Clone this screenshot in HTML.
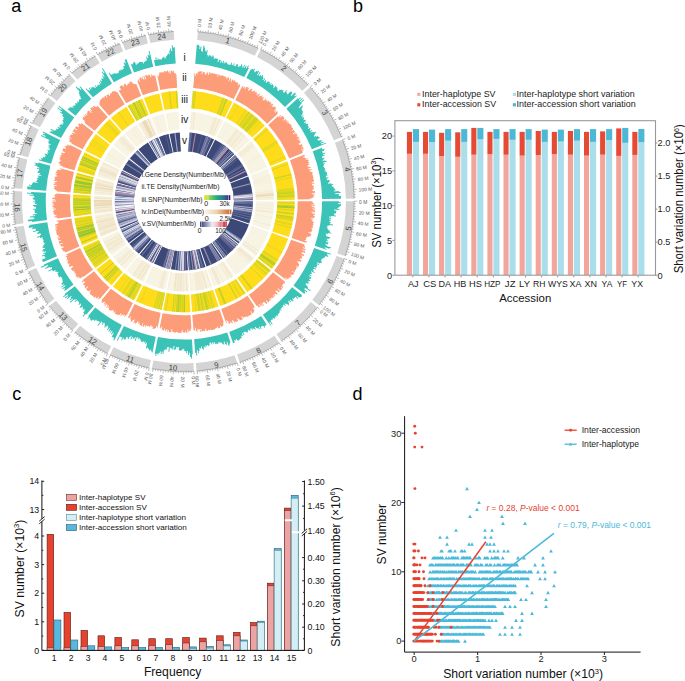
<!DOCTYPE html>
<html><head><meta charset="utf-8"><style>
html,body{margin:0;padding:0;background:#fff;overflow:hidden;}
svg{display:block;font-family:"Liberation Sans", sans-serif;}
</style></head><body>
<svg width="685" height="681" viewBox="0 0 685 681">
<rect width="685" height="681" fill="#fff"/>
<g>
<path d="M197.8,31.8A170.2,170.2 0 0 1 258.4,48.4L254.8,55.7A162.0,162.0 0 0 0 197.2,39.9Z" fill="#d4d4d4"/>
<path d="M260.8,49.5A170.2,170.2 0 0 1 308.3,85.2L302.3,90.8A162.0,162.0 0 0 0 257.1,56.9Z" fill="#d4d4d4"/>
<path d="M310.1,87.2A170.2,170.2 0 0 1 341.5,137.2L333.9,140.3A162.0,162.0 0 0 0 304,92.7Z" fill="#d4d4d4"/>
<path d="M342.5,139.7A170.2,170.2 0 0 1 354.1,198.6L345.9,198.7A162.0,162.0 0 0 0 334.9,142.7Z" fill="#d4d4d4"/>
<path d="M354.1,201.3A170.2,170.2 0 0 1 345.1,256.1L337.3,253.5A162.0,162.0 0 0 0 345.9,201.3Z" fill="#d4d4d4"/>
<path d="M344.2,258.6A170.2,170.2 0 0 1 318.8,305.1L312.3,300.1A162.0,162.0 0 0 0 336.5,255.9Z" fill="#d4d4d4"/>
<path d="M317.2,307.2A170.2,170.2 0 0 1 281.2,341.1L276.5,334.3A162.0,162.0 0 0 0 310.8,302.1Z" fill="#d4d4d4"/>
<path d="M279,342.6A170.2,170.2 0 0 1 239.7,362.2L237,354.4A162.0,162.0 0 0 0 274.4,335.8Z" fill="#d4d4d4"/>
<path d="M237.2,363A170.2,170.2 0 0 1 196.5,371.1L195.9,363A162.0,162.0 0 0 0 234.6,355.3Z" fill="#d4d4d4"/>
<path d="M193.8,371.3A170.2,170.2 0 0 1 151.9,368.6L153.4,360.5A162.0,162.0 0 0 0 193.4,363.1Z" fill="#d4d4d4"/>
<path d="M149.2,368A170.2,170.2 0 0 1 110,354.7L113.5,347.3A162.0,162.0 0 0 0 150.9,360Z" fill="#d4d4d4"/>
<path d="M107.6,353.5A170.2,170.2 0 0 1 74.8,332.1L80.1,325.8A162.0,162.0 0 0 0 111.2,346.2Z" fill="#d4d4d4"/>
<path d="M72.8,330.3A170.2,170.2 0 0 1 49.5,305.8L56,300.8A162.0,162.0 0 0 0 78.2,324.1Z" fill="#d4d4d4"/>
<path d="M47.9,303.7A170.2,170.2 0 0 1 28.7,271.3L36.2,267.9A162.0,162.0 0 0 0 54.4,298.8Z" fill="#d4d4d4"/>
<path d="M27.6,268.9A170.2,170.2 0 0 1 15.6,227L23.7,225.8A162.0,162.0 0 0 0 35.2,265.6Z" fill="#d4d4d4"/>
<path d="M15.3,224.4A170.2,170.2 0 0 1 14,190.9L22.2,191.4A162.0,162.0 0 0 0 23.4,223.2Z" fill="#d4d4d4"/>
<path d="M14.2,188.2A170.2,170.2 0 0 1 19.5,157.5L27.4,159.6A162.0,162.0 0 0 0 22.4,188.8Z" fill="#d4d4d4"/>
<path d="M20.2,154.9A170.2,170.2 0 0 1 31.4,125.9L38.7,129.5A162.0,162.0 0 0 0 28.1,157.2Z" fill="#d4d4d4"/>
<path d="M32.6,123.5A170.2,170.2 0 0 1 48.8,97.9L55.3,102.9A162.0,162.0 0 0 0 39.9,127.2Z" fill="#d4d4d4"/>
<path d="M50.4,95.8A170.2,170.2 0 0 1 69.9,75L75.4,81.1A162.0,162.0 0 0 0 56.9,100.9Z" fill="#d4d4d4"/>
<path d="M71.9,73.2A170.2,170.2 0 0 1 95.4,56L99.6,63.1A162.0,162.0 0 0 0 77.3,79.4Z" fill="#d4d4d4"/>
<path d="M97.6,54.7A170.2,170.2 0 0 1 120,43.6L123.1,51.2A162.0,162.0 0 0 0 101.8,61.7Z" fill="#d4d4d4"/>
<path d="M122.5,42.7A170.2,170.2 0 0 1 146,35.5L147.9,43.5A162.0,162.0 0 0 0 125.4,50.3Z" fill="#d4d4d4"/>
<path d="M148.7,34.9A170.2,170.2 0 0 1 173.8,31.5L174.3,39.7A162.0,162.0 0 0 0 150.4,42.9Z" fill="#d4d4d4"/>
<path d="M197.9,31.7A170.3,170.3 0 0 1 258.4,48.3M197.9,31.7L198.1,28.7M200.4,31.9L200.6,30.3M202.9,32.2L203.1,30.6M205.5,32.5L205.7,30.9M208,32.8L208.4,29.8M210.5,33.2L210.8,31.6M213.1,33.6L213.3,32M215.6,34.1L215.9,32.5M218.1,34.6L218.7,31.6M220.6,35.1L220.9,33.5M223.1,35.7L223.4,34.1M225.6,36.3L226,34.7M228,36.9L228.8,34M230.5,37.6L230.9,36.1M233,38.3L233.4,36.8M235.4,39.1L235.9,37.5M237.8,39.9L238.8,37M240.2,40.7L240.8,39.2M242.6,41.6L243.2,40.1M245,42.5L245.6,41M247.4,43.4L248.5,40.6M249.8,44.4L250.4,42.9M252.1,45.4L252.8,43.9M254.5,46.4L255.1,45M256.8,47.5L258.1,44.8M260.8,49.5A170.3,170.3 0 0 1 308.3,85.1M260.8,49.5L262.2,46.8M263.1,50.6L263.8,49.2M265.3,51.8L266.1,50.4M267.6,53.1L268.4,51.7M269.8,54.3L271.3,51.8M272,55.7L272.8,54.3M274.2,57L275,55.6M276.3,58.4L277.2,57M278.5,59.8L280.1,57.3M280.6,61.2L281.5,59.9M282.7,62.7L283.6,61.4M284.7,64.2L285.7,62.9M286.8,65.7L288.6,63.3M288.8,67.3L289.8,66M290.8,68.8L291.8,67.6M292.8,70.5L293.8,69.2M294.7,72.1L296.7,69.8M296.7,73.8L297.7,72.6M298.6,75.5L299.7,74.3M300.5,77.2L301.6,76.1M302.3,79L304.4,76.8M304.1,80.8L305.3,79.7M305.9,82.6L307.1,81.5M307.7,84.5L308.9,83.4M310.2,87.1A170.3,170.3 0 0 1 341.6,137.2M310.2,87.1L312.4,85.1M311.9,89L313.1,88M313.5,91L314.8,89.9M315.2,92.9L316.4,91.9M316.8,94.9L319.1,93M318.4,96.9L319.6,95.9M319.9,98.9L321.2,98M321.4,101L322.7,100M322.9,103.1L325.4,101.3M324.4,105.2L325.7,104.3M325.8,107.3L327.2,106.4M327.2,109.4L328.6,108.6M328.6,111.6L331.1,110M329.9,113.8L331.3,112.9M331.2,116L332.6,115.2M332.5,118.2L333.9,117.4M333.7,120.4L336.4,119M334.9,122.7L336.3,121.9M336.1,125L337.5,124.2M337.2,127.3L338.7,126.6M338.3,129.6L341,128.3M339.4,131.9L340.8,131.2M340.4,134.2L341.9,133.6M341.4,136.6L342.9,136M342.6,139.7A170.3,170.3 0 0 1 354.2,198.6M342.6,139.7L345.4,138.6M343.5,142.1L345,141.5M344.4,144.5L345.9,143.9M345.2,146.9L346.8,146.4M346,149.3L348.9,148.4M346.8,151.8L348.3,151.3M347.5,154.2L349.1,153.8M348.2,156.7L349.8,156.2M348.9,159.1L351.8,158.4M349.5,161.6L351,161.2M350.1,164.1L351.6,163.8M350.6,166.6L352.2,166.3M351.1,169.1L354.1,168.5M351.6,171.6L353.2,171.3M352,174.1L353.6,173.9M352.4,176.7L354,176.4M352.7,179.2L355.7,178.8M353.1,181.7L354.7,181.6M353.3,184.3L354.9,184.1M353.6,186.8L355.2,186.7M353.8,189.4L356.8,189.2M353.9,191.9L355.5,191.8M354.1,194.5L355.7,194.4M354.1,197L355.7,197M354.2,201.3A170.3,170.3 0 0 1 345.2,256.1M354.2,201.3L357.2,201.2M354.2,203.8L355.8,203.8M354.1,206.4L355.7,206.4M354,208.9L355.6,209M353.9,211.5L356.9,211.6M353.7,214L355.3,214.1M353.5,216.6L355.1,216.7M353.3,219.1L354.9,219.3M353,221.7L356,222M352.7,224.2L354.3,224.4M352.3,226.7L353.9,227M351.9,229.2L353.5,229.5M351.5,231.8L354.4,232.3M351,234.3L352.6,234.6M350.5,236.8L352,237.1M349.9,239.3L351.5,239.6M349.3,241.8L352.3,242.5M348.7,244.2L350.3,244.6M348.1,246.7L349.6,247.1M347.4,249.2L348.9,249.6M346.6,251.6L349.5,252.5M345.9,254.1L347.4,254.5M344.3,258.7A170.3,170.3 0 0 1 318.9,305.2M344.3,258.7L347.1,259.7M343.4,261.1L344.9,261.6M342.5,263.5L344,264M341.5,265.8L343,266.4M340.6,268.2L343.3,269.4M339.5,270.5L341,271.2M338.5,272.9L339.9,273.5M337.4,275.2L338.8,275.9M336.3,277.5L339,278.8M335.1,279.7L336.5,280.5M333.9,282L335.3,282.8M332.7,284.2L334.1,285M331.4,286.5L334,288M330.1,288.7L331.5,289.5M328.8,290.9L330.2,291.7M327.4,293L328.8,293.9M326.1,295.2L328.6,296.8M324.6,297.3L326,298.2M323.2,299.4L324.5,300.3M321.7,301.5L323,302.4M320.2,303.5L322.6,305.3M317.3,307.3A170.3,170.3 0 0 1 281.2,341.2M317.3,307.3L319.6,309.2M315.7,309.3L316.9,310.3M314,311.3L315.3,312.3M312.4,313.2L313.6,314.2M310.7,315.1L312.9,317.1M309,317L310.1,318.1M307.2,318.9L308.4,320M305.4,320.7L306.6,321.8M303.6,322.5L305.7,324.6M301.8,324.3L302.9,325.4M299.9,326.1L301,327.2M298.1,327.8L299.1,329M296.1,329.5L298.1,331.7M294.2,331.1L295.2,332.4M292.2,332.8L293.3,334M290.3,334.4L291.3,335.6M288.3,336L290.1,338.4M286.2,337.5L287.2,338.8M284.2,339.1L285.1,340.3M282.1,340.5L283,341.8M279,342.7A170.3,170.3 0 0 1 239.8,362.3M279,342.7L280.7,345.2M276.9,344.1L277.7,345.4M274.7,345.5L275.6,346.8M272.6,346.8L273.4,348.2M270.4,348.1L271.9,350.7M268.1,349.4L268.9,350.8M265.9,350.6L266.7,352.1M263.7,351.9L264.4,353.3M261.4,353L262.8,355.7M259.1,354.2L259.8,355.6M256.8,355.3L257.5,356.7M254.5,356.4L255.2,357.8M252.2,357.4L253.4,360.2M249.8,358.4L250.4,359.9M247.4,359.4L248,360.9M245.1,360.3L245.6,361.8M242.7,361.2L243.7,364.1M240.3,362.1L240.8,363.6M237.2,363.1A170.3,170.3 0 0 1 196.5,371.2M237.2,363.1L238.2,366M234.8,363.9L235.3,365.4M232.4,364.7L232.8,366.2M229.9,365.4L230.3,366.9M227.4,366L228.2,368.9M225,366.7L225.3,368.2M222.5,367.3L222.8,368.8M220,367.8L220.3,369.4M217.5,368.4L218.1,371.3M215,368.8L215.3,370.4M212.4,369.3L212.7,370.9M209.9,369.7L210.2,371.3M207.4,370.1L207.8,373M204.9,370.4L205.1,372M202.3,370.7L202.5,372.3M199.8,371L199.9,372.6M197.2,371.2L197.5,374.2M193.9,371.4A170.3,170.3 0 0 1 151.8,368.7M193.9,371.4L194,374.4M191.3,371.5L191.4,373.1M188.7,371.6L188.8,373.2M186.2,371.7L186.2,373.3M183.6,371.7L183.6,374.7M181.1,371.7L181,373.3M178.5,371.6L178.5,373.2M176,371.5L175.9,373.1M173.4,371.4L173.2,374.4M170.9,371.2L170.7,372.8M168.3,371L168.2,372.6M165.8,370.7L165.6,372.3M163.2,370.4L162.9,373.4M160.7,370.1L160.5,371.7M158.2,369.7L157.9,371.3M155.6,369.3L155.4,370.9M153.1,368.9L152.6,371.8M149.2,368.1A170.3,170.3 0 0 1 109.9,354.8M149.2,368.1L148.6,371.1M146.7,367.6L146.4,369.2M144.2,367L143.9,368.6M141.7,366.4L141.4,368M139.3,365.8L138.5,368.6M136.8,365.1L136.4,366.6M134.4,364.3L133.9,365.9M131.9,363.6L131.4,365.1M129.5,362.8L128.5,365.6M127.1,361.9L126.5,363.5M124.7,361.1L124.1,362.6M122.3,360.2L121.7,361.7M119.9,359.2L118.8,362M117.6,358.2L116.9,359.7M115.2,357.2L114.6,358.7M112.9,356.2L112.2,357.6M110.6,355.1L109.3,357.8M107.5,353.6A170.3,170.3 0 0 1 74.8,332.1M107.5,353.6L106.2,356.3M105.2,352.4L104.5,353.9M103,351.2L102.2,352.7M100.7,350L100,351.4M98.5,348.8L97,351.3M96.3,347.5L95.5,348.8M94.1,346.1L93.3,347.5M92,344.8L91.1,346.1M89.8,343.4L88.2,345.9M87.7,341.9L86.8,343.3M85.6,340.5L84.7,341.8M83.5,339L82.6,340.3M81.5,337.5L79.7,339.9M79.5,335.9L78.5,337.2M77.4,334.3L76.4,335.6M75.5,332.7L74.4,333.9M72.7,330.4A170.3,170.3 0 0 1 49.4,305.9M72.7,330.4L70.8,332.7M70.8,328.7L69.7,329.9M68.9,327L67.8,328.2M67,325.3L65.9,326.4M65.2,323.5L63.1,325.7M63.4,321.7L62.2,322.8M61.6,319.9L60.4,321M59.8,318L58.7,319.1M58.1,316.2L55.9,318.2M56.4,314.3L55.2,315.3M54.7,312.3L53.5,313.4M53,310.4L51.8,311.4M51.4,308.4L49.1,310.3M49.8,306.4L48.6,307.4M47.8,303.8A170.3,170.3 0 0 1 28.6,271.3M47.8,303.8L45.4,305.6M46.3,301.7L45,302.7M44.8,299.6L43.5,300.6M43.3,297.5L42,298.4M41.9,295.4L39.4,297.1M40.5,293.3L39.2,294.1M39.1,291.1L37.8,292M37.8,288.9L36.4,289.8M36.5,286.7L33.9,288.2M35.3,284.5L33.9,285.3M34,282.3L32.6,283M32.8,280L31.4,280.7M31.7,277.7L29,279.1M30.5,275.4L29.1,276.1M29.4,273.1L28,273.8M27.5,268.9A170.3,170.3 0 0 1 15.5,227M27.5,268.9L24.8,270.1M26.6,266.5L25.1,267.2M25.6,264.2L24.1,264.8M24.7,261.8L23.2,262.4M23.8,259.4L21,260.4M22.9,257L21.4,257.5M22.1,254.6L20.6,255.1M21.3,252.1L19.8,252.6M20.6,249.7L17.7,250.5M19.9,247.2L18.3,247.7M19.2,244.8L17.7,245.2M18.6,242.3L17,242.7M18,239.8L15.1,240.5M17.4,237.3L15.9,237.6M16.9,234.8L15.3,235.1M16.4,232.3L14.9,232.6M16,229.8L13,230.3M15.6,227.2L14,227.5M15.2,224.4A170.3,170.3 0 0 1 13.9,190.9M15.2,224.4L12.2,224.8M14.8,221.8L13.2,222M14.5,219.3L13,219.5M14.3,216.7L12.7,216.9M14.1,214.2L11.1,214.4M13.9,211.6L12.3,211.7M13.8,209.1L12.2,209.2M13.7,206.5L12.1,206.6M13.6,204L10.6,204M13.6,201.4L12,201.4M13.6,198.9L12,198.8M13.7,196.3L12.1,196.3M13.8,193.8L10.8,193.6M13.9,191.2L12.3,191.1M14.1,188.2A170.3,170.3 0 0 1 19.4,157.5M14.1,188.2L11.1,188M14.3,185.6L12.7,185.5M14.6,183.1L13,182.9M14.9,180.6L13.3,180.4M15.2,178L12.2,177.6M15.6,175.5L14,175.2M16,173L14.4,172.7M16.4,170.5L14.9,170.2M16.9,167.9L14,167.4M17.4,165.4L15.9,165.1M18,162.9L16.4,162.6M18.6,160.5L17,160.1M19.2,158L16.3,157.2M20.1,154.9A170.3,170.3 0 0 1 31.3,125.8M20.1,154.9L17.2,154.1M20.8,152.4L19.3,152M21.5,150L20,149.5M22.3,147.6L20.8,147.1M23.2,145.1L20.3,144.2M24,142.7L22.5,142.2M24.9,140.3L23.4,139.8M25.9,138L24.4,137.4M26.8,135.6L24.1,134.4M27.8,133.2L26.4,132.6M28.9,130.9L27.4,130.3M29.9,128.6L28.5,127.9M31.1,126.3L28.4,125M32.5,123.4A170.3,170.3 0 0 1 48.7,97.8M32.5,123.4L29.8,122.1M33.7,121.2L32.3,120.4M34.9,118.9L33.5,118.1M36.2,116.7L34.8,115.9M37.5,114.5L34.9,112.9M38.8,112.3L37.4,111.5M40.1,110.1L38.8,109.3M41.5,108L40.2,107.1M42.9,105.8L40.4,104.2M44.4,103.7L43.1,102.8M45.9,101.7L44.6,100.7M47.4,99.6L46.1,98.6M50.3,95.7A170.3,170.3 0 0 1 69.8,74.9M50.3,95.7L48,93.9M51.9,93.7L50.7,92.7M53.6,91.8L52.4,90.7M55.2,89.8L54,88.8M56.9,87.9L54.7,85.9M58.6,86L57.5,84.9M60.4,84.2L59.2,83.1M62.2,82.3L61,81.2M64,80.5L61.9,78.4M65.8,78.7L64.7,77.6M67.6,77L66.6,75.8M69.5,75.2L68.5,74M71.8,73.2A170.3,170.3 0 0 1 95.3,56M71.8,73.2L69.9,70.9M73.8,71.5L72.7,70.3M75.7,69.9L74.7,68.6M77.7,68.3L76.7,67M79.7,66.7L77.9,64.3M81.8,65.1L80.8,63.8M83.8,63.6L82.9,62.3M85.9,62.1L85,60.8M88,60.7L86.3,58.2M90.1,59.2L89.2,57.9M92.3,57.9L91.4,56.5M94.4,56.5L93.6,55.1M97.6,54.6A170.3,170.3 0 0 1 120,43.6M97.6,54.6L96.1,52M99.8,53.3L99,51.9M102,52.1L101.3,50.7M104.3,50.9L103.5,49.4M106.6,49.7L105.2,47M108.8,48.5L108.1,47.1M111.1,47.4L110.5,46M113.5,46.3L112.8,44.9M115.8,45.3L114.6,42.6M118.2,44.3L117.5,42.8M122.5,42.6A170.3,170.3 0 0 1 146,35.4M122.5,42.6L121.4,39.8M124.8,41.7L124.3,40.2M127.2,40.8L126.7,39.3M129.7,40L129.2,38.4M132.1,39.2L131.2,36.3M134.5,38.4L134.1,36.9M137,37.7L136.5,36.2M139.4,37L139,35.5M141.9,36.4L141.2,33.4M144.4,35.7L144,34.2M148.6,34.8A170.3,170.3 0 0 1 173.8,31.4M148.6,34.8L148,31.9M151.1,34.3L150.8,32.7M153.7,33.8L153.4,32.2M156.2,33.4L155.9,31.8M158.7,33L158.3,30M161.2,32.6L161,31M163.8,32.3L163.6,30.7M166.3,32L166.1,30.4M168.9,31.8L168.6,28.8M171.4,31.6L171.3,30" stroke="#666" stroke-width="0.45" fill="none"/>
<g font-size="4.9" fill="#5a5a5a"><text x="198.3" y="26.8" transform="rotate(-85.3 198.3 26.8)" dy="2.6">0 M</text><text x="208.7" y="28" transform="rotate(-81.9 208.7 28)" dy="2.6">20 M</text><text x="219.1" y="29.8" transform="rotate(-78.4 219.1 29.8)" dy="2.6">40 M</text><text x="229.3" y="32.2" transform="rotate(-75 229.3 32.2)" dy="2.6">60 M</text><text x="239.4" y="35.2" transform="rotate(-71.5 239.4 35.2)" dy="2.6">80 M</text><text x="249.2" y="38.8" transform="rotate(-68.1 249.2 38.8)" dy="2.6">100 M</text><text x="258.9" y="43.1" transform="rotate(-64.7 258.9 43.1)" dy="2.6">120 M</text><text x="263" y="45.1" transform="rotate(-63.2 263 45.1)" dy="2.6">0 M</text><text x="272.3" y="50.1" transform="rotate(-59.7 272.3 50.1)" dy="2.6">20 M</text><text x="281.2" y="55.7" transform="rotate(-56.3 281.2 55.7)" dy="2.6">40 M</text><text x="289.8" y="61.8" transform="rotate(-52.8 289.8 61.8)" dy="2.6">60 M</text><text x="297.9" y="68.4" transform="rotate(-49.4 297.9 68.4)" dy="2.6">80 M</text><text x="305.7" y="75.5" transform="rotate(-46 305.7 75.5)" dy="2.6">100 M</text><text x="313.8" y="83.8" transform="rotate(-42.1 313.8 83.8)" dy="2.6">0 M</text><text x="320.6" y="91.8" transform="rotate(-38.7 320.6 91.8)" dy="2.6">20 M</text><text x="326.9" y="100.2" transform="rotate(-35.3 326.9 100.2)" dy="2.6">40 M</text><text x="332.8" y="109" transform="rotate(-31.8 332.8 109)" dy="2.6">60 M</text><text x="338" y="118.1" transform="rotate(-28.4 338 118.1)" dy="2.6">80 M</text><text x="342.7" y="127.5" transform="rotate(-25 342.7 127.5)" dy="2.6">100 M</text><text x="347.2" y="137.9" transform="rotate(-21.2 347.2 137.9)" dy="2.6">0 M</text><text x="350.7" y="147.8" transform="rotate(-17.8 350.7 147.8)" dy="2.6">20 M</text><text x="353.6" y="157.9" transform="rotate(-14.4 353.6 157.9)" dy="2.6">40 M</text><text x="355.9" y="168.2" transform="rotate(-10.9 355.9 168.2)" dy="2.6">60 M</text><text x="357.6" y="178.6" transform="rotate(-7.5 357.6 178.6)" dy="2.6">80 M</text><text x="358.7" y="189" transform="rotate(-4 358.7 189)" dy="2.6">100 M</text><text x="359.1" y="201.2" transform="rotate(-0 359.1 201.2)" dy="2.6">0 M</text><text x="358.8" y="211.8" transform="rotate(3.4 358.8 211.8)" dy="2.6">20 M</text><text x="357.9" y="222.2" transform="rotate(6.8 357.9 222.2)" dy="2.6">40 M</text><text x="356.3" y="232.6" transform="rotate(10.3 356.3 232.6)" dy="2.6">60 M</text><text x="354.1" y="242.9" transform="rotate(13.7 354.1 242.9)" dy="2.6">80 M</text><text x="351.3" y="253.1" transform="rotate(17.2 351.3 253.1)" dy="2.6">100 M</text><text x="348.9" y="260.3" transform="rotate(19.7 348.9 260.3)" dy="2.6">0 M</text><text x="345.1" y="270.1" transform="rotate(23.1 345.1 270.1)" dy="2.6">20 M</text><text x="340.7" y="279.7" transform="rotate(26.5 340.7 279.7)" dy="2.6">40 M</text><text x="335.7" y="288.9" transform="rotate(30 335.7 288.9)" dy="2.6">60 M</text><text x="330.1" y="297.9" transform="rotate(33.4 330.1 297.9)" dy="2.6">80 M</text><text x="324.1" y="306.5" transform="rotate(36.9 324.1 306.5)" dy="2.6">100 M</text><text x="321.1" y="310.3" transform="rotate(38.4 321.1 310.3)" dy="2.6">0 M</text><text x="314.3" y="318.4" transform="rotate(41.9 314.3 318.4)" dy="2.6">20 M</text><text x="307.1" y="326" transform="rotate(45.3 307.1 326)" dy="2.6">40 M</text><text x="299.4" y="333.2" transform="rotate(48.8 299.4 333.2)" dy="2.6">60 M</text><text x="291.3" y="339.9" transform="rotate(52.2 291.3 339.9)" dy="2.6">80 M</text><text x="281.7" y="346.7" transform="rotate(56 281.7 346.7)" dy="2.6">0 M</text><text x="272.8" y="352.3" transform="rotate(59.5 272.8 352.3)" dy="2.6">20 M</text><text x="263.6" y="357.4" transform="rotate(62.9 263.6 357.4)" dy="2.6">40 M</text><text x="254.1" y="361.9" transform="rotate(66.4 254.1 361.9)" dy="2.6">60 M</text><text x="244.4" y="365.8" transform="rotate(69.8 244.4 365.8)" dy="2.6">80 M</text><text x="238.8" y="367.8" transform="rotate(71.8 238.8 367.8)" dy="2.6">0 M</text><text x="228.7" y="370.8" transform="rotate(75.2 228.7 370.8)" dy="2.6">20 M</text><text x="218.4" y="373.2" transform="rotate(78.6 218.4 373.2)" dy="2.6">40 M</text><text x="208.1" y="374.9" transform="rotate(82.1 208.1 374.9)" dy="2.6">60 M</text><text x="197.6" y="376.1" transform="rotate(85.5 197.6 376.1)" dy="2.6">80 M</text><text x="194.1" y="376.3" transform="rotate(86.6 194.1 376.3)" dy="2.6">0 M</text><text x="183.6" y="376.6" transform="rotate(90.1 183.6 376.6)" dy="2.6">20 M</text><text x="173.1" y="376.3" transform="rotate(93.5 173.1 376.3)" dy="2.6">40 M</text><text x="162.6" y="375.3" transform="rotate(97 162.6 375.3)" dy="2.6">60 M</text><text x="152.2" y="373.7" transform="rotate(100.4 152.2 373.7)" dy="2.6">80 M</text><text x="148.2" y="372.9" transform="rotate(101.8 148.2 372.9)" dy="2.6">0 M</text><text x="138" y="370.5" transform="rotate(105.2 138 370.5)" dy="2.6">20 M</text><text x="127.9" y="367.4" transform="rotate(108.6 127.9 367.4)" dy="2.6">40 M</text><text x="118.1" y="363.8" transform="rotate(112.1 118.1 363.8)" dy="2.6">60 M</text><text x="108.4" y="359.5" transform="rotate(115.5 108.4 359.5)" dy="2.6">80 M</text><text x="105.3" y="358" transform="rotate(296.6 105.3 358)" dy="1.7" text-anchor="end">0 M</text><text x="96.1" y="353" transform="rotate(300.1 96.1 353)" dy="1.7" text-anchor="end">20 M</text><text x="87.1" y="347.4" transform="rotate(303.5 87.1 347.4)" dy="1.7" text-anchor="end">40 M</text><text x="78.5" y="341.4" transform="rotate(307 78.5 341.4)" dy="1.7" text-anchor="end">60 M</text><text x="69.5" y="334.1" transform="rotate(310.8 69.5 334.1)" dy="1.7" text-anchor="end">0 M</text><text x="61.8" y="327" transform="rotate(314.2 61.8 327)" dy="1.7" text-anchor="end">20 M</text><text x="54.5" y="319.5" transform="rotate(317.6 54.5 319.5)" dy="1.7" text-anchor="end">40 M</text><text x="47.6" y="311.5" transform="rotate(321.1 47.6 311.5)" dy="1.7" text-anchor="end">60 M</text><text x="43.9" y="306.7" transform="rotate(323 43.9 306.7)" dy="1.7" text-anchor="end">0 M</text><text x="37.8" y="298.1" transform="rotate(326.5 37.8 298.1)" dy="1.7" text-anchor="end">20 M</text><text x="32.3" y="289.2" transform="rotate(329.9 32.3 289.2)" dy="1.7" text-anchor="end">40 M</text><text x="27.3" y="279.9" transform="rotate(333.4 27.3 279.9)" dy="1.7" text-anchor="end">60 M</text><text x="23" y="270.8" transform="rotate(336.6 23 270.8)" dy="1.7" text-anchor="end">0 M</text><text x="19.2" y="261.1" transform="rotate(340.1 19.2 261.1)" dy="1.7" text-anchor="end">20 M</text><text x="15.9" y="251.1" transform="rotate(343.5 15.9 251.1)" dy="1.7" text-anchor="end">40 M</text><text x="13.2" y="240.9" transform="rotate(347 13.2 240.9)" dy="1.7" text-anchor="end">60 M</text><text x="11.1" y="230.6" transform="rotate(350.4 11.1 230.6)" dy="1.7" text-anchor="end">80 M</text><text x="10.3" y="225" transform="rotate(352.2 10.3 225)" dy="1.7" text-anchor="end">0 M</text><text x="9.2" y="214.6" transform="rotate(355.7 9.2 214.6)" dy="1.7" text-anchor="end">20 M</text><text x="8.7" y="204.1" transform="rotate(359.1 8.7 204.1)" dy="1.7" text-anchor="end">40 M</text><text x="8.9" y="193.5" transform="rotate(362.6 8.9 193.5)" dy="1.7" text-anchor="end">60 M</text><text x="9.2" y="187.8" transform="rotate(364.4 9.2 187.8)" dy="1.7" text-anchor="end">0 M</text><text x="10.4" y="177.4" transform="rotate(367.9 10.4 177.4)" dy="1.7" text-anchor="end">20 M</text><text x="12.1" y="167" transform="rotate(371.3 12.1 167)" dy="1.7" text-anchor="end">40 M</text><text x="14.5" y="156.7" transform="rotate(374.8 14.5 156.7)" dy="1.7" text-anchor="end">60 M</text><text x="15.4" y="153.5" transform="rotate(375.8 15.4 153.5)" dy="1.7" text-anchor="end">0 M</text><text x="18.5" y="143.5" transform="rotate(379.3 18.5 143.5)" dy="1.7" text-anchor="end">20 M</text><text x="22.3" y="133.7" transform="rotate(382.7 22.3 133.7)" dy="1.7" text-anchor="end">40 M</text><text x="26.7" y="124.1" transform="rotate(386.2 26.7 124.1)" dy="1.7" text-anchor="end">60 M</text><text x="28.1" y="121.2" transform="rotate(387.2 28.1 121.2)" dy="1.7" text-anchor="end">0 M</text><text x="33.2" y="112" transform="rotate(390.7 33.2 112)" dy="1.7" text-anchor="end">20 M</text><text x="38.9" y="103.1" transform="rotate(394.1 38.9 103.1)" dy="1.7" text-anchor="end">40 M</text><text x="46.5" y="92.7" transform="rotate(218.3 46.5 92.7)" dy="2.6">0 M</text><text x="53.3" y="84.6" transform="rotate(221.8 53.3 84.6)" dy="2.6">20 M</text><text x="60.5" y="77" transform="rotate(225.2 60.5 77)" dy="2.6">40 M</text><text x="68.6" y="69.5" transform="rotate(228.8 68.6 69.5)" dy="2.6">0 M</text><text x="76.7" y="62.8" transform="rotate(232.3 76.7 62.8)" dy="2.6">20 M</text><text x="85.2" y="56.6" transform="rotate(235.7 85.2 56.6)" dy="2.6">40 M</text><text x="95.1" y="50.4" transform="rotate(239.6 95.1 50.4)" dy="2.6">0 M</text><text x="104.3" y="45.3" transform="rotate(243 104.3 45.3)" dy="2.6">20 M</text><text x="113.8" y="40.8" transform="rotate(246.4 113.8 40.8)" dy="2.6">40 M</text><text x="120.7" y="38" transform="rotate(248.8 120.7 38)" dy="2.6">0 M</text><text x="130.6" y="34.5" transform="rotate(252.3 130.6 34.5)" dy="2.6">20 M</text><text x="140.7" y="31.6" transform="rotate(255.7 140.7 31.6)" dy="2.6">40 M</text><text x="147.6" y="30" transform="rotate(258.1 147.6 30)" dy="2.6">0 M</text><text x="158" y="28.1" transform="rotate(261.5 158 28.1)" dy="2.6">20 M</text><text x="168.4" y="26.9" transform="rotate(264.9 168.4 26.9)" dy="2.6">40 M</text></g>
<g font-size="7.8" fill="#444"><text x="227.9" y="40.7" transform="rotate(15.3 227.9 40.7)" dy="2.8" text-anchor="middle">1</text><text x="283.9" y="68.2" transform="rotate(36.9 283.9 68.2)" dy="2.8" text-anchor="middle">2</text><text x="325" y="112.7" transform="rotate(57.8 325 112.7)" dy="2.8" text-anchor="middle">3</text><text x="347.4" y="169.3" transform="rotate(78.9 347.4 169.3)" dy="2.8" text-anchor="middle">4</text><text x="348.3" y="228.5" transform="rotate(-80.7 348.3 228.5)" dy="2.8" text-anchor="middle">5</text><text x="330.2" y="281.2" transform="rotate(-61.4 330.2 281.2)" dy="2.8" text-anchor="middle">6</text><text x="297.9" y="322.8" transform="rotate(-43.2 297.9 322.8)" dy="2.8" text-anchor="middle">7</text><text x="258.4" y="350.4" transform="rotate(-26.6 258.4 350.4)" dy="2.8" text-anchor="middle">8</text><text x="216.4" y="364.8" transform="rotate(-11.2 216.4 364.8)" dy="2.8" text-anchor="middle">9</text><text x="173" y="367.6" transform="rotate(3.8 173 367.6)" dy="2.8" text-anchor="middle">10</text><text x="130.3" y="359.2" transform="rotate(18.8 130.3 359.2)" dy="2.8" text-anchor="middle">11</text><text x="92.6" y="340.7" transform="rotate(33.2 92.6 340.7)" dy="2.8" text-anchor="middle">12</text><text x="63.2" y="316.2" transform="rotate(46.4 63.2 316.2)" dy="2.8" text-anchor="middle">13</text><text x="40.5" y="286.2" transform="rotate(59.4 40.5 286.2)" dy="2.8" text-anchor="middle">14</text><text x="23.8" y="247.3" transform="rotate(74 23.8 247.3)" dy="2.8" text-anchor="middle">15</text><text x="17.4" y="207.5" transform="rotate(87.9 17.4 207.5)" dy="2.8" text-anchor="middle">16</text><text x="19.7" y="173.3" transform="rotate(279.7 19.7 173.3)" dy="2.8" text-anchor="middle">17</text><text x="28.5" y="141.4" transform="rotate(291.1 28.5 141.4)" dy="2.8" text-anchor="middle">18</text><text x="43.2" y="112.3" transform="rotate(302.4 43.2 112.3)" dy="2.8" text-anchor="middle">19</text><text x="62.4" y="87.5" transform="rotate(313.1 62.4 87.5)" dy="2.8" text-anchor="middle">20</text><text x="85.4" y="67" transform="rotate(323.8 85.4 67)" dy="2.8" text-anchor="middle">21</text><text x="110.2" y="52" transform="rotate(333.8 110.2 52)" dy="2.8" text-anchor="middle">22</text><text x="135.2" y="42.1" transform="rotate(343 135.2 42.1)" dy="2.8" text-anchor="middle">23</text><text x="161.6" y="36.3" transform="rotate(352.3 161.6 36.3)" dy="2.8" text-anchor="middle">24</text></g>
<path d="M195.2,63.7L196.8,44.7L197.7,44.8L197.7,44.8L198.7,44.9L198.6,45.6L199.6,45.7L199.3,49L200.2,49.1L200.5,46.4L201.5,46.5L201,51L201.9,51.1L201.8,51.7L202.7,51.8L203.5,45.4L204.5,45.6L204.2,47.5L205.2,47.7L204.8,50.4L205.8,50.5L205.6,51.5L206.5,51.7L206.8,49.9L207.7,50L207,55L207.9,55.1L207.7,56.4L208.6,56.5L208.8,55L209.7,55.2L209.7,55.3L210.6,55.5L210.5,56L211.4,56.2L211.3,56.8L212.2,56.9L212.5,55.3L213.4,55.5L213.2,56.5L214.1,56.7L213.6,58.9L214.5,59.1L214.7,58L215.6,58.2L215.6,58.4L216.5,58.6L216.5,58.6L217.3,58.8L217.4,58.8L218.2,59L217.5,61.9L218.4,62.1L219,59.6L219.9,59.9L219.9,59.7L220.8,59.9L220.1,62.5L221,62.7L221.5,60.7L222.4,61L221.9,62.9L222.7,63.1L223.4,60.7L224.3,60.9L223.6,63.3L224.4,63.5L224.8,62.4L225.6,62.7L225.9,61.9L226.7,62.1L226.5,62.7L227.4,63L227.1,64L227.9,64.3L227.9,64.4L228.8,64.6L228.8,64.6L229.6,64.9L229.7,64.5L230.6,64.8L231.4,62.5L232.2,62.8L231.6,64.6L232.4,64.9L232.4,65.1L233.2,65.4L234,63.3L234.8,63.6L234,65.8L234.8,66.2L235,65.7L235.9,66L236.6,64L237.5,64.3L237.5,64.3L238.3,64.6L237.5,66.7L238.4,67L238.6,66.3L239.5,66.7L239.7,66.1L240.5,66.4L241.5,64.1L242.4,64.5L241.8,65.7L242.7,66L242.1,67.3L243,67.7L244.3,64.7L245.1,65.1L244,67.4L244.9,67.8L245.8,65.7L246.7,66.1L245.8,68L246.6,68.4L248,65.4L248.9,65.8L248,67.5L248.9,67.9L244.4,77.1A138.2,138.2 0 0 0 195.2,63.7ZM246.3,78.1L250.9,69.1L251.7,69.5L252.1,68.8L252.9,69.2L252.8,69.3L253.6,69.8L254.3,68.5L255.1,68.9L254,71L254.8,71.5L254.4,72.1L255.2,72.6L256.2,70.7L257,71.2L257,71.2L257.8,71.6L258.4,70.7L259.2,71.1L257,74.9L257.8,75.3L259.7,72L260.5,72.5L258.7,75.5L259.5,76L260.3,74.7L261,75.2L260.5,76.1L261.2,76.6L262.4,74.7L263.2,75.1L262.5,76.3L263.3,76.8L262.9,77.4L263.7,77.9L262.5,79.7L263.2,80.2L264.5,78.2L265.3,78.7L263.8,80.9L264.6,81.4L265.4,80.1L266.2,80.6L265.8,81.2L266.5,81.7L266,82.4L266.7,82.9L268,81.1L268.7,81.7L268.7,81.7L269.4,82.3L269.5,82.1L270.2,82.7L269.4,83.9L270.1,84.4L271.2,82.9L271.9,83.4L270.9,84.7L271.6,85.3L272.5,84.1L273.3,84.6L272.8,85.3L273.5,85.8L273.4,85.9L274.1,86.5L273.1,87.8L273.8,88.3L275.8,85.8L276.5,86.4L276.1,86.9L276.8,87.5L276.9,87.3L277.6,87.9L277.1,88.6L277.8,89.1L277,90L277.7,90.6L277.7,90.6L278.4,91.2L279.7,89.6L280.4,90.2L281.2,89.3L281.9,89.9L281.9,89.9L282.6,90.5L283.1,89.9L283.8,90.5L282.8,91.6L283.5,92.2L283.4,92.3L284,92.9L286.7,90.1L287.3,90.8L286,92.1L286.7,92.8L286.6,92.9L287.2,93.5L287,93.8L287.7,94.4L290.4,91.6L291.1,92.2L291.8,91.5L292.5,92.2L291.6,93.1L292.2,93.8L290.6,95.4L291.2,96.1L294.9,92.5L295.5,93.2L295.4,93.3L296,94L294.2,95.8L294.9,96.4L296.2,95.2L296.8,95.9L284.9,107.1A138.2,138.2 0 0 0 246.3,78.1ZM286.4,108.7L297.8,98.3L298.5,99L300.3,97.3L301,98L298.7,100L299.4,100.7L302.4,98.1L303,98.8L299.9,101.5L300.5,102.2L303.6,99.5L304.2,100.3L301.2,102.8L301.8,103.5L299.5,105.4L300.1,106.1L298.5,107.5L299,108.2L302.5,105.3L303.1,106.1L302.2,106.8L302.8,107.6L301.3,108.7L301.8,109.5L301.7,109.6L302.3,110.3L301.9,110.6L302.4,111.3L302.6,111.1L303.2,111.9L302.4,112.5L303,113.2L302,113.9L302.5,114.7L300.8,115.9L301.3,116.6L303.1,115.3L303.7,116L302.1,117.1L302.6,117.8L303.6,117.2L304.1,117.9L303.7,118.2L304.2,119L303.4,119.5L303.9,120.2L305,119.4L305.5,120.2L305.5,120.2L306,121L303.9,122.3L304.4,123.1L305.6,122.3L306.1,123L305.5,123.4L306,124.2L307.2,123.4L307.7,124.1L307.8,124L308.3,124.8L307.6,125.2L308,126L308.2,125.9L308.7,126.7L308.5,126.8L309,127.5L307.9,128.1L308.4,128.9L310.5,127.7L310.9,128.4L309.9,129.1L310.3,129.8L309.8,130.1L310.3,130.9L311.9,130L312.3,130.7L310.3,131.9L310.7,132.6L312.2,131.8L312.7,132.6L314.2,131.8L314.6,132.6L316,131.8L316.5,132.6L314.9,133.5L315.3,134.3L314,134.9L314.4,135.7L313.9,136L314.3,136.8L315.9,136L316.3,136.8L317.7,136.1L318.1,136.9L318.8,136.6L319.2,137.4L319.6,137.3L320,138.1L317.3,139.3L317.7,140.1L318.2,139.9L318.6,140.7L320.4,139.9L320.8,140.7L322,140.2L322.4,141L320.3,141.9L320.7,142.8L323.5,141.5L323.9,142.4L321.1,143.6L321.5,144.4L325.7,142.7L326.1,143.5L311.9,149.3A138.2,138.2 0 0 0 286.4,108.7ZM312.7,151.3L322,147.7L322.3,148.6L322,148.7L322.3,149.5L324.4,148.8L324.7,149.6L323.9,149.9L324.2,150.8L321.9,151.6L322.2,152.5L322.7,152.3L323,153.2L325.2,152.4L325.5,153.3L322.9,154.2L323.1,155.1L324.4,154.6L324.7,155.5L322.2,156.3L322.5,157.2L321.9,157.4L322.2,158.2L324.3,157.6L324.6,158.4L323.4,158.8L323.6,159.7L322.6,160L322.8,160.9L325,160.2L325.3,161.1L326.5,160.8L326.7,161.7L323,162.7L323.3,163.5L324.7,163.2L324.9,164L323.8,164.3L324.1,165.2L323.2,165.4L323.5,166.3L323.5,166.3L323.7,167.1L324,167.1L324.2,167.9L325,167.8L325.2,168.6L324.7,168.7L324.9,169.6L325.3,169.5L325.5,170.4L324.5,170.6L324.7,171.5L325.9,171.2L326.1,172.1L326.7,172L326.9,172.9L326.9,172.9L327.1,173.8L326.8,173.8L326.9,174.7L327.4,174.6L327.6,175.5L325.9,175.8L326,176.7L325.9,176.7L326,177.6L328.2,177.3L328.3,178.2L326.6,178.4L326.7,179.3L327,179.3L327.2,180.2L329.4,179.8L329.5,180.7L329.8,180.7L329.9,181.6L328.9,181.7L329,182.7L327.9,182.8L328.1,183.7L331.2,183.3L331.3,184.2L333.1,184L333.2,184.9L331.7,185.1L331.8,186L332.4,186L332.4,186.9L333.6,186.8L333.7,187.7L333.8,187.7L333.9,188.6L334.8,188.6L334.8,189.5L335.6,189.4L335.7,190.4L334,190.5L334.1,191.4L339,191.1L339.1,192.1L340.6,192L340.6,192.9L335.2,193.2L335.3,194.2L339,194L339,195L338.7,195L338.8,195.9L341,195.9L341,196.8L341,196.8L341.1,197.8L341.1,197.8L341.1,198.8L322.1,199.1A138.2,138.2 0 0 0 312.7,151.3ZM322.1,201.3L339.1,201.3L339.1,202.2L341.1,202.2L341.1,203.2L337.9,203.2L337.9,204.1L341.1,204.2L341.1,205.2L341.1,205.2L341,206.1L339.7,206.1L339.7,207.1L338.4,207L338.4,208L337.5,207.9L337.5,208.9L339.3,209L339.2,209.9L334.1,209.6L334.1,210.6L336.4,210.7L336.4,211.7L336.2,211.7L336.1,212.6L336,212.6L335.9,213.5L334.3,213.4L334.2,214.3L334.1,214.3L334,215.2L335.9,215.4L335.8,216.4L331.1,215.9L331,216.8L329.2,216.6L329.1,217.5L331.5,217.8L331.4,218.7L329.4,218.5L329.3,219.4L330.8,219.6L330.7,220.5L330.4,220.4L330.3,221.3L329.6,221.2L329.5,222.1L331.2,222.4L331,223.3L329.9,223.1L329.8,224L333.1,224.5L332.9,225.5L329.3,224.9L329.1,225.8L327.8,225.5L327.6,226.4L326.9,226.3L326.7,227.2L327.9,227.4L327.8,228.3L327.3,228.2L327.2,229.1L328.4,229.3L328.2,230.2L329.8,230.6L329.7,231.5L329.9,231.5L329.7,232.4L331.3,232.8L331.1,233.7L328.2,233L328,233.9L325.9,233.5L325.7,234.3L326.3,234.5L326.1,235.4L326.3,235.4L326.1,236.3L330.2,237.3L330,238.2L329.4,238.1L329.2,239L327.6,238.5L327.4,239.4L326.8,239.3L326.6,240.2L328.1,240.6L327.8,241.5L326.4,241.1L326.1,241.9L328.5,242.6L328.2,243.5L328.1,243.5L327.9,244.4L325.6,243.7L325.3,244.6L326.7,245L326.4,245.9L331.2,247.4L330.9,248.3L329.6,247.9L329.3,248.8L324.9,247.3L324.6,248.2L326.7,248.9L326.4,249.8L314.8,245.8A138.2,138.2 0 0 0 322.1,201.3ZM314.1,247.9L330.8,253.8L330.5,254.7L327.3,253.6L327,254.5L327.7,254.8L327.4,255.6L328.4,256L328.1,256.9L325.6,256L325.3,256.8L325,256.7L324.7,257.6L324.4,257.5L324,258.3L323.2,258L322.8,258.8L322.1,258.5L321.7,259.4L321.5,259.3L321.2,260.1L321.4,260.2L321.1,261.1L321.6,261.3L321.3,262.2L321.9,262.4L321.5,263.3L320.2,262.7L319.8,263.5L317.1,262.3L316.7,263.1L319.1,264.2L318.7,265L316.9,264.2L316.5,265L317.6,265.5L317.2,266.3L316.7,266.1L316.3,266.9L316.7,267.1L316.3,267.9L314.4,266.9L314,267.7L316.2,268.9L315.8,269.7L314.1,268.8L313.7,269.6L313.1,269.3L312.7,270.1L313.9,270.7L313.4,271.5L314.9,272.3L314.4,273.1L311.2,271.3L310.8,272.1L312.3,273L311.9,273.7L311.3,273.4L310.9,274.2L310.4,273.9L309.9,274.7L311.8,275.8L311.3,276.6L309.2,275.3L308.7,276.1L311.4,277.6L310.9,278.4L310.9,278.4L310.5,279.2L309.4,278.6L308.9,279.3L310.5,280.3L310,281.1L309.7,280.9L309.2,281.6L308.2,281L307.7,281.7L309.5,282.9L309,283.7L308,283L307.5,283.8L306.4,283.1L305.9,283.8L306,283.9L305.5,284.7L307.8,286.2L307.3,287L308.1,287.5L307.6,288.3L310.8,290.5L310.2,291.3L305.5,288L305,288.7L304.6,288.5L304.1,289.2L307.4,291.6L306.9,292.4L305.1,291L304.5,291.8L305.2,292.3L304.6,293L305,293.3L304.4,294.1L293.5,285.6A138.2,138.2 0 0 0 314.1,247.9ZM292.1,287.3L302.1,295.3L301.5,296L302,296.4L301.4,297.1L301.1,296.8L300.5,297.5L299.7,296.9L299.1,297.7L297.2,296L296.6,296.7L298.4,298.2L297.8,298.9L295.3,296.8L294.7,297.5L294.8,297.6L294.3,298.3L294.1,298.2L293.5,298.9L292.8,298.2L292.1,298.9L293.6,300.2L293,300.9L292.9,300.8L292.3,301.5L290.4,299.7L289.8,300.4L291.4,301.9L290.8,302.5L288.5,300.4L287.9,301.1L289,302.1L288.4,302.8L289.2,303.6L288.6,304.2L289.3,305L288.7,305.6L286.8,303.8L286.2,304.4L285.1,303.3L284.5,304L285.8,305.3L285.2,305.9L283.8,304.5L283.2,305.2L283.3,305.3L282.6,305.9L283.7,307L283,307.6L282.1,306.7L281.5,307.3L282.1,307.9L281.4,308.5L281.2,308.3L280.5,308.9L281.7,310.2L281,310.8L280.2,309.8L279.5,310.4L280.1,311.1L279.4,311.7L279.9,312.3L279.2,312.9L279.2,312.8L278.5,313.4L278.7,313.7L278,314.3L278.2,314.5L277.5,315L278,315.6L277.2,316.2L276.4,315.2L275.7,315.8L276.6,316.9L275.9,317.4L275.2,316.5L274.5,317.1L275.5,318.4L274.7,319L274,318L273.3,318.6L273.1,318.3L272.3,318.8L272.8,319.4L272,320L271.6,319.4L270.9,319.9L271.2,320.4L270.5,320.9L272.7,324L271.9,324.6L270,321.8L269.3,322.4L271.1,325.1L270.4,325.6L262.9,314.8A138.2,138.2 0 0 0 292.1,287.3ZM261.1,316L266.7,324.4L265.9,324.9L266.2,325.2L265.4,325.7L265.3,325.6L264.5,326.1L265.3,327.2L264.5,327.7L263.2,325.7L262.4,326.2L262.2,325.8L261.4,326.3L261.6,326.5L260.8,326.9L261.7,328.4L260.9,328.9L259.5,326.6L258.8,327.1L259.9,329L259.1,329.4L258.2,327.9L257.4,328.4L257.1,327.9L256.4,328.3L255.5,326.8L254.7,327.2L255.8,329.2L255,329.7L254.5,328.7L253.7,329.1L253.2,328.2L252.4,328.6L252.9,329.5L252.1,329.9L251.2,328.1L250.4,328.5L250.8,329.4L250,329.8L250.5,330.7L249.7,331.1L249,329.6L248.2,330L248.4,330.5L247.6,330.9L248.3,332.3L247.5,332.7L247.2,332.1L246.4,332.5L246,331.6L245.2,332L245.1,331.7L244.3,332.1L244.1,331.8L243.3,332.2L244.5,334.8L243.7,335.2L242.8,333.1L242,333.5L242.9,335.7L242.1,336L241.9,335.6L241.1,335.9L241.9,337.8L241,338.2L241.1,338.2L240.2,338.5L240.3,338.7L239.4,339L239.8,339.9L238.9,340.3L239,340.3L238.1,340.7L237.8,339.9L237,340.3L236.5,339L235.6,339.3L236,340.4L235.2,340.7L234.9,340L234.1,340.3L234.9,342.7L234,343L234,342.9L233.1,343.2L229.2,332A138.2,138.2 0 0 0 261.1,316ZM227.2,332.6L230.5,342.6L229.6,342.9L230,344.3L229.2,344.5L229.6,345.8L228.7,346.1L227.3,341.7L226.5,342L227.3,344.8L226.4,345L226.1,343.9L225.2,344.2L224.5,341.5L223.6,341.7L224.4,344.5L223.5,344.7L223.2,343.6L222.3,343.9L222,342.6L221.1,342.8L221,342.2L220.1,342.5L220.1,342.5L219.3,342.7L219.1,342L218.2,342.2L218.5,343.5L217.7,343.7L217.8,344.1L216.9,344.3L216.7,343.4L215.8,343.6L215.9,343.8L215,344L214.5,341.9L213.7,342.1L214,343.6L213.1,343.8L212.8,342.3L212,342.5L212.3,344.4L211.5,344.6L211.1,342.4L210.2,342.6L210.2,342.8L209.4,343L209.8,345.2L208.9,345.4L209,345.7L208.1,345.9L207.9,344.9L207,345L207.2,346.2L206.3,346.3L206.2,345.4L205.3,345.5L205.6,347.7L204.7,347.8L204.5,346.5L203.7,346.6L204,349.4L203.1,349.5L203,348.7L202.1,348.8L201.8,346.5L201,346.6L201.2,348.6L200.3,348.7L200.2,348.1L199.3,348.2L199.6,350.8L198.7,350.9L198.9,353.3L198,353.4L197.7,350.2L196.8,350.3L197.2,355.5L196.3,355.6L196.1,352.8L195.2,352.9L194.1,339.2A138.2,138.2 0 0 0 227.2,332.6ZM192,339.4L192.8,354.3L191.9,354.3L192.1,358.4L191.1,358.4L191.1,357.1L190.1,357.1L189.9,352.8L189,352.8L189.1,355L188.1,355L188,350.9L187.1,350.9L187.1,353.3L186.2,353.3L186.2,351.3L185.2,351.3L185.2,350.9L184.3,350.9L184.3,349.2L183.4,349.2L183.4,348.8L182.5,348.8L182.5,350.3L181.5,350.3L181.5,349.9L180.6,349.9L180.6,351L179.7,351L179.7,350.2L178.8,350.2L178.9,347L178,347L178,347.5L177.1,347.4L177.1,347.1L176.2,347.1L176,349.3L175.1,349.2L175.1,350.1L174.2,350L174.4,346.1L173.5,346.1L173.3,349.7L172.3,349.6L172.4,348.4L171.5,348.3L171.5,348.6L170.6,348.5L170.7,347.6L169.8,347.5L169.4,351.8L168.4,351.7L168.9,347.2L168,347.1L168,347.2L167.1,347.1L166.8,349.4L165.9,349.3L165.8,349.6L164.9,349.5L164.8,350.2L163.9,350.1L163.4,353.9L162.5,353.7L162.7,351.7L161.8,351.6L161.5,353.9L160.5,353.8L160.9,351.6L159.9,351.5L159.7,353.1L158.7,353L158.5,354.6L157.5,354.5L157.7,353.4L156.7,353.2L156.2,356.1L155.3,356L155.6,354L154.7,353.8L157.9,337.1A138.2,138.2 0 0 0 192,339.4ZM155.8,336.7L152.5,352.5L151.5,352.3L151.8,351.3L150.9,351.1L151.2,349.7L150.3,349.5L150,350.8L149,350.6L149.3,349.5L148.4,349.3L148.6,348.6L147.7,348.3L147.8,347.7L146.9,347.5L146.7,348.5L145.8,348.2L147.1,343.3L146.2,343L145.9,344.1L145.1,343.9L145.7,341.7L144.8,341.4L144.4,342.8L143.6,342.5L143.9,341.4L143,341.1L142.8,342L141.9,341.7L141.8,342.1L141,341.8L141.3,340.8L140.4,340.5L140.7,339.6L139.9,339.3L140.1,338.6L139.3,338.3L139,339.3L138.1,339L138.6,337.7L137.7,337.4L137.7,337.5L136.9,337.2L135.5,341.1L134.7,340.8L135.9,337.3L135.1,337L134.5,338.6L133.7,338.3L133.5,338.8L132.6,338.5L133.1,337.3L132.3,337L131.3,339.5L130.5,339.1L131.7,336.1L130.8,335.8L130.4,337L129.5,336.7L128.5,339.3L127.6,338.9L128.1,337.7L127.3,337.3L127.4,337.1L126.6,336.8L125.3,339.7L124.5,339.3L124.3,339.7L123.5,339.3L124,338.2L123.1,337.9L122,340.4L121.2,340L122.4,337.3L121.6,336.9L121.4,337.4L120.5,337L120.6,336.7L119.8,336.3L117.7,340.8L116.8,340.4L123.9,325.9A138.2,138.2 0 0 0 155.8,336.7ZM121.9,324.9L114.2,340.4L113.3,339.9L114.1,338.3L113.3,337.8L113.6,337.2L112.8,336.8L112.4,337.4L111.6,337L113.7,333L112.9,332.6L111.9,334.5L111,334L112.6,331.2L111.8,330.7L110.8,332.5L110,332L110.9,330.4L110.1,330L109.1,331.7L108.3,331.2L109.9,328.4L109.2,327.9L107.8,330.2L107,329.7L108.5,327.2L107.8,326.7L108.3,325.9L107.5,325.4L106.9,326.4L106.1,325.9L104.9,327.7L104.2,327.3L105.1,325.8L104.3,325.3L105.1,324.1L104.3,323.6L104.6,323.1L103.9,322.6L102.5,324.8L101.7,324.2L102.7,322.7L102,322.2L102.1,322L101.4,321.5L98.2,326L97.5,325.5L99.9,322L99.2,321.5L99.2,321.4L98.5,320.8L98.1,321.4L97.4,320.8L97.1,321.2L96.4,320.6L96.7,320.2L96,319.6L94.7,321.3L94,320.8L94.5,320L93.8,319.4L93.1,320.3L92.4,319.8L91.4,321L90.7,320.5L90.9,320.1L90.2,319.5L90.5,319.1L89.8,318.6L90.1,318.2L89.4,317.6L87.9,319.3L87.2,318.7L88.9,316.7L88.2,316.1L95.3,307.5A138.2,138.2 0 0 0 121.9,324.9ZM93.7,306.1L86.4,314.5L85.7,313.9L83.2,316.8L82.5,316.1L84.3,314.2L83.6,313.6L83.9,313.1L83.2,312.5L84.8,310.8L84.1,310.2L84.8,309.4L84.2,308.8L83.1,310L82.4,309.3L83.1,308.6L82.4,307.9L83.2,307.2L82.5,306.5L81.3,307.9L80.6,307.2L80.1,307.7L79.5,307L81.4,305.1L80.8,304.4L81.2,304L80.5,303.4L79,304.9L78.4,304.2L79.4,303.3L78.8,302.6L79.2,302.1L78.6,301.5L78.4,301.7L77.8,301L77.8,301L77.2,300.3L75.2,302.2L74.6,301.5L76.7,299.6L76.1,298.9L75,299.9L74.4,299.2L70.5,302.7L69.8,302L73,299.3L72.3,298.6L70.4,300.3L69.7,299.6L71.2,298.3L70.6,297.6L71.8,296.6L71.2,295.9L67.6,299L67,298.2L68.5,296.9L67.9,296.2L65.3,298.4L64.7,297.7L68.1,294.9L67.5,294.2L63.6,297.3L63,296.6L65.1,294.9L64.6,294.1L74.8,286.2A138.2,138.2 0 0 0 93.7,306.1ZM73.5,284.5L64.8,291L64.2,290.3L64.9,289.8L64.3,289.1L65,288.6L64.4,287.9L62.6,289.2L62.1,288.4L65.5,286L65,285.2L61.6,287.6L61.1,286.9L64,284.8L63.5,284.1L62.1,285L61.6,284.3L61.8,284.1L61.3,283.4L63,282.3L62.5,281.5L62.7,281.4L62.2,280.6L62.8,280.2L62.3,279.5L62.5,279.4L62.1,278.6L62.2,278.5L61.8,277.8L61.7,277.8L61.3,277L61.1,277.1L60.6,276.4L58.9,277.4L58.5,276.6L58.8,276.4L58.3,275.7L58.4,275.6L57.9,274.9L58.3,274.6L57.9,273.9L57.7,273.9L57.3,273.2L58.5,272.5L58.1,271.7L57.2,272.2L56.8,271.4L55.5,272.1L55.1,271.3L55.8,270.9L55.3,270.1L53,271.4L52.5,270.6L52.5,270.6L52.1,269.8L48.6,271.6L48.2,270.8L52.2,268.7L51.8,267.9L52.2,267.7L51.8,266.9L50.1,267.7L49.7,266.9L45.4,269L45,268.1L47.5,266.9L47.1,266.1L48.3,265.5L48,264.7L41.4,267.7L41,266.8L44.3,265.3L43.9,264.5L57.9,258.2A138.2,138.2 0 0 0 73.5,284.5ZM57,256.2L43.3,262.1L42.9,261.3L42.4,261.4L42.1,260.6L42.5,260.4L42.1,259.5L45.7,258.1L45.4,257.2L45.1,257.4L44.7,256.5L44.5,256.6L44.1,255.8L42.3,256.5L41.9,255.6L45.1,254.4L44.8,253.6L43.4,254.1L43.1,253.2L46.3,252L46,251.2L43.9,251.9L43.6,251.1L42.2,251.6L41.9,250.7L43.4,250.2L43.1,249.3L45.2,248.6L44.9,247.8L43.4,248.3L43.1,247.4L42.5,247.6L42.3,246.7L43.3,246.4L43.1,245.5L44,245.3L43.7,244.4L45.1,244L44.9,243.1L43.9,243.4L43.6,242.5L43.8,242.5L43.6,241.6L43.1,241.8L42.9,240.9L43.7,240.7L43.5,239.8L43.2,239.9L43,239L42.5,239.2L42.2,238.3L42.8,238.2L42.6,237.3L40.1,237.9L39.9,237L37.3,237.7L37.1,236.8L40.2,236L40,235.1L41.1,234.9L40.9,234L40.6,234.1L40.4,233.2L37.3,233.9L37.1,233L37.9,232.8L37.7,231.9L38.8,231.7L38.6,230.8L33.1,231.9L32.9,231L36,230.4L35.8,229.5L35.7,229.5L35.5,228.6L32,229.3L31.8,228.4L32.8,228.2L32.6,227.3L28.9,227.9L28.8,226.9L28.9,226.9L28.8,226L29.6,225.8L29.5,224.9L47.3,222.2A138.2,138.2 0 0 0 57,256.2ZM47,220L32,222.1L31.9,221.1L28.3,221.6L28.2,220.6L27.9,220.7L27.8,219.7L34.3,218.9L34.2,218L33.6,218.1L33.5,217.2L30,217.5L29.9,216.6L35.1,216.1L35,215.2L32.7,215.4L32.6,214.4L36.7,214.1L36.7,213.2L34.9,213.3L34.9,212.4L34.7,212.4L34.6,211.5L34.6,211.5L34.6,210.6L34.8,210.6L34.7,209.6L33,209.7L32.9,208.8L36,208.7L35.9,207.7L36.1,207.7L36,206.8L34.2,206.9L34.2,206L32.9,206L32.9,205.1L36.6,205L36.6,204.1L34.9,204.1L34.8,203.2L35.2,203.2L35.2,202.3L33,202.3L33,201.4L35.3,201.4L35.3,200.4L34.4,200.4L34.5,199.5L33,199.5L33,198.6L32.8,198.6L32.8,197.6L34.5,197.7L34.5,196.7L34,196.7L34.1,195.8L29.3,195.6L29.3,194.7L32.8,194.8L32.8,193.9L26.9,193.6L26.9,192.6L31,192.9L31.1,191.9L46,192.8A138.2,138.2 0 0 0 47,220ZM46.1,190.7L27.2,189.2L27.3,188.2L27.3,188.2L27.3,187.3L27.3,187.3L27.4,186.3L31,186.7L31.1,185.7L28.8,185.5L28.9,184.6L31.9,184.9L32,184L32.3,184L32.4,183.1L32.8,183.1L33,182.2L37.5,182.8L37.6,181.9L35.7,181.6L35.9,180.7L36.8,180.9L37,180L37.6,180.1L37.8,179.2L36.7,179L36.9,178.1L38.2,178.3L38.3,177.4L38.5,177.5L38.7,176.6L37.5,176.4L37.7,175.5L41,176.1L41.2,175.2L39.3,174.9L39.4,174L40.2,174.1L40.3,173.2L37.3,172.6L37.4,171.7L37.9,171.8L38.1,170.9L38.7,171.1L38.9,170.2L39.2,170.2L39.4,169.4L36.9,168.8L37.1,167.9L39.1,168.4L39.3,167.5L37.1,167L37.3,166.1L34.7,165.4L34.9,164.5L35.8,164.7L36,163.8L34.6,163.5L34.9,162.6L38,163.4L38.2,162.5L50.4,165.7A138.2,138.2 0 0 0 46.1,190.7ZM51,163.7L38.7,160.2L39,159.3L41.5,160L41.7,159.2L41,158.9L41.2,158.1L42.5,158.5L42.8,157.6L43,157.6L43.3,156.8L45.1,157.4L45.3,156.5L45.2,156.5L45.4,155.6L45.5,155.6L45.7,154.8L44.6,154.4L44.9,153.5L47.7,154.5L48,153.7L46.9,153.3L47.2,152.5L48.2,152.8L48.5,152L47.8,151.7L48.2,150.9L47.3,150.6L47.6,149.8L49.7,150.6L50,149.7L48.4,149.1L48.7,148.3L49.7,148.7L50.1,147.9L48.2,147.1L48.6,146.3L49.4,146.6L49.7,145.8L48.3,145.2L48.7,144.4L50.4,145.1L50.7,144.3L48.2,143.3L48.6,142.4L48.5,142.4L48.8,141.6L48.2,141.3L48.6,140.4L49.2,140.7L49.5,139.9L41,136L41.4,135.1L45.2,136.9L45.6,136L42.7,134.7L43.1,133.8L44.4,134.4L44.8,133.6L42.6,132.5L43,131.6L60.1,140.1A138.2,138.2 0 0 0 51,163.7ZM61,138.1L49.5,132.2L50,131.4L50.6,131.7L51.1,130.9L52.5,131.7L52.9,130.9L50.5,129.6L51,128.8L54.6,130.8L55.1,130L56,130.5L56.5,129.7L56,129.4L56.4,128.6L57.6,129.3L58,128.5L58.3,128.7L58.7,127.9L57.4,127.2L57.9,126.4L60.3,127.8L60.7,127L59.2,126.1L59.7,125.3L59.8,125.4L60.2,124.7L60.4,124.8L60.9,124L62.3,124.9L62.8,124.2L62.2,123.8L62.7,123L63.4,123.5L63.9,122.8L62.7,122L63.1,121.2L62.3,120.7L62.8,120L63.3,120.3L63.8,119.5L62.8,118.9L63.4,118.1L63.4,118.2L64,117.5L62,116.1L62.5,115.3L62.6,115.4L63.1,114.6L60,112.4L60.5,111.6L61.6,112.4L62.2,111.7L57.4,108.2L58,107.4L61.3,109.9L61.9,109.1L58.5,106.6L59.1,105.8L74.2,117.4A138.2,138.2 0 0 0 61,138.1ZM75.5,115.7L67.5,109.3L68.1,108.6L68.4,108.8L69,108.1L69.4,108.4L69.9,107.7L69.5,107.4L70.1,106.7L71.4,107.8L72,107.1L73.3,108.1L73.8,107.5L72.5,106.4L73.1,105.7L73.4,105.9L74,105.2L74.8,105.9L75.4,105.3L75.1,105L75.7,104.3L74.9,103.6L75.5,102.9L76.4,103.7L77,103.1L77.1,103.2L77.7,102.5L77,101.8L77.6,101.2L78.6,102.1L79.2,101.4L78.6,100.8L79.2,100.2L78.9,99.9L79.6,99.3L80,99.6L80.6,99L80.9,99.3L81.5,98.6L80.1,97.2L80.7,96.5L79.1,94.9L79.7,94.2L78.6,93.1L79.3,92.4L79,92.1L79.6,91.4L75.7,87.3L76.5,86.6L78.2,88.5L78.9,87.9L80.8,89.9L81.5,89.3L79.7,87.3L80.4,86.6L91.3,98.8A138.2,138.2 0 0 0 75.5,115.7ZM93,97.3L85.6,88.9L86.3,88.3L88.1,90.5L88.8,89.9L89.6,90.7L90.2,90.2L88.7,88.3L89.4,87.8L90.9,89.6L91.6,89L90.4,87.5L91.1,87L91.9,88L92.6,87.5L92.3,87L93,86.5L94,87.7L94.7,87.2L95.4,88.1L96.1,87.6L94.7,85.7L95.4,85.2L96.8,87.1L97.5,86.5L97,85.9L97.8,85.4L97.4,84.9L98.1,84.3L99,85.6L99.7,85.1L99.5,84.8L100.2,84.3L98.9,82.5L99.7,82L100.7,83.4L101.4,82.9L99.8,80.7L100.6,80.2L101.4,81.3L102.1,80.8L101.2,79.5L101.9,79L101.6,78.5L102.3,78L103,78.9L103.7,78.4L102,75.7L102.8,75.2L103.8,76.9L104.6,76.4L101.7,71.9L102.5,71.4L103.8,73.4L104.6,72.9L101.9,68.6L102.7,68.1L112,83.4A138.2,138.2 0 0 0 93,97.3ZM113.9,82.3L108.5,73.1L109.3,72.6L110.4,74.6L111.2,74.1L111.7,75L112.5,74.5L112.2,73.9L113,73.5L113.2,73.9L114,73.4L114,73.4L114.9,73L115.3,73.7L116.1,73.3L116.3,73.8L117.2,73.3L117.2,73.4L118,72.9L118.1,73.1L118.9,72.6L118.4,71.7L119.2,71.3L118.9,70.6L119.7,70.2L120,70.7L120.8,70.3L120.5,69.6L121.3,69.2L121.8,70.2L122.6,69.8L122.4,69.3L123.2,68.9L123.2,68.8L124,68.4L123.1,66.3L123.9,65.9L124,66.1L124.9,65.7L123.5,62.7L124.4,62.3L124.9,63.5L125.8,63.1L124.5,59.8L125.4,59.5L125.4,59.5L126.3,59.1L132,73.3A138.2,138.2 0 0 0 113.9,82.3ZM134,72.5L130.9,64.3L131.7,64L131.9,64.5L132.8,64.2L132.6,63.6L133.4,63.2L133.2,62.6L134.1,62.3L134,62L134.9,61.7L136,65.1L136.9,64.8L136.5,63.7L137.4,63.4L137.5,63.7L138.4,63.5L138.3,63.1L139.1,62.8L138.9,62.2L139.8,61.9L139.8,62L140.7,61.7L140.8,62.1L141.7,61.9L141.8,62.2L142.7,62L143.2,63.6L144.1,63.4L143.7,62L144.6,61.8L144.6,61.9L145.5,61.6L145.3,61.1L146.2,60.8L146.1,60.4L147,60.2L146.1,56.8L147,56.6L147.4,58.3L148.3,58L147.5,54.7L148.4,54.5L148.7,55.4L149.6,55.2L148.6,51.1L149.6,50.9L153.2,66.7A138.2,138.2 0 0 0 134,72.5ZM155.3,66.2L154,60L154.9,59.8L154.9,60.3L155.8,60.1L155.3,57.3L156.2,57.1L156.7,60.1L157.6,59.9L157.3,58.5L158.2,58.3L158.5,59.7L159.4,59.5L159.3,59.1L160.2,58.9L160.3,59.5L161.1,59.4L161.2,59.4L162,59.3L161.9,58.2L162.8,58.1L162.7,57.3L163.6,57.2L163.5,56.9L164.4,56.8L164.7,58.7L165.6,58.6L165.4,57.5L166.3,57.4L166.1,56L167.1,55.9L166.9,55L167.9,54.9L167.7,53.3L168.6,53.2L168.7,54.3L169.6,54.2L169.3,50.5L170.2,50.4L170,48.5L171,48.4L171.2,51.2L172.2,51.1L171.7,45.3L172.7,45.2L172.9,47.8L173.8,47.7L173.8,47.1L174.7,47L175.7,63.4A138.2,138.2 0 0 0 155.3,66.2Z" fill="#3bc3b8"/>
<path d="M193.2,88L194.5,72.9L195.3,72.9L195,75.6L195.8,75.7L196,73.2L196.8,73.2L196.7,74.1L197.5,74.2L197.8,71.5L198.6,71.6L198.6,71.7L199.4,71.8L199.5,71.3L200.3,71.4L200.3,71.3L201.1,71.4L201.1,71.2L201.9,71.3L201.5,74.2L202.3,74.3L202.7,71.5L203.5,71.6L203.5,71.9L204.3,72L204.2,72.6L205,72.8L204.7,74.2L205.5,74.3L205.5,74.8L206.2,74.9L206.6,72.6L207.4,72.7L207.5,72.5L208.3,72.6L207.9,74.8L208.7,74.9L209.1,72.5L209.9,72.6L210,72.5L210.8,72.6L210.4,74.1L211.2,74.3L211.6,72.7L212.4,72.9L212.3,73.1L213.1,73.2L213.1,73.4L213.9,73.6L213.9,73.7L214.6,73.9L214.7,73.6L215.5,73.8L215.5,74L216.2,74.2L216.2,74.2L217,74.4L217.1,73.9L217.9,74.1L217.3,76.4L218.1,76.6L218.7,74.3L219.5,74.6L219.3,75.3L220.1,75.5L220.1,75.6L220.8,75.8L221,75.4L221.7,75.6L221.8,75.3L222.6,75.6L222.6,75.5L223.4,75.7L223.3,76L224.1,76.3L224.1,76.2L224.9,76.4L224.8,76.8L225.5,77L225.7,76.6L226.5,76.8L225.9,78.4L226.7,78.7L227.1,77.6L227.8,77.9L228,77.3L228.8,77.6L228.7,77.9L229.4,78.2L228.4,81L229.1,81.3L230.3,78.2L231.1,78.4L230.7,79.4L231.5,79.7L230.6,81.9L231.3,82.2L232.4,79.4L233.2,79.7L232.9,80.4L233.6,80.7L233.9,80.2L234.6,80.5L234.7,80.4L235.4,80.8L235,81.7L235.7,82L235.7,82.1L236.5,82.4L236.7,81.8L237.4,82.2L237.2,82.8L237.9,83.1L237.7,83.4L238.5,83.8L237.9,85.1L238.6,85.4L239.2,84.1L239.9,84.5L239.7,84.9L240.4,85.3L233.7,99.1A113.8,113.8 0 0 0 193.2,88ZM235.3,99.9L242.2,86.3L242.9,86.6L243.1,86.2L243.8,86.6L243.1,87.9L243.8,88.3L244.7,86.5L245.5,86.9L244.6,88.5L245.3,88.9L246.4,86.8L247.1,87.2L247.3,86.8L248,87.2L247.5,88.2L248.2,88.6L248.9,87.2L249.6,87.6L247.9,90.6L248.6,91L249.2,89.9L249.9,90.3L251,88.5L251.7,88.9L251.8,88.8L252.5,89.2L251.4,91L252.1,91.4L252.2,91.2L252.9,91.6L253.3,90.9L254,91.3L254.7,90.3L255.3,90.7L254.3,92.3L255,92.7L256,91.2L256.7,91.6L256.1,92.6L256.7,93L256.9,92.8L257.6,93.2L256.3,95L257,95.5L258,94L258.7,94.4L259.4,93.4L260.1,93.9L258.2,96.4L258.9,96.9L259.7,95.8L260.3,96.3L260.8,95.6L261.5,96.1L262,95.3L262.7,95.8L261.6,97.2L262.3,97.7L263.1,96.6L263.7,97.1L263.1,97.9L263.8,98.4L262.4,100.1L263.1,100.6L263.4,100.1L264,100.6L265.9,98.3L266.5,98.8L265.3,100.3L265.9,100.8L266.9,99.7L267.5,100.2L266.6,101.2L267.2,101.7L268.2,100.6L268.8,101.1L268.7,101.2L269.3,101.8L269.3,101.7L269.9,102.3L270.2,101.9L270.8,102.5L270.7,102.6L271.3,103.2L270.3,104.3L270.9,104.8L272,103.6L272.6,104.1L272.6,104.1L273.2,104.7L271.6,106.4L272.2,107L272.8,106.3L273.4,106.8L273.7,106.5L274.3,107.1L274.8,106.5L275.4,107.1L275.3,107.2L275.9,107.7L275.6,108L276.2,108.5L273.9,110.9L274.5,111.4L276,109.9L276.6,110.5L274.8,112.2L275.4,112.7L277.3,110.9L277.8,111.5L277.3,112L277.8,112.6L277.2,113.2L277.7,113.8L267.1,123.7A113.8,113.8 0 0 0 235.3,99.9ZM268.3,125L277.9,116.3L278.4,116.9L280.5,115L281.1,115.6L279.4,117L279.9,117.6L281.8,116L282.3,116.6L282.9,116.1L283.5,116.7L283.3,116.8L283.8,117.4L284,117.2L284.6,117.9L283.9,118.4L284.4,119L283.1,120L283.6,120.7L285.6,119.1L286.1,119.7L285.5,120.2L286,120.8L286.9,120.1L287.4,120.7L286.2,121.7L286.7,122.3L288.2,121.1L288.7,121.7L287.4,122.8L287.8,123.4L289.2,122.4L289.7,123L289,123.6L289.4,124.2L290.2,123.7L290.6,124.3L290.5,124.4L291,125.1L291.1,125L291.6,125.6L291.4,125.7L291.9,126.4L291.3,126.8L291.7,127.5L292,127.3L292.4,128L292.7,127.8L293.2,128.4L292.7,128.8L293.1,129.4L291.9,130.2L292.3,130.9L294.1,129.7L294.6,130.4L294,130.8L294.4,131.5L294.7,131.3L295.2,131.9L292.7,133.5L293.1,134.2L295.9,132.4L296.3,133.1L295.2,133.8L295.6,134.5L296.8,133.8L297.2,134.4L297.2,134.5L297.6,135.2L296.3,135.9L296.7,136.6L297.3,136.3L297.7,136.9L298.4,136.6L298.8,137.3L298.9,137.2L299.3,137.9L297.3,139L297.7,139.7L299.4,138.8L299.8,139.5L298.7,140.1L299,140.8L300.1,140.3L300.4,141L299.8,141.3L300.2,142L300.4,141.9L300.8,142.6L298.4,143.8L298.7,144.5L299.2,144.3L299.6,145L301.7,143.9L302,144.7L301.9,144.7L302.2,145.5L302.6,145.3L302.9,146L301.3,146.8L301.6,147.5L303.1,146.8L303.4,147.5L303.1,147.7L303.4,148.4L301.2,149.4L301.5,150.1L303.5,149.3L303.8,150L302.1,150.7L302.4,151.5L302.6,151.4L302.9,152.1L302.5,152.3L302.7,153L289.3,158.5A113.8,113.8 0 0 0 268.3,125ZM290,160.2L304.1,154.7L304.3,155.4L305,155.2L305.3,155.9L302.7,156.9L302.9,157.6L304.5,157.1L304.8,157.8L304.8,157.8L305.1,158.6L307.4,157.8L307.6,158.5L305.9,159.1L306.2,159.9L308.1,159.2L308.4,160L308.5,159.9L308.8,160.7L308.2,160.9L308.4,161.7L308.2,161.8L308.5,162.5L309.5,162.2L309.8,163L308,163.5L308.2,164.3L309.2,164L309.4,164.8L307.6,165.3L307.8,166.1L307.7,166.1L307.9,166.9L309.4,166.5L309.6,167.3L310.7,166.9L311,167.7L308.1,168.5L308.3,169.3L309.9,168.9L310.1,169.6L311.5,169.3L311.7,170.1L309.4,170.6L309.6,171.4L310.4,171.2L310.6,172L312.1,171.7L312.3,172.5L312.3,172.5L312.5,173.3L312.6,173.2L312.8,174L312,174.2L312.2,175L312.8,174.9L313,175.7L312.9,175.7L313.1,176.5L313.1,176.5L313.3,177.3L313.4,177.2L313.5,178.1L313,178.2L313.1,179L313.6,178.9L313.7,179.7L313.7,179.7L313.8,180.5L313.8,180.5L314,181.3L313.4,181.4L313.5,182.2L311.6,182.5L311.7,183.3L314.3,182.9L314.4,183.7L311.9,184.1L312,184.8L312.1,184.8L312.2,185.6L313.6,185.5L313.7,186.3L313.9,186.2L314,187.1L313.1,187.2L313.2,188L314.1,187.9L314.2,188.7L313.6,188.7L313.7,189.5L312,189.7L312.1,190.5L313,190.4L313.1,191.2L314.9,191.1L314.9,191.9L315,191.9L315,192.7L311.8,192.9L311.8,193.7L314.5,193.5L314.6,194.4L312.6,194.5L312.7,195.3L314.4,195.2L314.4,196L313.7,196L313.7,196.8L313.6,196.8L313.6,197.6L311.8,197.7L311.8,198.5L309.8,198.5L309.8,199.3L297.7,199.5A113.8,113.8 0 0 0 290,160.2ZM297.7,201.3L312.4,201.3L312.4,202.1L312.7,202.1L312.7,202.9L313.8,202.9L313.8,203.7L314.3,203.7L314.3,204.5L311.4,204.4L311.4,205.2L314.9,205.3L314.8,206.2L311.9,206L311.8,206.8L313.8,206.9L313.8,207.7L315.2,207.8L315.2,208.6L312.4,208.5L312.3,209.2L315.2,209.4L315.2,210.2L314.4,210.2L314.3,211L315.2,211.1L315.1,211.9L311.6,211.6L311.5,212.4L314.9,212.7L314.9,213.5L312.5,213.3L312.4,214.1L315,214.3L314.9,215.1L313.6,215L313.5,215.8L314.8,215.9L314.7,216.7L314.7,216.7L314.6,217.6L313.7,217.4L313.6,218.2L311,217.9L310.9,218.7L313,219L312.9,219.8L311.8,219.6L311.7,220.4L312.2,220.5L312.1,221.3L313.4,221.5L313.2,222.3L314,222.4L313.8,223.2L313.1,223.1L313,223.9L313.6,224L313.5,224.8L312.8,224.7L312.7,225.5L313.1,225.6L313,226.4L312.6,226.3L312.5,227.1L313,227.2L312.9,228L311.4,227.7L311.2,228.5L312.4,228.7L312.2,229.5L312,229.5L311.8,230.3L312.4,230.4L312.2,231.2L311.6,231.1L311.4,231.9L311.2,231.8L311,232.6L308.5,232L308.3,232.7L310.7,233.4L310.5,234.1L311.3,234.3L311.1,235.1L310.9,235.1L310.7,235.9L310.6,235.8L310.4,236.6L309.1,236.2L308.9,237L307.2,236.5L307,237.3L306.5,237.2L306.3,237.9L306.3,237.9L306.1,238.7L306.1,238.7L305.8,239.5L306.1,239.5L305.8,240.3L304.9,240L304.7,240.7L307.2,241.6L307,242.3L305.9,242L305.6,242.7L291.7,238A113.8,113.8 0 0 0 297.7,201.3ZM291.1,239.7L304.6,244.5L304.3,245.2L304.4,245.3L304.2,246L304.9,246.3L304.7,247L305,247.2L304.7,247.9L303.1,247.3L302.8,248L305.9,249.2L305.6,250L305.1,249.8L304.8,250.5L302.5,249.6L302.2,250.3L305.4,251.6L305.1,252.4L305.2,252.4L304.9,253.1L302.5,252.1L302.2,252.9L301.6,252.6L301.3,253.3L304.3,254.7L304,255.4L304,255.4L303.7,256.2L301.6,255.2L301.3,255.9L302.1,256.3L301.7,257L302.4,257.3L302,258L301.8,257.9L301.5,258.7L300.7,258.3L300.3,259L300,258.8L299.7,259.6L301.6,260.5L301.3,261.3L301.3,261.3L300.9,262L299,261L298.7,261.7L297.4,261.1L297.1,261.8L298.1,262.3L297.7,263L299.4,263.9L299,264.6L299.2,264.7L298.8,265.4L298.8,265.4L298.4,266.1L298.6,266.2L298.2,266.9L296.5,266L296.1,266.7L297.7,267.6L297.3,268.3L296.5,267.8L296.1,268.5L296.3,268.6L295.9,269.3L296.3,269.6L295.9,270.3L294.9,269.7L294.5,270.4L295.3,270.8L294.8,271.5L295.2,271.7L294.7,272.4L292.5,271L292.1,271.6L294.3,273.1L293.9,273.8L293.9,273.7L293.4,274.4L293.3,274.3L292.9,275L292.4,274.7L292,275.4L290.7,274.5L290.3,275.2L291.7,276.1L291.2,276.8L291.2,276.8L290.7,277.5L289.6,276.7L289.2,277.3L289.9,277.8L289.4,278.5L288.7,278L288.3,278.6L288.4,278.8L288,279.4L285.6,277.6L285.1,278.2L286.7,279.5L286.3,280.1L274.1,270.8A113.8,113.8 0 0 0 291.1,239.7ZM273,272.2L285,281.7L284.5,282.3L284.9,282.6L284.4,283.2L284.7,283.5L284.2,284.1L283.4,283.5L282.9,284.1L283.3,284.4L282.8,285.1L282.5,284.8L281.9,285.4L283,286.3L282.5,286.9L283.2,287.5L282.7,288.1L281.3,287L280.8,287.6L282.2,288.8L281.6,289.4L281.7,289.4L281.1,290.1L280.9,289.9L280.4,290.5L278,288.3L277.5,288.9L279.9,291.1L279.3,291.7L279.4,291.8L278.8,292.4L276.9,290.5L276.3,291.1L275.9,290.6L275.3,291.2L277.6,293.5L277.1,294.1L277.3,294.3L276.7,294.9L275.3,293.4L274.7,294L274.7,294L274.2,294.6L275.4,295.9L274.8,296.4L273.6,295.1L273,295.7L274.2,296.9L273.6,297.5L273.7,297.6L273.1,298.2L272.5,297.5L271.9,298.1L271.4,297.5L270.8,298.1L271.6,298.9L271,299.5L269.9,298.2L269.3,298.8L270.8,300.5L270.1,301L269.7,300.5L269.1,301L269.3,301.3L268.7,301.8L268.9,302L268.3,302.6L266.4,300.3L265.8,300.8L267.6,303.1L267,303.6L266.9,303.5L266.3,304L264.7,302L264,302.5L263.6,301.9L263,302.4L263.1,302.6L262.4,303L264.1,305.2L263.5,305.7L261.7,303.4L261,303.8L262.8,306.1L262.1,306.6L261.1,305.2L260.4,305.7L259.3,304.1L258.6,304.6L260.3,306.8L259.6,307.3L259.3,306.9L258.7,307.4L257.6,305.8L256.9,306.2L248.9,294.8A113.8,113.8 0 0 0 273,272.2ZM247.5,295.8L254.5,306.3L253.9,306.7L254.8,308.2L254.2,308.6L253.6,307.7L252.9,308.1L254.6,310.8L253.9,311.2L254.2,311.6L253.5,312L253.8,312.5L253.1,312.9L253.1,312.9L252.5,313.4L250.9,310.9L250.3,311.3L251.9,314.1L251.2,314.5L251.2,314.5L250.6,314.9L250.5,314.7L249.8,315.1L249.9,315.4L249.2,315.8L249.1,315.6L248.4,316L248.5,316.2L247.8,316.6L247.8,316.6L247.1,317L246.7,316.3L246,316.7L246,316.7L245.3,317.1L245.2,317L244.5,317.3L244.1,316.5L243.4,316.8L243.9,317.9L243.2,318.2L242,316L241.3,316.4L242.8,319.2L242.1,319.6L242,319.5L241.3,319.9L241.3,320L240.6,320.3L240.5,320.1L239.8,320.5L239.1,319L238.4,319.3L237.9,318.2L237.1,318.6L238.1,320.7L237.4,321.1L237.6,321.6L236.9,322L236.8,321.8L236.1,322.1L235.8,321.5L235.1,321.8L235.3,322.4L234.6,322.8L233.9,321L233.1,321.3L232.6,320L231.8,320.3L232.9,322.9L232.2,323.2L231.9,322.6L231.2,322.9L230.6,321.5L229.9,321.7L230.5,323.3L229.7,323.6L229.8,323.8L229,324L227.8,320.7L227.1,321L226.8,320.2L226.1,320.5L227,323.1L226.3,323.4L221.2,308.9A113.8,113.8 0 0 0 247.5,295.8ZM219.5,309.5L223.8,322.3L223,322.5L223.7,324.6L222.9,324.9L223.2,325.7L222.5,326L222.6,326.3L221.8,326.5L221.9,326.8L221.1,327L220.7,325.6L219.9,325.9L220.4,327.6L219.7,327.8L219.7,328L218.9,328.2L218.9,328.2L218.2,328.4L217.7,326.5L216.9,326.7L217.3,328.1L216.5,328.3L216.3,327.8L215.6,328L215.7,328.7L215,328.9L215.1,329.3L214.3,329.5L214.3,329.6L213.5,329.8L213.5,329.6L212.7,329.8L212.8,329.9L212,330.1L211.9,330L211.2,330.2L210.9,329.2L210.2,329.4L210.3,330.2L209.5,330.3L209.5,330.1L208.7,330.2L208.6,329.7L207.8,329.8L208,330.7L207.2,330.9L207.2,330.8L206.4,330.9L206,328.5L205.2,328.7L205.5,330.4L204.7,330.5L204.8,331.1L204,331.2L203.9,330.8L203.1,330.9L203.2,331.2L202.4,331.3L202.4,331.6L201.6,331.7L201.3,329L200.5,329.1L200.8,331.8L200,331.9L199.7,328.9L198.9,329L198.9,329.5L198.2,329.6L198.1,329.2L197.3,329.3L197.6,331.7L196.8,331.8L196.7,330.9L195.9,331L195.6,327.7L194.8,327.8L195.1,330.6L194.3,330.7L194.3,330.1L193.5,330.2L192.3,314.9A113.8,113.8 0 0 0 219.5,309.5ZM190.5,315L191.4,328.7L190.6,328.7L190.7,331L189.9,331L189.9,330.7L189.1,330.7L189.1,332.1L188.3,332.1L188.2,329.2L187.4,329.2L187.5,332.5L186.7,332.5L186.7,332.8L185.9,332.8L185.9,331.5L185.1,331.5L185.1,332.8L184.3,332.8L184.3,332.2L183.4,332.2L183.4,332.5L182.6,332.5L182.7,330.1L181.9,330.1L181.8,332.4L181,332.4L181,332.8L180.2,332.8L180.2,333.1L179.4,333.1L179.4,332.4L178.6,332.4L178.5,332.9L177.7,332.9L177.8,332.1L177,332L177,331.8L176.2,331.7L176.1,332.4L175.3,332.3L175.3,332.9L174.5,332.8L174.5,332.2L173.7,332.1L173.7,332.2L172.9,332.1L172.9,331.5L172.1,331.4L172.3,329.2L171.5,329.1L171.2,332.4L170.4,332.3L170.5,332L169.6,331.9L169.6,332.3L168.8,332.3L169,330.2L168.2,330.1L168,332L167.2,331.9L167.5,329.7L166.7,329.6L166.6,329.8L165.9,329.7L165.6,331.6L164.8,331.4L165.2,328.6L164.4,328.5L164.1,330.5L163.3,330.4L163.3,330.4L162.5,330.3L162.6,329.6L161.8,329.5L162.3,326.7L161.5,326.6L161.1,328.6L160.4,328.5L160.5,327.8L159.7,327.7L162.5,313.2A113.8,113.8 0 0 0 190.5,315ZM160.7,312.8L157.6,327.7L156.9,327.5L157.2,326L156.4,325.9L155.9,328.1L155.2,327.9L155,328.7L154.2,328.5L154.1,329L153.3,328.8L153.3,329L152.5,328.8L153,326.8L152.2,326.6L152.2,326.9L151.4,326.7L151.7,325.4L151,325.2L150.8,325.8L150,325.6L149.6,327.1L148.9,326.9L149,326.3L148.3,326L148.1,326.5L147.4,326.3L147.5,325.8L146.8,325.5L146.8,325.6L146,325.4L145.4,327.3L144.6,327.1L145.3,325L144.5,324.8L143.9,326.7L143.1,326.5L143.1,326.6L142.3,326.3L143.3,323.6L142.5,323.3L141.6,326.2L140.8,325.9L141,325.2L140.3,325L140.1,325.4L139.4,325.1L140,323.4L139.2,323.1L138.9,324.1L138.1,323.8L138.8,322.1L138.1,321.8L138.1,321.6L137.4,321.3L136.7,323.1L136,322.8L135.5,323.9L134.8,323.6L135.3,322.4L134.5,322.1L134,323.3L133.3,323L134.7,319.7L134,319.4L133.6,320.1L132.9,319.8L132,322L131.2,321.6L131.2,321.6L130.5,321.3L131.2,319.8L130.5,319.5L130.7,318.9L130,318.5L130.9,316.6L130.2,316.3L129.4,318L128.7,317.7L128.5,318.1L127.8,317.7L134.5,303.9A113.8,113.8 0 0 0 160.7,312.8ZM132.9,303.1L126.7,315.3L126,315L124.9,317.1L124.2,316.8L125.1,315L124.4,314.6L123.9,315.6L123.2,315.2L123.1,315.4L122.4,315L122.6,314.6L121.9,314.2L121,315.9L120.3,315.5L121.4,313.6L120.7,313.2L119.7,314.9L118.9,314.5L118.6,315.1L117.9,314.7L117.8,314.9L117.1,314.5L117,314.6L116.3,314.2L116.2,314.4L115.5,314L115.5,314L114.8,313.5L115.9,311.8L115.2,311.4L114.1,313L113.4,312.6L114.1,311.6L113.4,311.2L113.8,310.6L113.1,310.2L112.8,310.6L112.1,310.1L111.7,310.8L111,310.3L110.8,310.7L110.1,310.3L110,310.3L109.4,309.9L109.3,309.9L108.6,309.5L109.3,308.5L108.7,308L108.8,307.9L108.1,307.4L109.1,306L108.5,305.5L106.7,307.9L106.1,307.4L107.8,305.1L107.1,304.6L107.1,304.7L106.4,304.2L104.8,306.4L104.2,305.9L106.1,303.3L105.5,302.9L104.2,304.5L103.6,304L105.1,302L104.5,301.5L103.8,302.4L103.1,301.9L102.3,302.9L101.7,302.4L102,302L101.4,301.5L102.2,300.5L101.6,300L111,288.8A113.8,113.8 0 0 0 132.9,303.1ZM109.6,287.6L100,298.8L99.4,298.3L98.4,299.4L97.8,298.8L99.1,297.4L98.5,296.8L97,298.5L96.4,297.9L96.1,298.3L95.5,297.7L96.2,297L95.6,296.4L94.4,297.7L93.8,297.2L93.7,297.3L93.1,296.7L93.7,296.1L93.1,295.5L92.5,296.2L92,295.6L92,295.5L91.4,294.9L91.3,295.1L90.7,294.5L90.7,294.5L90.1,293.9L90.3,293.7L89.8,293.2L90.1,292.8L89.5,292.2L91.3,290.5L90.8,289.9L89.3,291.3L88.7,290.7L88.2,291.3L87.6,290.7L87.6,290.7L87,290.1L86.8,290.3L86.3,289.7L86.6,289.4L86.1,288.8L88.1,286.9L87.6,286.3L85.1,288.5L84.6,287.9L84.9,287.6L84.4,287L85.2,286.3L84.6,285.7L85,285.4L84.5,284.8L83.8,285.4L83.3,284.7L83.7,284.4L83.2,283.8L84.9,282.4L84.4,281.7L84.5,281.7L84,281L82.3,282.4L81.8,281.7L83,280.8L82.5,280.2L94,271.2A113.8,113.8 0 0 0 109.6,287.6ZM93,269.8L83.6,276.8L83.2,276.2L80.2,278.4L79.7,277.8L78.7,278.5L78.2,277.9L79.4,277L78.9,276.4L77.1,277.7L76.7,277L76.5,277.1L76.1,276.4L76.6,276.1L76.2,275.4L75.5,275.8L75.1,275.2L76.2,274.4L75.8,273.7L75.8,273.7L75.4,273L74.1,273.8L73.7,273.2L75.1,272.2L74.7,271.6L74.1,271.9L73.7,271.3L73.9,271.1L73.5,270.4L72.6,271L72.2,270.3L72.1,270.3L71.7,269.6L71.3,269.8L70.9,269.2L71.4,268.9L71,268.2L73.3,266.8L72.9,266.1L72.5,266.4L72.1,265.7L69.7,267.1L69.3,266.4L69.3,266.4L68.9,265.6L69,265.6L68.6,264.9L69.8,264.2L69.4,263.5L68.5,264L68.1,263.3L67.8,263.5L67.4,262.8L67.8,262.6L67.4,261.9L67.8,261.6L67.5,260.9L68.3,260.5L67.9,259.8L66.7,260.4L66.4,259.6L67.3,259.2L66.9,258.5L67.3,258.3L66.9,257.6L66.9,257.6L66.6,256.9L65.9,257.2L65.6,256.5L67.5,255.6L67.2,254.8L66.5,255.2L66.2,254.4L80.1,248.1A113.8,113.8 0 0 0 93,269.8ZM79.4,246.5L65.3,252.6L65,251.9L64.9,251.9L64.6,251.2L63.6,251.6L63.3,250.9L62.9,251L62.6,250.3L62.7,250.3L62.4,249.5L62.4,249.5L62.1,248.8L61.4,249L61.1,248.3L64.1,247.2L63.8,246.4L63,246.7L62.7,246L60.9,246.7L60.6,245.9L60.9,245.8L60.7,245L59.9,245.3L59.7,244.5L62.8,243.4L62.6,242.7L59.2,243.8L59,243.1L59.1,243L58.9,242.3L58.8,242.3L58.5,241.5L60.9,240.8L60.6,240L58.8,240.6L58.6,239.8L58.3,239.9L58.1,239.1L58.1,239.2L57.8,238.4L60.1,237.7L59.9,237L57.4,237.7L57.2,236.9L59,236.4L58.8,235.6L58.3,235.8L58.1,235L57.1,235.3L56.9,234.5L56.7,234.5L56.5,233.8L56.7,233.7L56.5,232.9L56.5,232.9L56.3,232.1L56,232.2L55.8,231.4L56.8,231.2L56.6,230.4L55.9,230.6L55.7,229.8L55.5,229.9L55.3,229.1L57.1,228.7L56.9,227.9L55.6,228.2L55.4,227.4L55.5,227.4L55.4,226.6L57.6,226.2L57.4,225.4L55.4,225.8L55.3,225L55.3,225L55.2,224.2L57.9,223.7L57.8,223L58.9,222.8L58.7,222L57.8,222.2L57.7,221.4L56.7,221.5L56.6,220.8L71.4,218.5A113.8,113.8 0 0 0 79.4,246.5ZM71.1,216.7L57.3,218.6L57.2,217.9L56.7,217.9L56.6,217.1L54.4,217.4L54.4,216.6L55.4,216.5L55.3,215.7L56.6,215.5L56.5,214.8L54.4,215L54.3,214.2L54.3,214.2L54.2,213.4L53.2,213.5L53.2,212.7L53.9,212.6L53.9,211.8L52.7,211.9L52.6,211.1L54.4,210.9L54.4,210.2L53.2,210.2L53.2,209.4L55.9,209.3L55.9,208.5L52.6,208.6L52.6,207.8L53.9,207.8L53.9,207L52.3,207L52.2,206.2L52.7,206.2L52.6,205.4L54.1,205.4L54.1,204.6L52.3,204.6L52.3,203.8L53.3,203.8L53.3,203L52.3,203L52.2,202.2L52.5,202.2L52.5,201.4L55.8,201.4L55.8,200.6L52.3,200.5L52.3,199.7L55.2,199.8L55.2,199L52.3,198.9L52.3,198.1L53.4,198.1L53.4,197.3L54.9,197.4L54.9,196.6L55.3,196.6L55.4,195.8L53.8,195.7L53.8,194.9L55,195L55.1,194.2L56.5,194.3L56.6,193.5L70.3,194.4A113.8,113.8 0 0 0 71.1,216.7ZM70.4,192.6L57,191.5L57.1,190.7L56.1,190.7L56.1,189.9L54.7,189.8L54.8,189L53.5,188.8L53.6,188L54.7,188.2L54.8,187.4L54,187.3L54.1,186.5L53.9,186.5L54,185.7L56.7,186L56.8,185.2L53.3,184.8L53.4,184L55.3,184.2L55.4,183.5L53.6,183.2L53.8,182.4L55.2,182.6L55.3,181.8L56.9,182.1L57,181.3L53.9,180.8L54,180L54.8,180.1L54.9,179.4L54.8,179.3L54.9,178.5L54.8,178.5L54.9,177.7L54.4,177.6L54.5,176.8L55.6,177L55.7,176.3L57.4,176.6L57.5,175.8L56.1,175.5L56.2,174.7L55.1,174.5L55.3,173.7L57.3,174.1L57.4,173.4L55.8,173L56,172.2L55.7,172.2L55.9,171.4L57,171.6L57.2,170.9L57,170.8L57.2,170L57.8,170.2L58,169.4L61.4,170.3L61.5,169.5L59.8,169.1L60,168.3L74,172A113.8,113.8 0 0 0 70.4,192.6ZM74.4,170.3L62.8,167L63,166.3L59.3,165.2L59.5,164.4L60.4,164.7L60.6,164L58.5,163.3L58.7,162.5L58.6,162.5L58.9,161.7L59.9,162.1L60.2,161.3L60.1,161.3L60.3,160.5L61.1,160.8L61.3,160L59.4,159.4L59.7,158.6L59.5,158.6L59.7,157.8L59.9,157.8L60.1,157.1L60.6,157.3L60.9,156.5L60.1,156.2L60.4,155.5L60.7,155.6L61,154.8L61.9,155.2L62.2,154.4L61,154L61.3,153.2L61.5,153.3L61.8,152.5L64,153.5L64.3,152.7L64.8,152.9L65.1,152.2L62.3,151L62.6,150.3L62.5,150.3L62.9,149.5L62.8,149.5L63.2,148.8L63.2,148.8L63.5,148L65.4,148.9L65.8,148.2L65.6,148.1L65.9,147.4L64.6,146.8L64.9,146L65.6,146.4L65.9,145.6L67.1,146.2L67.4,145.5L66.7,145.1L67,144.4L69.8,145.8L70.2,145.1L81.9,150.9A113.8,113.8 0 0 0 74.4,170.3ZM82.7,149.3L71.3,143.4L71.7,142.7L68.7,141.2L69.1,140.5L69.8,140.8L70.2,140.1L69.8,139.9L70.2,139.2L68.8,138.5L69.2,137.8L71.2,138.9L71.6,138.2L69.2,136.9L69.6,136.2L70,136.4L70.4,135.7L70.1,135.5L70.5,134.8L70.7,134.9L71.1,134.3L72.6,135.1L73,134.4L71.9,133.8L72.3,133.1L72.4,133.2L72.9,132.5L75,133.8L75.4,133.2L72.5,131.3L72.9,130.6L72.9,130.6L73.3,129.9L74.2,130.5L74.6,129.8L73.7,129.2L74.2,128.5L77,130.4L77.4,129.7L74.8,128L75.3,127.3L75.5,127.5L75.9,126.8L75.9,126.8L76.4,126.1L77.9,127.2L78.4,126.6L79,127L79.5,126.4L78.3,125.6L78.8,124.9L77.9,124.3L78.4,123.6L78.9,124L79.4,123.4L80.9,124.5L81.4,123.9L80.9,123.5L81.4,122.9L93.6,132.2A113.8,113.8 0 0 0 82.7,149.3ZM94.7,130.8L84.7,122.9L85.2,122.3L84.4,121.7L84.9,121L82.4,119L82.9,118.4L82.8,118.3L83.3,117.7L82.9,117.4L83.5,116.7L84.5,117.6L85,117L83.7,115.9L84.3,115.3L85.4,116.2L85.9,115.6L84.8,114.6L85.3,114L87.1,115.6L87.6,115L86.4,113.9L87,113.3L87.1,113.4L87.7,112.8L87,112.2L87.5,111.6L87.5,111.6L88.1,111L88.3,111.2L88.8,110.6L91.2,112.9L91.8,112.3L89.9,110.5L90.5,110L91.6,111L92.2,110.4L90.3,108.7L90.9,108.1L90.9,108.1L91.5,107.5L91.5,107.5L92.1,107L93.2,108.1L93.8,107.5L92.9,106.6L93.5,106L93.7,106.3L94.3,105.7L95.4,106.9L96,106.4L96.6,106.9L97.1,106.4L96.9,106.2L97.5,105.7L107.7,116.9A113.8,113.8 0 0 0 94.7,130.8ZM109,115.7L99.3,104.6L99.9,104L99,103L99.6,102.5L99.6,102.6L100.2,102.1L99.6,101.3L100.2,100.8L100,100.6L100.7,100.1L100.5,99.8L101.1,99.3L101.1,99.3L101.7,98.8L101.6,98.7L102.3,98.2L102.2,98.1L102.8,97.6L102.9,97.7L103.5,97.3L104,97.9L104.7,97.4L104.1,96.7L104.8,96.2L104.7,96.1L105.4,95.6L106.8,97.6L107.4,97.1L106.3,95.6L107,95.1L107.1,95.2L107.7,94.8L107.4,94.4L108.1,93.9L109.5,96L110.2,95.5L109.7,94.8L110.3,94.3L109.9,93.8L110.6,93.3L110.7,93.5L111.4,93L111.5,93.2L112.1,92.8L111.7,92.2L112.4,91.7L112.3,91.6L113,91.2L113.1,91.4L113.8,90.9L114.2,91.6L114.9,91.1L115.1,91.6L115.8,91.2L116.4,92.2L117.1,91.7L124.7,104.2A113.8,113.8 0 0 0 109,115.7ZM126.2,103.3L118.8,90.7L119.5,90.3L119.6,90.4L120.3,90L120.4,90.1L121.1,89.7L119.5,87L120.3,86.6L120.1,86.3L120.9,85.9L120.9,86L121.6,85.6L121.5,85.4L122.3,85L123.2,86.8L124,86.4L123.5,85.6L124.3,85.2L123.8,84.3L124.6,83.9L124.5,83.9L125.3,83.5L126.4,85.8L127.2,85.4L127,85.2L127.8,84.8L127.4,84L128.1,83.6L128.2,83.7L128.9,83.3L129,83.6L129.8,83.2L129.3,82.1L130,81.8L130,81.7L130.8,81.3L131,81.9L131.7,81.5L132.6,83.4L133.3,83.1L133.8,84.3L134.6,84L134.6,84L135.4,83.7L135.6,84.2L136.3,83.9L141.2,95.9A113.8,113.8 0 0 0 126.2,103.3ZM142.8,95.3L137.3,81L138.1,80.7L137.7,79.7L138.5,79.4L139.4,81.9L140.1,81.6L139.1,78.8L139.9,78.5L139.8,78.2L140.5,77.9L140.3,77.3L141.1,77.1L141.9,79.3L142.6,79L142.1,77.2L142.8,77L143.7,79.7L144.5,79.5L143.4,76L144.2,75.8L145.3,79.3L146.1,79L145,75.5L145.8,75.3L145.8,75.3L146.6,75.1L146.7,75.4L147.5,75.2L147.7,76L148.5,75.8L148.2,74.6L149,74.4L149.2,75.2L150,75L150.6,77.3L151.4,77.1L150.7,74.6L151.5,74.3L151.9,75.9L152.7,75.7L152.6,75.3L153.4,75.1L153.6,75.7L154.3,75.5L154.4,75.7L155.2,75.5L158.6,90.5A113.8,113.8 0 0 0 142.8,95.3ZM160.3,90.1L157.3,75.6L158.1,75.4L158.3,76.6L159.1,76.4L158.7,74.3L159.4,74.2L159.1,72.5L159.9,72.4L160,72.6L160.8,72.4L160.8,72.6L161.6,72.5L161.5,71.9L162.3,71.7L162.4,72.4L163.2,72.2L163.2,72.5L164.1,72.3L163.9,71.2L164.7,71.1L164.7,71.1L165.5,71L165.7,72.2L166.5,72.1L166.3,70.9L167.1,70.8L167.1,70.7L167.9,70.6L168.2,72.5L169,72.4L168.8,70.8L169.6,70.7L169.9,73.7L170.7,73.7L170.5,71.2L171.3,71.2L171.2,70.4L172,70.3L172.1,71.6L172.9,71.5L172.9,70.7L173.7,70.6L173.9,73.1L174.7,73L174.7,73.1L175.5,73.1L175.6,74.4L176.4,74.3L177.2,87.8A113.8,113.8 0 0 0 160.3,90.1Z" fill="#fc9c79"/>
<path d="M193,91A110.8,110.8 0 0 1 232.4,101.8L224.8,117.4A93.4,93.4 0 0 0 191.6,108.3Z" fill="#fedc1a"/>
<path d="M233.9,102.5A110.8,110.8 0 0 1 264.9,125.8L252.2,137.6A93.4,93.4 0 0 0 226.1,118.1Z" fill="#fedc1a"/>
<path d="M266,127A110.8,110.8 0 0 1 286.5,159.6L270.4,166.2A93.4,93.4 0 0 0 253.1,138.7Z" fill="#fedc1a"/>
<path d="M287.2,161.2A110.8,110.8 0 0 1 294.7,199.6L277.3,199.9A93.4,93.4 0 0 0 270.9,167.5Z" fill="#fedc1a"/>
<path d="M294.7,201.3A110.8,110.8 0 0 1 288.8,237L272.3,231.4A93.4,93.4 0 0 0 277.3,201.3Z" fill="#fedc1a"/>
<path d="M288.2,238.7A110.8,110.8 0 0 1 271.7,268.9L257.9,258.3A93.4,93.4 0 0 0 271.9,232.8Z" fill="#fedc1a"/>
<path d="M270.7,270.3A110.8,110.8 0 0 1 247.2,292.3L237.3,278A93.4,93.4 0 0 0 257,259.5Z" fill="#fedc1a"/>
<path d="M245.8,293.3A110.8,110.8 0 0 1 220.2,306.1L214.5,289.6A93.4,93.4 0 0 0 236.1,278.9Z" fill="#fedc1a"/>
<path d="M218.6,306.6A110.8,110.8 0 0 1 192.1,311.9L190.8,294.5A93.4,93.4 0 0 0 213.1,290.1Z" fill="#fedc1a"/>
<path d="M190.4,312A110.8,110.8 0 0 1 163,310.2L166.3,293.1A93.4,93.4 0 0 0 189.4,294.6Z" fill="#fedc1a"/>
<path d="M161.3,309.9A110.8,110.8 0 0 1 135.8,301.2L143.3,285.5A93.4,93.4 0 0 0 164.9,292.8Z" fill="#fedc1a"/>
<path d="M134.2,300.4A110.8,110.8 0 0 1 112.9,286.5L124.1,273.1A93.4,93.4 0 0 0 142,284.9Z" fill="#fedc1a"/>
<path d="M111.6,285.3A110.8,110.8 0 0 1 96.4,269.4L110.1,258.7A93.4,93.4 0 0 0 122.9,272.2Z" fill="#fedc1a"/>
<path d="M95.4,268A110.8,110.8 0 0 1 82.9,246.9L98.7,239.8A93.4,93.4 0 0 0 109.3,257.5Z" fill="#fedc1a"/>
<path d="M82.2,245.3A110.8,110.8 0 0 1 74.4,218.1L91.6,215.4A93.4,93.4 0 0 0 98.1,238.4Z" fill="#fedc1a"/>
<path d="M74.1,216.3A110.8,110.8 0 0 1 73.3,194.5L90.7,195.6A93.4,93.4 0 0 0 91.4,214Z" fill="#fedc1a"/>
<path d="M73.4,192.8A110.8,110.8 0 0 1 76.9,172.8L93.7,177.3A93.4,93.4 0 0 0 90.8,194.2Z" fill="#fedc1a"/>
<path d="M77.3,171.1A110.8,110.8 0 0 1 84.6,152.2L100.2,159.9A93.4,93.4 0 0 0 94.1,175.9Z" fill="#fedc1a"/>
<path d="M85.4,150.7A110.8,110.8 0 0 1 95.9,134L109.8,144.6A93.4,93.4 0 0 0 100.9,158.6Z" fill="#fedc1a"/>
<path d="M97,132.7A110.8,110.8 0 0 1 109.7,119.1L121.3,132A93.4,93.4 0 0 0 110.7,143.4Z" fill="#fedc1a"/>
<path d="M111,118A110.8,110.8 0 0 1 126.3,106.8L135.3,121.6A93.4,93.4 0 0 0 122.4,131.1Z" fill="#fedc1a"/>
<path d="M127.7,105.9A110.8,110.8 0 0 1 142.3,98.7L148.8,114.8A93.4,93.4 0 0 0 136.6,120.9Z" fill="#fedc1a"/>
<path d="M143.9,98.1A110.8,110.8 0 0 1 159.3,93.4L163.1,110.3A93.4,93.4 0 0 0 150.2,114.3Z" fill="#fedc1a"/>
<path d="M161,93A110.8,110.8 0 0 1 177.3,90.8L178.4,108.2A93.4,93.4 0 0 0 164.6,110Z" fill="#fedc1a"/>
<path d="M191.6,108.3L193,91M244.7,130.5L256,117.3M245.2,131L256.7,117.8M245.6,131.3L257.1,118.2M262.6,151L277.2,141.6M277,193.5L294.3,192M277.3,199.8L294.7,199.5M261.3,253.7L275.7,263.5M198.7,293.6L201.4,310.8M183.6,294.8L183.5,312.2M138.9,283.2L130.5,298.5M118.5,268.1L106.3,280.5M106.3,253.4L91.8,263.1M92.4,220L75.3,223.5M91.3,213.3L74,215.6M90.6,205.4L73.2,206.1M90.6,196.4L73.3,195.5M97,167.1L80.9,160.7M139.6,119.2L131.4,103.9" stroke="#bad12a" stroke-width="0.4" fill="none"/>
<path d="M192.2,108.4L193.7,91M247,132.6L258.8,119.8M263.1,151.9L277.9,142.7M275.1,221.4L292.1,225.2M274.6,223.6L291.5,227.7M241.7,274.8L252.4,288.5M209.5,291.2L214.3,308M168.6,293.5L165.7,310.7M90.8,193.7L73.5,192.3M98.2,164.2L82.3,157.3" stroke="#dcd61e" stroke-width="1.0" fill="none"/>
<path d="M193.5,108.5L195.3,91.2M277.2,197L294.6,196.2M263,251.1L277.7,260.3M228.7,283.4L237,298.6M113.4,262.7L100.3,274.1" stroke="#bad12a" stroke-width="1.0" fill="none"/>
<path d="M193.8,108.5L195.6,91.2M269.3,163.6L285.2,156.6M276.9,193.2L294.3,191.7M277.2,206.4L294.5,207.3M275.3,220.5L292.4,224.1M266.7,244.6L282.1,252.7M255.9,260.9L269.3,272M208.2,291.6L212.8,308.4M203.2,292.8L206.8,309.8M138.5,283L130,298.2M119.1,268.6L107,281.2M104.4,250.4L89.6,259.6M101.5,245.4L86.2,253.6M95,230.1L78.4,235.4M93.8,225.9L77,230.5M91.2,213L74,215.2M91,210.6L73.6,212.4M90.9,210.4L73.6,212M90.6,204.5L73.2,205.1M90.5,201.4L73.1,201.4M94.5,174.5L77.8,169.5M94.9,173L78.4,167.7M96.7,167.8L80.5,161.6M145.4,116.3L138.2,100.5" stroke="#dcd61e" stroke-width="0.9" fill="none"/>
<path d="M216.9,114L223,97.7M230,120.2L238.6,105M237,124.6L246.9,110.3M243.1,129.2L254.1,115.7M274.5,178.9L291.4,174.7M276.6,189.9L293.9,187.8M276.8,191.3L294.1,189.4M259.8,255.8L274,265.9M259.3,256.6L273.3,266.8M258.9,257.1L272.8,267.5M231.3,281.9L240.2,296.9M205.4,292.3L209.4,309.2M184.2,294.8L184.2,312.2M163.9,292.6L160.1,309.6M146.9,287.2L140,303.1M107.8,255.6L93.7,265.7M101.4,245.2L86.1,253.4M99.6,241.5L83.9,249M99.5,241.3L83.7,248.7M93.2,223.8L76.3,228M91,211L73.7,212.8M90.6,205.5L73.2,206.2M91.2,190.2L73.9,188.1M91.5,187.6L74.3,185M91.7,186.8L74.5,184M91.8,186L74.6,183.1M92.3,183L75.3,179.6M105.4,150.7L90.8,141.3M141.3,118.3L133.4,102.8" stroke="#dcd61e" stroke-width="0.6" fill="none"/>
<path d="M217.2,114.1L223.4,97.9M217.9,114.4L224.2,98.2M239.1,126L249.3,112M242.6,128.8L253.6,115.3M262,150.2L276.6,140.7M271.8,169.8L288.1,163.9M276.7,191.1L294,189.2M277,208.8L294.3,210.2M203.7,292.7L207.4,309.7M158.7,291.3L154,308.1M136,281.6L127.1,296.5M133,279.7L123.5,294.3M106.2,253.2L91.7,262.8M96,232.9L79.6,238.7M95.7,232L79.2,237.7M91.8,217.1L74.7,220M96.6,168.1L80.4,161.9M97.8,165.2L81.8,158.4M128.7,126L118.4,112M137.5,120.4L128.8,105.3M142.2,117.8L134.4,102.2" stroke="#bad12a" stroke-width="0.6" fill="none"/>
<path d="M218.7,114.7L225.2,98.6M236.1,124L245.8,109.5M275.1,181L292,177.2M277.2,197.4L294.6,196.6M277.3,202.9L294.7,203.2M276.2,215.8L293.4,218.4M275.8,217.9L293,221M253,264.3L265.8,276M234.9,279.7L244.4,294.2M181.4,294.8L181,312.2M135.5,281.3L126.5,296.2M107.2,254.8L93,264.7M104.4,250.5L89.6,259.6M102.6,247.3L87.4,255.9M101.8,246L86.5,254.3M97.3,236.4L81.2,242.9M93.2,223.5L76.3,227.6M90.5,203.3L73.1,203.7M91.1,191.1L73.8,189.2M96.9,167.5L80.6,161.2M97.6,165.7L81.5,159M99.5,161.4L83.8,153.9M141.9,118L134.1,102.4M177.8,108.2L176.6,90.8" stroke="#dcd61e" stroke-width="0.8" fill="none"/>
<path d="M219.8,115.2L226.5,99.1M260.8,254.4L275.1,264.3M200.1,293.4L203.1,310.5M184.4,294.8L184.5,312.2M180.5,294.7L179.8,312.1M102.3,246.8L87.1,255.3M90.7,206.9L73.3,207.9M90.5,203.8L73.1,204.3M90.5,200.1L73.1,199.9M91.6,187.2L74.4,184.6M91.9,185.5L74.7,182.5M92,184.8L74.9,181.7M98.2,164.4L82.2,157.5M98.4,163.7L82.5,156.7" stroke="#9cc934" stroke-width="0.8" fill="none"/>
<path d="M220.2,115.4L227,99.3M239.3,126.2L249.6,112.2M242.3,128.5L253.2,114.9M246,131.6L257.5,118.6M274.5,178.6L291.4,174.4M277,194.2L294.4,192.8M276.7,211.8L294,213.8M276.3,214.8L293.6,217.3M256.5,260.2L270,271.1M254,263.1L267.1,274.6M241.1,275.3L251.7,289M204.4,292.5L208.2,309.5M182.6,294.8L182.4,312.2M177.5,294.6L176.4,311.9M174.4,294.3L172.7,311.6M118.1,267.7L105.9,280.1M116.2,265.7L103.5,277.7M107.1,254.5L92.8,264.4M92.9,222.2L75.9,226.1M90.6,206.2L73.2,207M90.5,198.9L73.1,198.4M91.3,189.4L74,187.2M91.3,188.9L74.1,186.5M137,120.7L128.2,105.6M138.5,119.8L130,104.6" stroke="#bad12a" stroke-width="0.9" fill="none"/>
<path d="M238.6,125.7L248.8,111.6M277.2,198.3L294.6,197.8M276.9,209.6L294.3,211.1M276.2,215.4L293.4,218M194.2,294.2L196.1,311.5M182.1,294.8L181.8,312.2M179.9,294.7L179.2,312.1M178.9,294.7L178,312M162.9,292.4L159,309.4M139.9,283.8L131.7,299.1M121.5,270.9L109.8,283.8M117.6,267.2L105.2,279.4M117.3,266.9L104.9,279.1M109.2,257.5L95.3,267.9M94.2,227.5L77.5,232.4M91.9,217.3L74.7,220.2M91.3,213.6L74,215.8M90.9,210L73.6,211.6M94.5,174.4L77.8,169.4M97.3,166.5L81.1,159.9M116.3,136.9L103.7,124.9M142.6,117.6L134.9,102M143.6,117.1L136.1,101.4" stroke="#dcd61e" stroke-width="0.5" fill="none"/>
<path d="M238.7,125.8L248.9,111.7M240.9,127.4L251.5,113.6M248.5,134L260.6,121.4M277.3,203.2L294.7,203.5M262.8,251.4L277.5,260.7M262,252.6L276.6,262.1M257,259.6L270.6,270.4M254.3,262.7L267.5,274.2M207.9,291.7L212.4,308.5M201.1,293.2L204.3,310.3M197.2,293.8L199.7,311.1M183,294.8L182.8,312.2M132,279L122.3,293.5M129.3,277.2L119.1,291.3M104.7,251L90,260.2M102.1,246.5L86.9,254.9M92.5,220.8L75.5,224.5M92.2,219.1L75.1,222.3M91.1,212.2L73.8,214.2M90.5,198.8L73.1,198.3M92.3,183.2L75.2,179.8M104.3,152.6L89.5,143.5M106.4,149.3L91.9,139.6M140.7,118.6L132.6,103.2" stroke="#dcd61e" stroke-width="0.7" fill="none"/>
<path d="M240.7,127.3L251.3,113.5M246.3,131.9L257.9,118.9M254.6,140.4L267.8,129.1M277,193.9L294.3,192.5M277.1,195.6L294.5,194.5M277.2,196.5L294.5,195.6M276.7,211.9L294,213.9M276.3,215.3L293.5,217.8M250.4,266.9L262.8,279.1M203,292.8L206.6,309.9M161,292L156.8,308.8M140.6,284.2L132.5,299.6M119.3,268.8L107.2,281.4M102,246.3L86.8,254.7M95.3,231.1L78.8,236.6M92.1,218.9L75.1,222.1M90.8,208.7L73.4,210M90.5,204.2L73.1,204.7M90.9,193L73.6,191.4M118.8,134.4L106.7,122M140.9,118.5L132.8,103.1" stroke="#bad12a" stroke-width="0.7" fill="none"/>
<path d="M241.5,127.9L252.3,114.2M277.2,205.2L294.6,205.9M276,216.8L293.2,219.7M258.6,257.5L272.5,268M218.4,288.2L224.8,304.4M203.5,292.7L207.2,309.7M196.5,293.9L198.9,311.2M178.5,294.6L177.5,312M164.8,292.8L161.2,309.9M162.7,292.4L158.7,309.3M118.3,267.9L106.1,280.3M101.2,244.8L85.8,252.8M100.6,243.7L85.1,251.6M93.3,224.1L76.4,228.3M93.5,178L76.6,173.7M171.5,108.8L169.2,91.6M177.4,108.2L176.2,90.9" stroke="#bad12a" stroke-width="0.8" fill="none"/>
<path d="M243.3,129.3L254.3,115.9M274.4,178.3L291.3,174M276.8,192.1L294.1,190.3M276.9,192.9L294.2,191.3M277.3,202L294.7,202.2M277.2,206L294.6,206.9M256.7,259.9L270.3,270.8M255.2,261.7L268.5,272.9M201.4,293.1L204.7,310.2M200.5,293.3L203.6,310.4M194.5,294.2L196.4,311.5M181.3,294.8L180.8,312.2M158.2,291.2L153.4,307.9M139.6,283.6L131.3,298.9M134.8,280.9L125.7,295.7M108.6,256.7L94.6,267M105.5,252.1L90.9,261.6M103.5,248.9L88.5,257.8M100.2,242.9L84.6,250.6M94.1,227.2L77.4,232M92.5,220.5L75.4,224M92.4,182.7L75.3,179.2M97.4,166.2L81.3,159.6M118.5,134.7L106.3,122.3" stroke="#dcd61e" stroke-width="0.4" fill="none"/>
<path d="M244.3,130.2L255.6,116.9M256,260.8L269.4,271.9M197.7,293.8L200.3,311M94.5,228.5L77.9,233.6M90.5,200.5L73.1,200.3M91.5,188L74.2,185.5M96.1,169.5L79.8,163.5M141.2,118.3L133.2,102.9" stroke="#9cc934" stroke-width="0.5" fill="none"/>
<path d="M244.9,130.7L256.3,117.5M261.1,253.9L275.5,263.7M260.2,255.3L274.4,265.4M206.2,292.1L210.3,309M102.4,247L87.2,255.5M99.9,242.2L84.2,249.8M90.7,207.2L73.3,208.3M90.5,199.9L73.1,199.7M92.1,184.4L74.9,181.3M92.6,181.5L75.6,177.9M145.2,116.4L137.9,100.6M146,116L139,100.1" stroke="#9cc934" stroke-width="0.4" fill="none"/>
<path d="M276.9,192.6L294.2,191M240.8,275.4L251.5,289.2M235.3,279.4L244.9,293.9M232.2,281.3L241.3,296.2M176,294.5L174.5,311.8M160,291.7L155.5,308.5M137.2,282.3L128.5,297.4M134.9,280.9L125.7,295.7M131.8,278.9L122.1,293.3M107.9,255.7L93.8,265.9M101.6,245.6L86.3,253.9M101,244.5L85.6,252.5M90.5,203.1L73.1,203.4M91.3,189.1L74.1,186.8M92,184.6L74.9,181.5M96.2,169.3L79.9,163.3M117.6,135.6L105.2,123.4" stroke="#bad12a" stroke-width="0.5" fill="none"/>
<path d="M277.2,206.1L294.6,207M260.7,254.6L275,264.5M100.8,244.1L85.4,252.1M95.1,230.4L78.6,235.9M92.9,180.5L75.9,176.6M95.9,170L79.6,164.1M97.5,166L81.4,159.4" stroke="#9cc934" stroke-width="0.9" fill="none"/>
<path d="M277.1,206.9L294.5,208M136.8,282.1L128.1,297.1M116.9,266.5L104.4,278.6M95.5,231.5L79,237.1M94.4,228.2L77.7,233.2M94.4,228L77.7,232.9M92.7,181.1L75.7,177.4" stroke="#9cc934" stroke-width="1.0" fill="none"/>
<path d="M260,255.5L274.2,265.6M137.8,282.7L129.3,297.8M91,191.4L73.7,189.6M91.1,190.8L73.8,188.8M143.8,117L136.3,101.3" stroke="#9cc934" stroke-width="0.6" fill="none"/>
<path d="M219.2,287.9L225.8,304M179.1,294.7L178.2,312.1M103.9,249.7L89.1,258.7M97.2,236.1L81,242.6M93.4,224.6L76.6,228.9M146.3,115.9L139.2,100" stroke="#9cc934" stroke-width="0.7" fill="none"/>
<path d="M105.2,251.7L90.6,261.1M93.9,226.3L77.1,230.9M90.5,202.2L73.1,202.3M91.9,185.3L74.8,182.3" stroke="#80c040" stroke-width="0.6" fill="none"/>
<path d="M103.3,248.6L88.3,257.4M94.7,229L78.1,234.2M93.6,225.2L76.7,229.6M93.5,224.8L76.6,229.2M96.4,168.6L80.1,162.5" stroke="#80c040" stroke-width="0.4" fill="none"/>
<path d="M103,248.2L88,256.9M90.7,206.9L73.3,207.9M141.7,118.1L133.9,102.5" stroke="#80c040" stroke-width="0.5" fill="none"/>
<path d="M95.3,230.8L78.7,236.3M92.1,184.1L75,180.8" stroke="#80c040" stroke-width="0.9" fill="none"/>
<path d="M94.8,229.4L78.2,234.6M90.8,208.7L73.4,210M91.5,187.7L74.3,185.2" stroke="#80c040" stroke-width="0.8" fill="none"/>
<path d="M191.3,111.7A90,90 0 0 1 223.3,120.5L215.4,136.7A72,72 0 0 0 189.8,129.6Z" fill="#f8f4e4"/>
<path d="M224.5,121.1A90,90 0 0 1 249.7,140L236.5,152.3A72,72 0 0 0 216.4,137.2Z" fill="#f8f4e4"/>
<path d="M250.6,141A90,90 0 0 1 267.3,167.5L250.6,174.3A72,72 0 0 0 237.3,153.1Z" fill="#f8f4e4"/>
<path d="M267.8,168.8A90,90 0 0 1 273.9,199.9L255.9,200.2A72,72 0 0 0 251,175.3Z" fill="#f8f4e4"/>
<path d="M273.9,201.3A90,90 0 0 1 269.1,230.3L252.1,224.5A72,72 0 0 0 255.9,201.3Z" fill="#f8f4e4"/>
<path d="M268.7,231.7A90,90 0 0 1 255.3,256.3L241,245.3A72,72 0 0 0 251.7,225.6Z" fill="#f8f4e4"/>
<path d="M254.4,257.4A90,90 0 0 1 235.3,275.3L225,260.5A72,72 0 0 0 240.3,246.2Z" fill="#f8f4e4"/>
<path d="M234.2,276.1A90,90 0 0 1 213.4,286.4L207.5,269.4A72,72 0 0 0 224.1,261.1Z" fill="#f8f4e4"/>
<path d="M212.1,286.9A90,90 0 0 1 190.6,291.2L189.2,273.2A72,72 0 0 0 206.4,269.8Z" fill="#f8f4e4"/>
<path d="M189.2,291.2A90,90 0 0 1 167,289.8L170.3,272.1A72,72 0 0 0 188.1,273.3Z" fill="#f8f4e4"/>
<path d="M165.6,289.5A90,90 0 0 1 144.8,282.5L152.6,266.3A72,72 0 0 0 169.2,271.9Z" fill="#f8f4e4"/>
<path d="M143.5,281.8A90,90 0 0 1 126.2,270.5L137.8,256.7A72,72 0 0 0 151.6,265.8Z" fill="#f8f4e4"/>
<path d="M125.2,269.6A90,90 0 0 1 112.8,256.6L127,245.6A72,72 0 0 0 136.9,255.9Z" fill="#f8f4e4"/>
<path d="M112,255.5A90,90 0 0 1 101.8,238.4L118.3,231A72,72 0 0 0 126.4,244.7Z" fill="#f8f4e4"/>
<path d="M101.3,237.1A90,90 0 0 1 94.9,214.9L112.7,212.2A72,72 0 0 0 117.8,229.9Z" fill="#f8f4e4"/>
<path d="M94.7,213.5A90,90 0 0 1 94.1,195.8L112,196.9A72,72 0 0 0 112.6,211.1Z" fill="#f8f4e4"/>
<path d="M94.2,194.4A90,90 0 0 1 96.9,178.2L114.3,182.8A72,72 0 0 0 112.1,195.8Z" fill="#f8f4e4"/>
<path d="M97.3,176.8A90,90 0 0 1 103.3,161.5L119.4,169.4A72,72 0 0 0 114.6,181.7Z" fill="#f8f4e4"/>
<path d="M103.9,160.2A90,90 0 0 1 112.5,146.7L126.7,157.6A72,72 0 0 0 119.9,168.4Z" fill="#f8f4e4"/>
<path d="M113.3,145.6A90,90 0 0 1 123.6,134.6L135.7,147.9A72,72 0 0 0 127.4,156.7Z" fill="#f8f4e4"/>
<path d="M124.7,133.6A90,90 0 0 1 137.1,124.5L146.4,139.9A72,72 0 0 0 136.5,147.2Z" fill="#f8f4e4"/>
<path d="M138.3,123.8A90,90 0 0 1 150.1,118L156.9,134.7A72,72 0 0 0 147.4,139.3Z" fill="#f8f4e4"/>
<path d="M151.4,117.5A90,90 0 0 1 163.9,113.7L167.9,131.2A72,72 0 0 0 157.9,134.2Z" fill="#f8f4e4"/>
<path d="M165.3,113.4A90,90 0 0 1 178.6,111.6L179.6,129.5A72,72 0 0 0 169,131Z" fill="#f8f4e4"/>
<path d="M189.9,129.6L191.3,111.7M191.7,129.8L193.7,111.9M226.7,143.5L237.4,129.1M230.1,146.2L241.6,132.3M253.3,182.4L270.7,177.6M254.2,185.8L271.7,181.8M255.8,204.8L273.8,205.6M239.6,247.1L253.5,258.5M238.9,247.8L252.7,259.5M236.6,250.4L249.8,262.7M226.9,259.1L237.7,273.6M197.1,272.2L200.4,289.9M194.8,272.6L197.5,290.4M180.6,273.3L179.8,291.3M119.2,232.9L103,240.8M116.3,226.1L99.4,232.3M111.9,202.5L93.9,202.8M111.9,201.2L93.9,201.2M112.2,194.5L94.3,192.8M112.5,191.8L94.7,189.4M113.1,188.2L95.4,184.9M114.2,183.2L96.8,178.6M115.4,179.1L98.3,173.5M118,172.3L101.6,165M135.2,148.4L123,135.1M149,138.4L140.3,122.7M154.6,135.6L147.3,119.2M156.5,134.8L149.7,118.2" stroke="#f4ecd6" stroke-width="0.4" fill="none"/>
<path d="M190.8,129.7L192.6,111.8M228.9,145.2L240.1,131.1M230.3,146.3L241.9,132.6M233.1,148.8L245.4,135.7M238.8,154.8L252.5,143.2M253.7,183.9L271.2,179.5M255.8,197.2L273.7,196.1M255.4,209.6L273.3,211.6M237.3,249.7L250.6,261.8M236.1,251L249.2,263.4M222.7,262L232.5,277.2M215.4,266.2L223.2,282.4M199.7,271.7L203.6,289.2M196.6,272.3L199.8,290M196.5,272.3L199.6,290M183.1,273.4L182.9,291.4M177.9,273.1L176.3,291.1M145.3,262.2L135.6,277.3M122,238.2L106.6,247.4M121.6,237.5L106,246.5M121.4,237.2L105.8,246.1M119.8,234.1L103.7,242.3M116.8,227.6L100,234.1M114.7,221.4L97.4,226.3M113.4,216L95.8,219.6M112,205.7L94.1,206.8M111.9,199.1L93.9,198.5M112,197.7L94,196.8M113.8,185L96.3,180.9M133.4,150.1L120.8,137.3M134.5,149L122.1,136M141.4,143.3L130.8,128.7M143.4,141.9L133.3,127" stroke="#f4ecd6" stroke-width="0.9" fill="none"/>
<path d="M192.7,129.9L194.9,112.1M226.5,143.3L237.1,128.8M227.9,144.4L238.9,130.2M222.1,262.4L231.6,277.7M201.6,271.2L206,288.6M185.9,273.4L186.4,291.4M164.5,270.7L159.7,288.1M146.8,263.1L137.5,278.5M123,239.8L107.8,249.5M117.4,228.9L100.7,235.8M116.6,227.1L99.8,233.5M115.6,224.2L98.5,229.8M111.9,200.5L93.9,200.3M112.5,192.2L94.6,189.9M150.3,137.7L141.8,121.8" stroke="#f0e2c4" stroke-width="0.8" fill="none"/>
<path d="M208.4,133.7L214.6,116.8M212.6,135.4L219.8,118.9M230.5,146.5L242.2,132.8M238.5,154.5L252.2,142.7M239.1,155.2L252.9,143.6M221.5,262.8L230.9,278.2M220.3,263.5L229.4,279.1M219.5,264L228.3,279.7M212.8,267.4L220,283.9M197.5,272.1L201,289.8M195.4,272.5L198.3,290.2M149.2,264.5L140.5,280.2M144.9,261.9L135.2,277.1M133.5,252.8L120.9,265.6M131.1,250.4L118,262.6M123,239.7L107.7,249.3M117.1,228.3L100.4,235M114.1,219L96.6,223.4M112,205.9L94.1,207.1M113.3,187.1L95.7,183.5M114,183.9L96.6,179.6M118.9,170.5L102.6,162.8M133.1,150.3L120.5,137.6M151.3,137.2L143.1,121.2" stroke="#f0e2c4" stroke-width="0.5" fill="none"/>
<path d="M209.1,134L215.5,117.1M220.5,139.4L229.7,123.9M226.3,143.2L236.8,128.6M255.5,193.5L273.4,191.6M255.7,207.3L273.6,208.8M229.1,257.5L240.3,271.5M178.4,273.2L177,291.1M177.8,273.1L176.2,291.1M171.1,272.3L167.9,290M164.2,270.6L159.2,288M145.8,262.5L136.3,277.8M133,252.3L120.3,265.1M123.4,240.5L108.3,250.2M122.7,239.4L107.4,248.9M122.6,239.2L107.3,248.6M115.3,223.2L98.1,228.7M114.6,221L97.3,225.9M111.9,202L93.9,202.1M112,198.4L94,197.7M112.6,191.5L94.8,189M113.4,186.6L95.8,182.9M116.4,176.4L99.5,170.1M132.4,151.1L119.5,138.5" stroke="#f4ecd6" stroke-width="0.6" fill="none"/>
<path d="M209.9,134.3L216.4,117.5M212.5,267.5L219.6,284M211.2,268L218.1,284.7M178.9,273.2L177.7,291.2M149.5,264.6L140.9,280.4M143.2,260.8L133.1,275.7M123.7,240.9L108.7,250.8M116,225.3L99,231.3M113.7,217.5L96.2,221.6" stroke="#f0e2c4" stroke-width="1.0" fill="none"/>
<path d="M210.9,134.6L217.6,118M242.8,242.8L257.5,253.2M237.6,249.3L251.1,261.3M200.1,271.6L204.1,289.1M197.8,272L201.3,289.7M180,273.3L179,291.3M166.1,271.2L161.6,288.6M147,263.2L137.7,278.7M144,261.3L134,276.3M117,228L100.3,234.6M112.5,210.6L94.6,212.9M111.9,203.3L93.9,203.7M113.9,184.7L96.3,180.6M117.4,173.8L100.8,167M118.5,171.2L102.2,163.7M118.9,170.5L102.6,162.7M130.9,152.6L117.7,140.5M151.8,136.9L143.8,120.8M161.3,133L155.7,115.9" stroke="#f0e2c4" stroke-width="0.4" fill="none"/>
<path d="M211.9,135.1L218.9,118.5M227.7,144.2L238.6,129.9M229.3,145.6L240.7,131.6M229.4,145.6L240.8,131.7M231,147L242.8,133.4M252.7,180.1L269.9,174.8M255.9,199.3L273.9,198.8M255.8,204.4L273.8,205.1M255.6,207.8L273.5,209.4M213.6,267L221,283.4M211.9,267.7L218.9,284.3M202.6,270.9L207.2,288.3M198.5,271.9L202.2,289.5M195,272.5L197.8,290.3M194.5,272.6L197.2,290.4M178.1,273.2L176.6,291.1M175.8,272.9L173.8,290.8M166.6,271.3L162.3,288.8M163.2,270.4L158,287.6M147.7,263.7L138.7,279.2M134,253.3L121.5,266.3M131.9,251.2L118.9,263.7M129.7,248.8L116.2,260.7M124.6,242.2L109.7,252.4M121.3,237L105.7,245.9M116.4,226.5L99.6,232.8M114.4,220L97,224.7M112,198.2L94,197.4M113.5,186.5L95.8,182.8M116.3,176.7L99.4,170.5M117.3,174L100.7,167.2" stroke="#f4ecd6" stroke-width="0.7" fill="none"/>
<path d="M212.8,135.4L220,119M240.2,156.5L254.3,145.3M243.9,241.2L258.9,251.1M242.4,243.4L257,253.9M176.5,273L174.7,290.9M176.3,273L174.4,290.9M121.8,237.9L106.3,247M120.2,235L104.3,243.4M116.9,227.7L100.1,234.3M115.1,222.8L98,228.1M114.4,220.4L97.1,225.1M112,204.9L94,205.8M112,198.6L94,197.9M112.6,191.5L94.7,189.1M112.8,190L95,187.2M150.6,137.6L142.3,121.6" stroke="#f0e2c4" stroke-width="0.9" fill="none"/>
<path d="M227.4,144L238.3,129.7M230.9,146.8L242.6,133.2M255.3,210.4L273.2,212.6M186.6,273.3L187.3,291.3M113.1,214.5L95.4,217.8M111.9,202.3L93.9,202.5M113.4,187L95.7,183.4M116,177.4L99,171.4M116.4,176.3L99.6,170M117.1,174.4L100.5,167.7M133.3,150.2L120.6,137.4M147.8,139.1L138.7,123.5M149.3,138.3L140.7,122.5" stroke="#f0e2c4" stroke-width="0.7" fill="none"/>
<path d="M232.5,148.3L244.7,135M255.7,196.5L273.7,195.3M255.7,196.6L273.7,195.4M255.8,198.2L273.8,197.3M239.2,247.5L253,259M205.6,270.1L211,287.2M202.2,271L206.7,288.5M183.7,273.4L183.6,291.4M165.6,271L161.1,288.5M147.1,263.3L137.9,278.8M133.4,252.7L120.7,265.5M131.6,250.9L118.6,263.3M130.6,249.8L117.2,261.9M112.2,208.4L94.3,210.1M112.3,193.7L94.4,191.8M112.7,190.8L94.9,188.1M113.5,186.3L95.9,182.5M117.5,173.6L100.9,166.6M155.3,135.3L148.1,118.8" stroke="#f0e2c4" stroke-width="0.6" fill="none"/>
<path d="M232.8,148.5L245,135.3M239.4,155.6L253.3,144.1M241.1,157.7L255.4,146.7M255.5,194.2L273.5,192.5M255.8,197.5L273.8,196.5M255.9,199.3L273.9,198.8M255.9,203.1L273.9,203.5M255.8,205.8L273.7,206.9M255.7,206.2L273.7,207.4M236.9,250.1L250.1,262.3M197.4,272.1L200.8,289.8M180.3,273.3L179.4,291.3M166.5,271.3L162.1,288.7M148.8,264.3L140,280M130.8,250L117.5,262.1M122.8,239.5L107.5,249M121.2,236.7L105.5,245.6M115.8,224.7L98.8,230.6M115.2,223L98.1,228.5M113,213.8L95.2,216.9M112.1,207.1L94.2,208.6M111.9,203.7L93.9,204.2M112.2,195.3L94.2,193.7M112.4,192.5L94.6,190.3M113.2,187.6L95.6,184.2M118.4,171.4L102.1,164" stroke="#f4ecd6" stroke-width="0.5" fill="none"/>
<path d="M236.1,151.8L249.1,139.4M239.9,156.1L253.9,144.8M245.5,164.2L260.9,154.9M253.2,181.8L270.5,176.9M255.4,192.8L273.2,190.6M254.7,214.5L272.4,217.8M243.9,241.3L258.8,251.2M238.7,248.1L252.4,259.8M211.4,267.9L218.3,284.6M199.6,271.7L203.5,289.2M194.2,272.7L196.8,290.5M189.6,273.2L191.1,291.1M182.3,273.4L181.9,291.4M181.8,273.4L181.3,291.4M181,273.3L180.3,291.3M179.7,273.3L178.6,291.2M144.7,261.8L135,276.9M132.9,252.2L120.1,264.9M122.5,239L107.1,248.4M122.3,238.7L107,248.1M121.8,237.8L106.2,246.9M115.9,225L98.9,230.8M114.2,219.5L96.8,224M113.9,218.4L96.5,222.7M113.5,216.6L95.9,220.4M113,214.2L95.3,217.4M112.6,211.1L94.7,213.5M112.2,207.9L94.3,209.5M112.1,206.2L94.1,207.5M111.9,203L93.9,203.4M112,198L94,197.1M112.3,194.1L94.4,192.3M112.9,189.4L95.2,186.4M113,188.7L95.3,185.6M115.2,179.7L98.1,174.3M115.6,178.6L98.5,172.9M122.7,163.4L107.5,153.9" stroke="#f4ecd6" stroke-width="0.8" fill="none"/>
<path d="M255.6,194.7L273.5,193M255.7,195.5L273.6,194M181.3,273.4L180.7,291.3M112.8,190.3L95,187.5M116.9,175.2L100.1,168.6M132.4,151.1L119.5,138.5M150.8,137.5L142.5,121.5M151.6,137L143.6,120.9" stroke="#ead6b0" stroke-width="0.5" fill="none"/>
<path d="M255.7,196L273.6,194.6M115.5,223.8L98.4,229.4M111.9,202.9L93.9,203.2M113.2,187.8L95.5,184.4" stroke="#ead6b0" stroke-width="0.8" fill="none"/>
<path d="M255.7,196.3L273.7,195M112,204.3L94,205.1M111.9,203.5L93.9,204M116.6,175.7L99.8,169.3" stroke="#ead6b0" stroke-width="0.6" fill="none"/>
<path d="M253.3,220.6L270.6,225.4M222.9,261.9L232.7,277M198.5,271.9L202.2,289.5M183.8,273.4L183.8,291.4M165.5,271L160.8,288.4M148.1,263.8L139.1,279.5M146.4,262.8L137,278.2M142.8,260.5L132.5,275.3M124.8,242.5L110,252.8M114.8,221.8L97.6,226.9M112.6,191.3L94.8,188.7M114.1,183.8L96.6,179.4M115.7,178.3L98.7,172.5M117,174.7L100.3,168M131.5,152L118.4,139.7M133.8,149.7L121.2,136.8" stroke="#f4ecd6" stroke-width="1.0" fill="none"/>
<path d="M238.4,248.5L252,260.3M114,218.6L96.5,222.9M112.4,209.6L94.5,211.6M111.9,201.4L93.9,201.4M112.9,189.6L95.1,186.7M154.9,135.5L147.7,119" stroke="#ead6b0" stroke-width="0.7" fill="none"/>
<path d="M121.1,236.7L105.4,245.5M114.9,221.9L97.6,227M112.1,206.9L94.2,208.3M112.1,206.8L94.1,208.1M111.9,203.9L94,204.5M111.9,200.8L93.9,200.6" stroke="#ead6b0" stroke-width="0.4" fill="none"/>
<path d="M112,204.7L94,205.5M111.9,200.9L93.9,200.7M151.2,137.3L143,121.2M152.1,136.8L144.1,120.7M153.2,136.3L145.6,120" stroke="#ead6b0" stroke-width="0.9" fill="none"/>
<path d="M152.4,136.7L144.5,120.5" stroke="#ead6b0" stroke-width="1.0" fill="none"/>
<path d="M189.6,132.6A69,69 0 0 1 214.1,139.4L205.8,156.4A50,50 0 0 0 188,151.6Z" fill="#3c4877"/>
<path d="M215.1,139.8A69,69 0 0 1 234.3,154.3L220.4,167.3A50,50 0 0 0 206.5,156.8Z" fill="#3c4877"/>
<path d="M235.1,155.1A69,69 0 0 1 247.8,175.4L230.2,182.5A50,50 0 0 0 221,167.8Z" fill="#3c4877"/>
<path d="M248.2,176.4A69,69 0 0 1 252.9,200.3L233.9,200.6A50,50 0 0 0 230.5,183.3Z" fill="#3c4877"/>
<path d="M252.9,201.3A69,69 0 0 1 249.2,223.6L231.2,217.5A50,50 0 0 0 233.9,201.4Z" fill="#3c4877"/>
<path d="M248.9,224.6A69,69 0 0 1 238.6,243.5L223.5,231.9A50,50 0 0 0 231,218.2Z" fill="#3c4877"/>
<path d="M237.9,244.3A69,69 0 0 1 223.3,258L212.5,242.4A50,50 0 0 0 223.1,232.5Z" fill="#3c4877"/>
<path d="M222.4,258.6A69,69 0 0 1 206.5,266.6L200.3,248.6A50,50 0 0 0 211.8,242.9Z" fill="#3c4877"/>
<path d="M205.5,266.9A69,69 0 0 1 189,270.2L187.6,251.3A50,50 0 0 0 199.6,248.9Z" fill="#3c4877"/>
<path d="M187.9,270.3A69,69 0 0 1 170.9,269.2L174.5,250.5A50,50 0 0 0 186.8,251.3Z" fill="#3c4877"/>
<path d="M169.8,269A69,69 0 0 1 153.9,263.5L162.2,246.4A50,50 0 0 0 173.7,250.4Z" fill="#3c4877"/>
<path d="M153,263.1A69,69 0 0 1 139.7,254.4L151.9,239.8A50,50 0 0 0 161.5,246.1Z" fill="#3c4877"/>
<path d="M138.9,253.7A69,69 0 0 1 129.4,243.7L144.4,232.1A50,50 0 0 0 151.3,239.3Z" fill="#3c4877"/>
<path d="M128.8,242.9A69,69 0 0 1 121,229.7L138.3,221.9A50,50 0 0 0 143.9,231.5Z" fill="#3c4877"/>
<path d="M120.6,228.7A69,69 0 0 1 115.7,211.8L134.5,208.9A50,50 0 0 0 138,221.2Z" fill="#3c4877"/>
<path d="M115.5,210.7A69,69 0 0 1 115,197.1L134,198.3A50,50 0 0 0 134.4,208.1Z" fill="#3c4877"/>
<path d="M115.1,196A69,69 0 0 1 117.2,183.6L135.6,188.5A50,50 0 0 0 134.1,197.5Z" fill="#3c4877"/>
<path d="M117.5,182.6A69,69 0 0 1 122.1,170.8L139.1,179.2A50,50 0 0 0 135.8,187.7Z" fill="#3c4877"/>
<path d="M122.6,169.8A69,69 0 0 1 129.1,159.4L144.2,171A50,50 0 0 0 139.4,178.5Z" fill="#3c4877"/>
<path d="M129.8,158.6A69,69 0 0 1 137.7,150.2L150.4,164.3A50,50 0 0 0 144.7,170.4Z" fill="#3c4877"/>
<path d="M138.5,149.4A69,69 0 0 1 148,142.5L157.9,158.7A50,50 0 0 0 151,163.8Z" fill="#3c4877"/>
<path d="M148.9,141.9A69,69 0 0 1 158,137.4L165.1,155.1A50,50 0 0 0 158.6,158.3Z" fill="#3c4877"/>
<path d="M159,137A69,69 0 0 1 168.6,134.1L172.8,152.7A50,50 0 0 0 165.9,154.8Z" fill="#3c4877"/>
<path d="M169.6,133.9A69,69 0 0 1 179.8,132.5L180.9,151.5A50,50 0 0 0 173.5,152.5Z" fill="#3c4877"/>
<path d="M188.2,151.6L189.9,132.7M222.3,169.4L236.9,157.2M227.9,177.7L244.7,168.7M233.8,198.8L252.8,197.8M233.9,202.4L252.9,202.8M215.9,239.8L228,254.4M190.7,250.9L193.3,269.8M183.3,251.4L183.1,270.4M180,251.2L178.5,270.2M160.4,245.5L151.4,262.3M157.4,243.8L147.4,259.9M156,242.9L145.4,258.6M136.6,217.6L118.6,223.8M136.1,216.2L118,221.8M134.9,191.4L116.3,187.6" stroke="#a9afcc" stroke-width="0.4" fill="none"/>
<path d="M189.2,151.7L191.3,132.8M215.3,162.5L227.2,147.7M232.9,211.2L251.6,214.9M232.6,212.9L251.1,217.3M224.6,230.5L240,241.5M209.7,244.2L219.5,260.5M181.8,251.4L181,270.3M179.7,251.2L178.1,270.2M173.6,250.3L169.7,268.9M168.7,249L163,267.2M153.2,240.9L141.5,255.8M146.1,234.1L131.7,246.6M140,225.3L123.3,234.4M136.1,216.2L118,221.9M136,215.8L117.8,221.3M135.6,214.3L117.2,219.2M135.4,213.7L117,218.4M133.9,202.9L114.9,203.5M135.5,188.8L117.1,184.1M161.4,156.7L152.9,139.8M177.5,151.8L175.1,133" stroke="#6a73a0" stroke-width="0.8" fill="none"/>
<path d="M189.4,151.7L191.4,132.8M202.4,154.9L209.4,137.3M214,161.5L225.5,146.3M223.2,170.4L238.1,158.7M226.1,174.6L242.1,164.4M233.8,198.3L252.8,197.2M233.7,206.3L252.6,208.1M213,242.1L224.1,257.5M193.1,250.5L196.6,269.2M182.3,251.4L181.7,270.4M160.8,245.7L152,262.6M158.3,244.4L148.6,260.7M147.4,235.5L133.5,248.5M141.3,227.6L125.2,237.6M139.6,224.7L122.8,233.5M136.5,217.4L118.5,223.4M134.1,205.5L115.1,207M133.9,203.5L115,204.3M133.9,199.9L114.9,199.3M143.9,171.4L128.7,160" stroke="#6a73a0" stroke-width="0.7" fill="none"/>
<path d="M192.3,152.1L195.5,133.4M233.9,199.6L252.9,198.9M136.7,184.8L118.8,178.5" stroke="#d99aa6" stroke-width="0.8" fill="none"/>
<path d="M197.2,153.2L202.3,134.9M202,154.8L208.9,137.1M202.3,154.9L209.3,137.3M216.1,163.1L228.3,148.6M233.8,198.8L252.8,197.9M233.8,204.9L252.7,206.2M233.6,206.5L252.5,208.5M233.4,208.6L252.2,211.4M233.2,209.9L251.9,213.1M225.3,229.4L241.1,240M224.1,231.2L239.3,242.5M220.7,235.3L234.7,248.1M194.2,250.3L198.1,268.9M183.6,251.4L183.5,270.4M136.3,216.6L118.2,222.3M135.1,212.5L116.6,216.7M149,165.6L135.8,152M163,156L155.1,138.7M163.5,155.8L155.7,138.4" stroke="#6a73a0" stroke-width="0.4" fill="none"/>
<path d="M200.2,154.1L206.4,136.2M217.6,164.4L230.4,150.4M218.4,165.2L231.5,151.4M233.8,198.1L252.8,196.9M233.5,207.4L252.4,209.6M225.2,229.6L240.9,240.3M220.1,235.9L233.9,249M203.8,247.3L211.4,264.7M190.5,251L193,269.8M188.4,251.2L190.1,270.1M177.8,251L175.4,269.9M158.9,244.7L149.3,261.1M147.9,236.1L134.3,249.3M135.4,213.4L116.9,218M135.3,213.1L116.8,217.6M134.1,196.6L115.2,194.8M136.8,184.6L118.9,178.2M158.8,158.2L149.2,141.7" stroke="#a9afcc" stroke-width="0.6" fill="none"/>
<path d="M200.6,154.3L207,136.4M212.3,160.3L223.1,144.6M213.4,161L224.6,145.7M213.5,161.1L224.8,145.8M233.9,203.2L252.9,203.9M222.6,233L237.3,245M220.9,235L235,247.7M220.2,235.8L234,248.8M219.3,236.7L232.8,250.1M213.8,241.5L225.2,256.7M210.4,243.8L220.5,259.9M197.1,249.6L202.1,267.9M192.7,250.6L196,269.3M187.9,251.2L189.4,270.2M181.5,251.3L180.6,270.3M172.1,250L167.5,268.4M160.7,245.7L151.8,262.5M157.1,243.6L147,259.7M153.2,240.9L141.6,255.9M148.9,237.1L135.5,250.6M147.5,235.7L133.7,248.7M141.2,227.5L125,237.4M140.7,226.6L124.3,236.1M138.5,222.3L121.2,230.3M135.5,214L117.1,218.7M134.2,196.1L115.3,194.1M134.3,195.4L115.4,193.2M137.2,183.5L119.5,176.8M148.5,166.1L135,152.7M149.5,165.2L136.4,151.4M161.1,156.9L152.5,140" stroke="#6a73a0" stroke-width="0.9" fill="none"/>
<path d="M200.8,154.3L207.2,136.5M201.1,154.5L207.6,136.6M211.5,159.7L221.9,143.8M226.6,175.4L242.9,165.6M229,179.8L246.2,171.7M233.9,199.4L252.8,198.7M233.2,209.7L251.9,212.9M221.4,234.4L235.7,247M203.7,247.3L211.3,264.7M203.4,247.4L210.8,264.9M184.6,251.4L184.8,270.4M170.9,249.7L166,268M170.6,249.6L165.5,267.9M159.5,245L150.2,261.6M157.3,243.8L147.3,259.9M136,215.6L117.8,221M135.3,213L116.8,217.3M134.5,209.2L115.7,212.2M134,204.9L115.1,206.3M133.9,202.4L114.9,202.8M134.1,197.3L115.1,195.7M134.5,193.5L115.8,190.5M136.6,185.1L118.7,179M161.7,156.6L153.2,139.6M170.8,153.2L165.8,134.8" stroke="#6a73a0" stroke-width="0.5" fill="none"/>
<path d="M201.4,154.6L208.1,136.8M232.2,188.5L250.6,183.6M210.5,243.7L220.6,259.8M208.5,244.9L217.8,261.5M172,250L167.5,268.4M149.4,237.6L136.3,251.4M147.1,235.3L133.2,248.2M140.3,225.9L123.8,235.3M134.7,210.5L116,213.9M134.1,205.7L115.2,207.4M134,204.5L115,205.7" stroke="#a9afcc" stroke-width="0.7" fill="none"/>
<path d="M203.4,155.4L210.9,137.9M221.6,234.3L235.9,246.8M194.3,250.3L198.2,268.9M193.1,250.5L196.6,269.2M182.7,251.4L182.3,270.4M142.7,229.8L127.1,240.6M137.3,219.5L119.6,226.4M134,204.2L115,205.3M133.9,200.2L114.9,199.8M133.9,199.5L114.9,198.8M136.6,185.3L118.6,179.2M137.9,181.7L120.5,174.2M141.9,174.3L125.9,164M149.3,165.3L136.1,151.6M163.6,155.7L155.9,138.4" stroke="#e6e8f1" stroke-width="0.4" fill="none"/>
<path d="M213.1,160.8L224.2,145.4M219.6,166.4L233.2,153.1M226.7,175.6L243,165.8M232.1,214.7L250.4,219.7M197.7,249.5L203,267.7M149.7,237.9L136.7,251.7M147.7,235.9L133.9,249M134,204.5L115,205.7M135.5,189L117.1,184.3M142.2,173.9L126.3,163.4M162.5,156.2L154.3,139.1M164.5,155.3L157.1,137.8" stroke="#6a73a0" stroke-width="1.0" fill="none"/>
<path d="M214.2,161.7L225.8,146.6M221.5,168.4L235.8,155.9M233.6,196.4L252.5,194.4M233.8,197.9L252.7,196.5M233.4,208.5L252.2,211.2M225.2,229.5L240.9,240.2M183.7,251.4L183.6,270.4M171,249.7L166.1,268.1M148.4,236.6L134.9,250M147.5,235.7L133.7,248.7M139.3,224L122.3,232.6M138.5,222.4L121.3,230.4M137.5,219.9L119.8,227M136.9,218.4L119,224.9M133.9,201.9L114.9,202.1M134,198.7L115,197.6M134.8,192.2L116.1,188.7M134.8,191.8L116.2,188.1M177.4,151.8L174.9,133" stroke="#a9afcc" stroke-width="0.9" fill="none"/>
<path d="M214.9,162.2L226.7,147.3M233.5,207.5L252.4,209.9M213.4,241.7L224.7,257.1M171.8,249.9L167.2,268.4M141.9,228.5L125.9,238.8M140.6,226.4L124.1,235.9M137.3,219.6L119.6,226.5M134.2,206.8L115.3,208.9M134,199.1L115,198.3M134.2,195.6L115.4,193.4M136.7,184.9L118.7,178.7M137.6,182.4L120.1,175.2" stroke="#e6e8f1" stroke-width="0.6" fill="none"/>
<path d="M215.1,162.3L227,147.5M209.1,244.6L218.7,261M146.8,234.9L132.7,247.7M140.1,225.5L123.4,234.6M136.1,216L117.9,221.6M133.9,202L114.9,202.2M134.4,194.2L115.6,191.5M149.8,164.9L136.8,151M160.9,157L152.2,140.1" stroke="#a9afcc" stroke-width="0.5" fill="none"/>
<path d="M215.5,162.6L227.5,147.9M215.7,162.8L227.8,148.2M224.5,230.5L240,241.6M135.2,212.7L116.7,217M134.1,206.3L115.2,208.1M134.9,191.6L116.2,187.9M135.2,190L116.7,185.7" stroke="#d99aa6" stroke-width="0.6" fill="none"/>
<path d="M215.9,163L228.1,148.4M221.3,234.6L235.5,247.2M192.3,250.7L195.5,269.4M173.3,250.3L169.2,268.8M136.9,218.4L119,224.9" stroke="#d99aa6" stroke-width="0.7" fill="none"/>
<path d="M219.2,166L232.6,152.5M233.8,199L252.8,198.1M233.9,199.6L252.9,199M225.6,229L241.5,239.4M225,229.9L240.6,240.7M181.3,251.3L180.3,270.3M180.8,251.3L179.7,270.3M172.6,250.1L168.3,268.6M171.5,249.8L166.8,268.2M171.3,249.8L166.6,268.2M158.8,244.6L149.3,261.1M156.4,243.2L146,259M142.4,229.3L126.6,239.9M139.8,224.9L123,233.8M134.9,211.6L116.3,215.5M133.9,201.2L114.9,201.2M134.2,195.9L115.3,193.8M134.3,195.1L115.5,192.7M138.5,180.4L121.3,172.4M163.3,155.8L155.5,138.5" stroke="#6a73a0" stroke-width="0.6" fill="none"/>
<path d="M219.3,166.1L232.7,152.6M222.1,169.2L236.6,156.9M233.9,199.2L252.8,198.3M233.3,209L252.1,211.9M222.5,233.2L237.1,245.3M222.3,233.4L236.9,245.6M214.4,241L226,256M172.9,250.2L168.7,268.7M170.8,249.6L165.8,268M170.5,249.6L165.4,267.9M141.1,227.3L124.9,237.2M138.7,222.7L121.5,230.8M136.8,218.2L118.9,224.6M136.7,218L118.8,224.3M136.7,217.8L118.7,224.1M134.3,207.8L115.5,210.2M134.2,206.4L115.3,208.4M134.1,206.1L115.2,207.9M134,204.8L115.1,206.1M134.9,191.3L116.3,187.4M135.1,190.6L116.5,186.4M137.7,182.3L120.1,175M148.3,166.3L134.8,152.9M148.7,165.9L135.4,152.3M160.6,157.2L151.7,140.4" stroke="#a9afcc" stroke-width="0.8" fill="none"/>
<path d="M228.8,179.4L245.8,171M160.3,245.5L151.4,262.2" stroke="#d99aa6" stroke-width="1.0" fill="none"/>
<path d="M232.3,188.7L250.6,183.9M192.5,250.7L195.8,269.4M185.2,251.4L185.7,270.4M136.2,186.4L118.1,180.7" stroke="#d99aa6" stroke-width="0.4" fill="none"/>
<path d="M233.6,195.8L252.5,193.7M209.6,244.3L219.3,260.6M203.4,247.4L210.8,264.9M173,250.2L168.8,268.7M169.3,249.2L163.8,267.4" stroke="#d99aa6" stroke-width="0.5" fill="none"/>
<path d="M233.7,196.8L252.6,195M224.8,230.2L240.3,241.1M195.7,250L200.2,268.5M193.4,250.5L196.9,269.2M183.4,251.4L183.2,270.4M182.9,251.4L182.5,270.4M134.7,192.7L116,189.4M137,184.1L119.2,177.5M137.5,182.8L119.8,175.8" stroke="#e6e8f1" stroke-width="0.9" fill="none"/>
<path d="M233.7,197.4L252.7,195.8M224.4,230.7L239.8,241.8M160.6,245.6L151.7,262.4M139.5,224.4L122.7,233.2M135.5,214.1L117.2,219M135.1,212.1L116.5,216.1M148.8,165.8L135.5,152.2" stroke="#e6e8f1" stroke-width="0.7" fill="none"/>
<path d="M233.8,198L252.7,196.7M140,225.4L123.4,234.5M134.5,193.9L115.7,191.1" stroke="#ffffff" stroke-width="0.8" fill="none"/>
<path d="M233.7,205.9L252.6,207.7M222.2,233.5L236.8,245.7M181.1,251.3L180.1,270.3M134.2,206.9L115.3,209.1" stroke="#a9afcc" stroke-width="1.0" fill="none"/>
<path d="M195.4,250.1L199.7,268.6M147.7,235.9L134,249M141.5,227.9L125.4,238M139.6,224.5L122.7,233.3M137.2,219.3L119.5,226.1M134.8,210.8L116.1,214.4M133.9,202.7L114.9,203.2M135.1,190.3L116.6,186.1M137.1,183.8L119.3,177.1M159.3,157.9L150,141.3M161.9,156.5L153.6,139.4" stroke="#e6e8f1" stroke-width="0.8" fill="none"/>
<path d="M181.6,251.3L180.7,270.3" stroke="#ffffff" stroke-width="0.7" fill="none"/>
<path d="M179.6,251.2L178,270.1M148.2,236.5L134.7,249.8M147.2,235.4L133.3,248.3M135.4,213.6L117,218.2M134.8,210.8L116.1,214.3M134.7,210.4L116,213.8M134.3,207.4L115.4,209.7M136.4,185.8L118.3,179.9M160.7,157.1L151.8,140.3" stroke="#e6e8f1" stroke-width="0.5" fill="none"/>
<path d="M158.5,244.5L148.9,260.8M157.6,243.9L147.6,260.1M134.3,207.3L115.4,209.6M133.9,203.2L114.9,203.9M133.9,200.8L114.9,200.5M134,199L115,198M137.8,182.1L120.2,174.8M162.9,156L154.9,138.8" stroke="#e6e8f1" stroke-width="1.0" fill="none"/>
<path d="M135.8,215.1L117.5,220.3" stroke="#ffffff" stroke-width="0.6" fill="none"/>
<path d="M134.4,208.1L115.5,210.7M134.3,194.9L115.5,192.4M138.7,180L121.5,171.9" stroke="#d99aa6" stroke-width="0.9" fill="none"/>
<path d="M134.1,205.8L115.2,207.5M161.5,156.7L153,139.7" stroke="#ffffff" stroke-width="1.0" fill="none"/>
<path d="M134,205.2L115.1,206.6" stroke="#ffffff" stroke-width="0.9" fill="none"/>
<path d="M134,203.7L115,204.6M134.8,192.2L116.1,188.7" stroke="#ffffff" stroke-width="0.5" fill="none"/>
<text x="184.6" y="60.8" font-size="10" fill="#111" text-anchor="middle">i</text>
<text x="184.6" y="80.9" font-size="10" fill="#111" text-anchor="middle">ii</text>
<text x="184.6" y="102.60000000000001" font-size="10" fill="#111" text-anchor="middle">iii</text>
<text x="184.6" y="122.80000000000001" font-size="10" fill="#111" text-anchor="middle">iv</text>
<text x="184.6" y="144.0" font-size="10" fill="#111" text-anchor="middle">v</text>
</g>
<text x="141.45" y="177.00" font-size="7.3" fill="#222" textLength="84.57" lengthAdjust="spacingAndGlyphs">i.Gene Density(Number/Mb)</text>
<text x="141.45" y="189.10" font-size="7.3" fill="#222" textLength="77.97" lengthAdjust="spacingAndGlyphs">ii.TE Density(Number/Mb)</text>
<text x="141.45" y="201.50" font-size="7.3" fill="#222" textLength="61.18" lengthAdjust="spacingAndGlyphs">iii.SNP(Number/Mb)</text>
<text x="141.45" y="213.90" font-size="7.3" fill="#222" textLength="62.68" lengthAdjust="spacingAndGlyphs">iv.InDel(Number/Mb)</text>
<text x="141.88" y="225.60" font-size="7.3" fill="#222" textLength="54.25" lengthAdjust="spacingAndGlyphs">v.SV(Number/Mb)</text>
<defs>
<linearGradient id="gsnp"><stop offset="0" stop-color="#fde725"/><stop offset="0.25" stop-color="#7ad151"/><stop offset="0.5" stop-color="#22a884"/><stop offset="0.75" stop-color="#2a788e"/><stop offset="0.88" stop-color="#414487"/><stop offset="1" stop-color="#440154"/></linearGradient>
<linearGradient id="gindel"><stop offset="0" stop-color="#faf6ea"/><stop offset="0.45" stop-color="#eed3ad"/><stop offset="1" stop-color="#c2652e"/></linearGradient>
<linearGradient id="gsv"><stop offset="0" stop-color="#2c3a6e"/><stop offset="0.45" stop-color="#eceef4"/><stop offset="0.62" stop-color="#f2c4c8"/><stop offset="1" stop-color="#c8192e"/></linearGradient>
</defs>
<rect x="204" y="195.2" width="26.3" height="4.8" fill="url(#gsnp)"/>
<rect x="204.4" y="209.5" width="27" height="4.7" fill="url(#gindel)"/>
<rect x="200" y="221.6" width="27" height="5.4" fill="url(#gsv)"/>
<path d="M201.3,221.6V227M226,221.6V227M222,221.6V227M228.5,195.2V200M208,195.2V200M229.5,209.5V214.2" stroke="#fff" stroke-width="0.5"/>
<text x="204.32" y="205.60" font-size="7.3" fill="#222" textLength="3.95" lengthAdjust="spacingAndGlyphs">0</text>
<text x="219.56" y="205.60" font-size="7.3" fill="#222" textLength="10.13" lengthAdjust="spacingAndGlyphs">30k</text>
<text x="204.72" y="220.90" font-size="7.3" fill="#222" textLength="3.95" lengthAdjust="spacingAndGlyphs">0</text>
<text x="219.49" y="220.90" font-size="7.3" fill="#222" textLength="11.90" lengthAdjust="spacingAndGlyphs">2.5k</text>
<text x="197.74" y="232.90" font-size="7.3" fill="#222" textLength="3.72" lengthAdjust="spacingAndGlyphs">0</text>
<text x="215.22" y="232.90" font-size="7.3" fill="#222" textLength="10.63" lengthAdjust="spacingAndGlyphs">100</text>
<g font-size="18" fill="#000"><text x="11.2" y="11.8">a</text><text x="353" y="11.8">b</text><text x="12.3" y="399.8">c</text><text x="352.4" y="399.8">d</text></g>
<rect x="406.9" y="153.8" width="5.1" height="121.4" fill="#f2a69b"/>
<rect x="406.9" y="131.9" width="5.1" height="21.9" fill="#e64a35"/>
<rect x="412.9" y="141.9" width="6.1" height="133.3" fill="#a9deea"/>
<rect x="412.9" y="129.1" width="6.1" height="12.8" fill="#4db8d5"/>
<text x="407.98" y="287.00" font-size="8.7" fill="#222" textLength="10.59" lengthAdjust="spacingAndGlyphs">AJ</text>
<rect x="423" y="153.8" width="5.1" height="121.4" fill="#f2a69b"/>
<rect x="423" y="131.9" width="5.1" height="21.9" fill="#e64a35"/>
<rect x="429" y="142.2" width="6.1" height="133" fill="#a9deea"/>
<rect x="429" y="129.6" width="6.1" height="12.6" fill="#4db8d5"/>
<text x="423.23" y="287.00" font-size="8.7" fill="#222" textLength="12.99" lengthAdjust="spacingAndGlyphs">CS</text>
<rect x="439.1" y="156.1" width="5.1" height="119.1" fill="#f2a69b"/>
<rect x="439.1" y="132.8" width="5.1" height="23.3" fill="#e64a35"/>
<rect x="445.1" y="140.7" width="6.1" height="134.5" fill="#a9deea"/>
<rect x="445.1" y="129.1" width="6.1" height="11.6" fill="#4db8d5"/>
<text x="438.56" y="287.00" font-size="8.7" fill="#222" textLength="12.56" lengthAdjust="spacingAndGlyphs">DA</text>
<rect x="455.2" y="156.8" width="5.1" height="118.4" fill="#f2a69b"/>
<rect x="455.2" y="132.3" width="5.1" height="24.5" fill="#e64a35"/>
<rect x="461.2" y="141.9" width="6.1" height="133.3" fill="#a9deea"/>
<rect x="461.2" y="129.1" width="6.1" height="12.8" fill="#4db8d5"/>
<text x="453.76" y="287.00" font-size="8.7" fill="#222" textLength="12.62" lengthAdjust="spacingAndGlyphs">HB</text>
<rect x="471.3" y="154.7" width="5.1" height="120.5" fill="#f2a69b"/>
<rect x="471.3" y="127.9" width="5.1" height="26.8" fill="#e64a35"/>
<rect x="477.3" y="139.3" width="6.1" height="135.9" fill="#a9deea"/>
<rect x="477.3" y="127.9" width="6.1" height="11.4" fill="#4db8d5"/>
<text x="469.14" y="287.00" font-size="8.7" fill="#222" textLength="12.88" lengthAdjust="spacingAndGlyphs">HS</text>
<rect x="487.4" y="154.2" width="5.1" height="121" fill="#f2a69b"/>
<rect x="487.4" y="131.9" width="5.1" height="22.3" fill="#e64a35"/>
<rect x="493.4" y="138.9" width="6.1" height="136.3" fill="#a9deea"/>
<rect x="493.4" y="129.1" width="6.1" height="9.8" fill="#4db8d5"/>
<text x="484.13" y="287.00" font-size="8.7" fill="#222" textLength="16.40" lengthAdjust="spacingAndGlyphs">HZP</text>
<rect x="503.5" y="154.7" width="5.1" height="120.5" fill="#f2a69b"/>
<rect x="503.5" y="131.9" width="5.1" height="22.8" fill="#e64a35"/>
<rect x="509.5" y="139.8" width="6.1" height="135.4" fill="#a9deea"/>
<rect x="509.5" y="129.1" width="6.1" height="10.7" fill="#4db8d5"/>
<text x="504.86" y="287.00" font-size="8.7" fill="#222" textLength="10.64" lengthAdjust="spacingAndGlyphs">JZ</text>
<rect x="519.6" y="155.6" width="5.1" height="119.6" fill="#f2a69b"/>
<rect x="519.6" y="131.9" width="5.1" height="23.7" fill="#e64a35"/>
<rect x="525.6" y="139.8" width="6.1" height="135.4" fill="#a9deea"/>
<rect x="525.6" y="129.1" width="6.1" height="10.7" fill="#4db8d5"/>
<text x="519.12" y="287.00" font-size="8.7" fill="#222" textLength="10.88" lengthAdjust="spacingAndGlyphs">LY</text>
<rect x="535.7" y="155.0" width="5.1" height="120.2" fill="#f2a69b"/>
<rect x="535.7" y="131.0" width="5.1" height="24" fill="#e64a35"/>
<rect x="541.7" y="141.9" width="6.1" height="133.3" fill="#a9deea"/>
<rect x="541.7" y="129.6" width="6.1" height="12.3" fill="#4db8d5"/>
<text x="533.00" y="287.00" font-size="8.7" fill="#222" textLength="12.40" lengthAdjust="spacingAndGlyphs">RH</text>
<rect x="551.8" y="154.2" width="5.1" height="121" fill="#f2a69b"/>
<rect x="551.8" y="131.9" width="5.1" height="22.3" fill="#e64a35"/>
<rect x="557.8" y="141.5" width="6.1" height="133.7" fill="#a9deea"/>
<rect x="557.8" y="129.6" width="6.1" height="11.9" fill="#4db8d5"/>
<text x="547.97" y="287.00" font-size="8.7" fill="#222" textLength="19.72" lengthAdjust="spacingAndGlyphs">WYS</text>
<rect x="567.9" y="154.7" width="5.1" height="120.5" fill="#f2a69b"/>
<rect x="567.9" y="131.0" width="5.1" height="23.7" fill="#e64a35"/>
<rect x="573.9" y="140.7" width="6.1" height="134.5" fill="#a9deea"/>
<rect x="573.9" y="129.1" width="6.1" height="11.6" fill="#4db8d5"/>
<text x="569.50" y="287.00" font-size="8.7" fill="#222" textLength="11.91" lengthAdjust="spacingAndGlyphs">XA</text>
<rect x="584" y="155.6" width="5.1" height="119.6" fill="#f2a69b"/>
<rect x="584" y="131.9" width="5.1" height="23.7" fill="#e64a35"/>
<rect x="590" y="141.9" width="6.1" height="133.3" fill="#a9deea"/>
<rect x="590" y="129.1" width="6.1" height="12.8" fill="#4db8d5"/>
<text x="584.40" y="287.00" font-size="8.7" fill="#222" textLength="12.53" lengthAdjust="spacingAndGlyphs">XN</text>
<rect x="600.1" y="154.7" width="5.1" height="120.5" fill="#f2a69b"/>
<rect x="600.1" y="131.4" width="5.1" height="23.3" fill="#e64a35"/>
<rect x="606.1" y="140.1" width="6.1" height="135.1" fill="#a9deea"/>
<rect x="606.1" y="129.1" width="6.1" height="11" fill="#4db8d5"/>
<text x="601.61" y="287.00" font-size="8.7" fill="#222" textLength="10.70" lengthAdjust="spacingAndGlyphs">YA</text>
<rect x="616.2" y="155.9" width="5.1" height="119.3" fill="#f2a69b"/>
<rect x="616.2" y="128.4" width="5.1" height="27.5" fill="#e64a35"/>
<rect x="622.2" y="142.8" width="6.1" height="132.4" fill="#a9deea"/>
<rect x="622.2" y="127.9" width="6.1" height="14.9" fill="#4db8d5"/>
<text x="616.93" y="287.00" font-size="8.7" fill="#222" textLength="10.09" lengthAdjust="spacingAndGlyphs">YF</text>
<rect x="632.3" y="154.9" width="5.1" height="120.3" fill="#f2a69b"/>
<rect x="632.3" y="131.9" width="5.1" height="23" fill="#e64a35"/>
<rect x="638.3" y="142.2" width="6.1" height="133" fill="#a9deea"/>
<rect x="638.3" y="129.0" width="6.1" height="13.2" fill="#4db8d5"/>
<text x="631.31" y="287.00" font-size="8.7" fill="#222" textLength="11.68" lengthAdjust="spacingAndGlyphs">YX</text>
<rect x="394.9" y="120.7" width="260.6" height="154.5" fill="none" stroke="#9a9a9a" stroke-width="1.1"/>
<text x="392.0" y="278.5" font-size="9.2" fill="#222" text-anchor="end">0</text>
<text x="392.0" y="243.7" font-size="9.2" fill="#222" text-anchor="end">5</text>
<text x="392.0" y="208.9" font-size="9.2" fill="#222" text-anchor="end">10</text>
<text x="392.0" y="174.2" font-size="9.2" fill="#222" text-anchor="end">15</text>
<text x="392.0" y="139.4" font-size="9.2" fill="#222" text-anchor="end">20</text>
<text x="657.6" y="278.5" font-size="9.2" fill="#222">0</text>
<text x="657.6" y="245.4" font-size="9.2" fill="#222">0.5</text>
<text x="657.6" y="212.4" font-size="9.2" fill="#222">1.0</text>
<text x="657.6" y="179.4" font-size="9.2" fill="#222">1.5</text>
<text x="657.6" y="146.3" font-size="9.2" fill="#222">2.0</text>
<path d="M392.4,275.2H394.4M392.4,240.4H394.4M392.4,205.6H394.4M392.4,170.9H394.4M392.4,136.1H394.4M655.5,275.2H657.4M655.5,242.1H657.4M655.5,209.1H657.4M655.5,176.1H657.4M655.5,143H657.4M412.8,275.8V277.4M428.9,275.8V277.4M445,275.8V277.4M461.1,275.8V277.4M477.2,275.8V277.4M493.3,275.8V277.4M509.4,275.8V277.4M525.5,275.8V277.4M541.6,275.8V277.4M557.7,275.8V277.4M573.8,275.8V277.4M589.9,275.8V277.4M606,275.8V277.4M622.1,275.8V277.4M638.2,275.8V277.4" stroke="#777" stroke-width="0.8"/>
<text x="499.18" y="301.70" font-size="11.6" fill="#111" textLength="52.06" lengthAdjust="spacingAndGlyphs">Accession</text>
<text transform="translate(380.5 202.5) rotate(-90) scale(0.9486 1)" x="-47.71" y="0" font-size="12.0" fill="#111">SV number (×10<tspan font-size="7.44" dy="-4.32">3</tspan><tspan dy="4.32">)</tspan></text>
<text transform="translate(682.9 198.9) rotate(-90) scale(0.9492 1)" x="-78.40" y="0" font-size="12.0" fill="#111">Short variation number (×10<tspan font-size="7.44" dy="-4.32">6</tspan><tspan dy="4.32">)</tspan></text>
<rect x="417.3" y="92.8" width="3.0" height="3.1" fill="#f2a69b"/><rect x="417.3" y="103.2" width="3.0" height="3.2" fill="#e64a35"/>
<rect x="512.8" y="92.8" width="3.2" height="3.2" fill="#a9deea"/><rect x="512.8" y="103.2" width="3.2" height="3.2" fill="#4db8d5"/>
<text x="422.08" y="96.80" font-size="9.0" fill="#222" textLength="73.45" lengthAdjust="spacingAndGlyphs">Inter-haplotype SV</text>
<text x="422.09" y="107.00" font-size="9.0" fill="#222" textLength="74.04" lengthAdjust="spacingAndGlyphs">Inter-accession SV</text>
<text x="516.48" y="96.80" font-size="9.0" fill="#222" textLength="118.30" lengthAdjust="spacingAndGlyphs">Inter-haplotype short variation</text>
<text x="516.48" y="107.00" font-size="9.0" fill="#222" textLength="119.30" lengthAdjust="spacingAndGlyphs">Inter-accession short variation</text>
<rect x="47.1" y="534.3" width="6.6" height="116.1" fill="#e5432f" stroke="#5a1a10" stroke-width="0.6"/>
<rect x="47.1" y="647.8" width="6.6" height="2.6" fill="#eba4a4" stroke="#6a3030" stroke-width="0.6"/>
<rect x="53.9" y="620" width="7.0" height="30.4" fill="#58b7dc" stroke="#2a5f70" stroke-width="0.6"/>
<text x="54.2" y="660.6" font-size="8.6" fill="#111" text-anchor="middle">1</text>
<rect x="64" y="612.4" width="6.6" height="38" fill="#e5432f" stroke="#5a1a10" stroke-width="0.6"/>
<rect x="64" y="647.8" width="6.6" height="2.6" fill="#eba4a4" stroke="#6a3030" stroke-width="0.6"/>
<rect x="70.8" y="640" width="7.0" height="10.4" fill="#58b7dc" stroke="#2a5f70" stroke-width="0.6"/>
<text x="71.1" y="660.6" font-size="8.6" fill="#111" text-anchor="middle">2</text>
<rect x="81" y="630.4" width="6.6" height="20" fill="#e5432f" stroke="#5a1a10" stroke-width="0.6"/>
<rect x="81" y="646.4" width="6.6" height="4" fill="#eba4a4" stroke="#6a3030" stroke-width="0.6"/>
<rect x="87.8" y="645.8" width="7.0" height="4.6" fill="#58b7dc" stroke="#2a5f70" stroke-width="0.6"/>
<text x="88.1" y="660.6" font-size="8.6" fill="#111" text-anchor="middle">3</text>
<rect x="98" y="635.8" width="6.6" height="14.6" fill="#e5432f" stroke="#5a1a10" stroke-width="0.6"/>
<rect x="98" y="646.4" width="6.6" height="4" fill="#eba4a4" stroke="#6a3030" stroke-width="0.6"/>
<rect x="104.8" y="646.9" width="7.0" height="3.5" fill="#58b7dc" stroke="#2a5f70" stroke-width="0.6"/>
<text x="105" y="660.6" font-size="8.6" fill="#111" text-anchor="middle">4</text>
<rect x="114.9" y="637.5" width="6.6" height="12.9" fill="#e5432f" stroke="#5a1a10" stroke-width="0.6"/>
<rect x="114.9" y="645.8" width="6.6" height="4.6" fill="#eba4a4" stroke="#6a3030" stroke-width="0.6"/>
<rect x="121.7" y="647.6" width="7.0" height="2.8" fill="#58b7dc" stroke="#2a5f70" stroke-width="0.6"/>
<text x="122" y="660.6" font-size="8.6" fill="#111" text-anchor="middle">5</text>
<rect x="131.8" y="639.8" width="6.6" height="10.6" fill="#e5432f" stroke="#5a1a10" stroke-width="0.6"/>
<rect x="131.8" y="645.8" width="6.6" height="4.6" fill="#eba4a4" stroke="#6a3030" stroke-width="0.6"/>
<rect x="138.7" y="647.6" width="7.0" height="2.8" fill="#58b7dc" stroke="#2a5f70" stroke-width="0.6"/>
<text x="139" y="660.6" font-size="8.6" fill="#111" text-anchor="middle">6</text>
<rect x="148.8" y="638.7" width="6.6" height="11.7" fill="#e5432f" stroke="#5a1a10" stroke-width="0.6"/>
<rect x="148.8" y="645.5" width="6.6" height="4.9" fill="#eba4a4" stroke="#6a3030" stroke-width="0.6"/>
<rect x="155.6" y="647.6" width="7.0" height="2.8" fill="#58b7dc" stroke="#2a5f70" stroke-width="0.6"/>
<text x="155.9" y="660.6" font-size="8.6" fill="#111" text-anchor="middle">7</text>
<rect x="165.7" y="638.7" width="6.6" height="11.7" fill="#e5432f" stroke="#5a1a10" stroke-width="0.6"/>
<rect x="165.7" y="644.7" width="6.6" height="5.7" fill="#eba4a4" stroke="#6a3030" stroke-width="0.6"/>
<rect x="172.5" y="647.4" width="7.0" height="3" fill="#58b7dc" stroke="#2a5f70" stroke-width="0.6"/>
<rect x="172.5" y="649.5" width="7.0" height="0.9" fill="#d3eef5" stroke="#5f8c96" stroke-width="0.6"/>
<text x="172.8" y="660.6" font-size="8.6" fill="#111" text-anchor="middle">8</text>
<rect x="182.7" y="637.5" width="6.6" height="12.9" fill="#e5432f" stroke="#5a1a10" stroke-width="0.6"/>
<rect x="182.7" y="643" width="6.6" height="7.4" fill="#eba4a4" stroke="#6a3030" stroke-width="0.6"/>
<rect x="189.5" y="646.9" width="7.0" height="3.5" fill="#58b7dc" stroke="#2a5f70" stroke-width="0.6"/>
<rect x="189.5" y="648.8" width="7.0" height="1.6" fill="#d3eef5" stroke="#5f8c96" stroke-width="0.6"/>
<text x="189.8" y="660.6" font-size="8.6" fill="#111" text-anchor="middle">9</text>
<rect x="199.6" y="638.1" width="6.6" height="12.3" fill="#e5432f" stroke="#5a1a10" stroke-width="0.6"/>
<rect x="199.6" y="641.8" width="6.6" height="8.6" fill="#eba4a4" stroke="#6a3030" stroke-width="0.6"/>
<rect x="206.4" y="646.5" width="7.0" height="3.9" fill="#58b7dc" stroke="#2a5f70" stroke-width="0.6"/>
<rect x="206.4" y="648.1" width="7.0" height="2.3" fill="#d3eef5" stroke="#5f8c96" stroke-width="0.6"/>
<text x="206.8" y="660.6" font-size="8.6" fill="#111" text-anchor="middle">10</text>
<rect x="216.6" y="635.8" width="6.6" height="14.6" fill="#e5432f" stroke="#5a1a10" stroke-width="0.6"/>
<rect x="216.6" y="640.4" width="6.6" height="10" fill="#eba4a4" stroke="#6a3030" stroke-width="0.6"/>
<rect x="223.4" y="644.8" width="7.0" height="5.6" fill="#58b7dc" stroke="#2a5f70" stroke-width="0.6"/>
<rect x="223.4" y="646" width="7.0" height="4.4" fill="#d3eef5" stroke="#5f8c96" stroke-width="0.6"/>
<text x="223.7" y="660.6" font-size="8.6" fill="#111" text-anchor="middle">11</text>
<rect x="233.5" y="632.4" width="6.6" height="18" fill="#e5432f" stroke="#5a1a10" stroke-width="0.6"/>
<rect x="233.5" y="635.8" width="6.6" height="14.6" fill="#eba4a4" stroke="#6a3030" stroke-width="0.6"/>
<rect x="240.3" y="640" width="7.0" height="10.4" fill="#58b7dc" stroke="#2a5f70" stroke-width="0.6"/>
<rect x="240.3" y="641.1" width="7.0" height="9.3" fill="#d3eef5" stroke="#5f8c96" stroke-width="0.6"/>
<text x="240.7" y="660.6" font-size="8.6" fill="#111" text-anchor="middle">12</text>
<rect x="250.5" y="622.5" width="6.6" height="27.9" fill="#e5432f" stroke="#5a1a10" stroke-width="0.6"/>
<rect x="250.5" y="625.8" width="6.6" height="24.6" fill="#eba4a4" stroke="#6a3030" stroke-width="0.6"/>
<rect x="257.3" y="621.2" width="7.0" height="29.2" fill="#58b7dc" stroke="#2a5f70" stroke-width="0.6"/>
<rect x="257.3" y="622.6" width="7.0" height="27.8" fill="#d3eef5" stroke="#5f8c96" stroke-width="0.6"/>
<text x="257.6" y="660.6" font-size="8.6" fill="#111" text-anchor="middle">13</text>
<rect x="267.4" y="583.2" width="6.6" height="67.2" fill="#e5432f" stroke="#5a1a10" stroke-width="0.6"/>
<rect x="267.4" y="585.8" width="6.6" height="64.6" fill="#eba4a4" stroke="#6a3030" stroke-width="0.6"/>
<rect x="274.2" y="548.6" width="7.0" height="101.8" fill="#58b7dc" stroke="#2a5f70" stroke-width="0.6"/>
<rect x="274.2" y="550.4" width="7.0" height="100" fill="#d3eef5" stroke="#5f8c96" stroke-width="0.6"/>
<text x="274.6" y="660.6" font-size="8.6" fill="#111" text-anchor="middle">14</text>
<rect x="284.4" y="508.1" width="6.6" height="142.3" fill="#e5432f" stroke="#5a1a10" stroke-width="0.6"/>
<rect x="284.4" y="510.6" width="6.6" height="139.8" fill="#eba4a4" stroke="#6a3030" stroke-width="0.6"/>
<rect x="291.2" y="495.3" width="7.0" height="155.1" fill="#58b7dc" stroke="#2a5f70" stroke-width="0.6"/>
<rect x="291.2" y="498.2" width="7.0" height="152.2" fill="#d3eef5" stroke="#5f8c96" stroke-width="0.6"/>
<text x="291.5" y="660.6" font-size="8.6" fill="#111" text-anchor="middle">15</text>
<rect x="284.8" y="519.3" width="7.6" height="1.9" fill="#fff"/>
<rect x="291.9" y="531.2" width="8.2" height="2.0" fill="#fff"/>
<path d="M41.9,480.5V650.4H304.4V480.5" stroke="#111" stroke-width="1" fill="none"/>
<path d="M41.9,650.4H44.2M41.9,621.8H44.2M41.9,593.2H44.2M41.9,564.6H44.2M41.9,536H44.2M41.9,636.1H43.3M41.9,607.5H43.3M41.9,578.9H43.3M41.9,550.3H43.3M41.9,509.5H44.2M41.9,481.3H44.2M41.9,495.4H43.3M304.4,650.4H302.1M304.4,627.2H302.1M304.4,604H302.1M304.4,580.8H302.1M304.4,557.6H302.1M304.4,638.8H303M304.4,615.6H303M304.4,592.4H303M304.4,569.2H303M304.4,506.1H302.1M304.4,481.5H302.1M304.4,518.4H303M304.4,493.8H303" stroke="#111" stroke-width="0.9"/>
<rect x="39" y="518.8" width="6" height="2.6" fill="#fff"/>
<path d="M39.2,521.2L44.6,516.6M39.2,523.8L44.6,519.2" stroke="#111" stroke-width="0.9"/>
<rect x="301.5" y="530.6" width="6" height="2.6" fill="#fff"/>
<path d="M301.7,533.4L307.1,528.8M301.7,536L307.1,531.4" stroke="#111" stroke-width="0.9"/>
<text x="39.2" y="653.5" font-size="8.8" fill="#111" text-anchor="end">0</text>
<text x="39.2" y="624.9" font-size="8.8" fill="#111" text-anchor="end">1</text>
<text x="39.2" y="596.3" font-size="8.8" fill="#111" text-anchor="end">2</text>
<text x="39.2" y="567.7" font-size="8.8" fill="#111" text-anchor="end">3</text>
<text x="39.2" y="539.1" font-size="8.8" fill="#111" text-anchor="end">4</text>
<text x="39.2" y="512.6" font-size="8.8" fill="#111" text-anchor="end">13</text>
<text x="39.2" y="484.4" font-size="8.8" fill="#111" text-anchor="end">14</text>
<text x="307.6" y="653.5" font-size="8.8" fill="#111">0</text>
<text x="307.6" y="630.3" font-size="8.8" fill="#111">0.10</text>
<text x="307.6" y="607.1" font-size="8.8" fill="#111">0.20</text>
<text x="307.6" y="583.9" font-size="8.8" fill="#111">0.30</text>
<text x="307.6" y="560.7" font-size="8.8" fill="#111">0.40</text>
<text x="307.6" y="533.8" font-size="8.8" fill="#111">1.40</text>
<text x="307.6" y="509.2" font-size="8.8" fill="#111">1.45</text>
<text x="307.6" y="484.6" font-size="8.8" fill="#111">1.50</text>
<text x="143.90" y="675.80" font-size="12.0" fill="#111" textLength="57.42" lengthAdjust="spacingAndGlyphs">Frequency</text>
<text transform="translate(23.6 568.7) rotate(-90) scale(0.9968 1)" x="-48.91" y="0" font-size="12.3" fill="#111">SV number (×10<tspan font-size="7.63" dy="-4.43">3</tspan><tspan dy="4.43">)</tspan></text>
<text transform="translate(339.7 567.1) rotate(-90) scale(0.9912 1)" x="-80.36" y="0" font-size="12.3" fill="#111">Short variation number (×10<tspan font-size="7.63" dy="-4.43">6</tspan><tspan dy="4.43">)</tspan></text>
<rect x="66.4" y="494.3" width="10.2" height="6.0" fill="#eba4a4" stroke="#6a3030" stroke-width="0.6"/>
<text x="78.96" y="500.00" font-size="8.1" fill="#111" textLength="66.57" lengthAdjust="spacingAndGlyphs">Inter-haplotype SV</text>
<rect x="66.4" y="504.3" width="10.2" height="6.0" fill="#e5432f" stroke="#5a1a10" stroke-width="0.6"/>
<text x="78.96" y="510.00" font-size="8.1" fill="#111" textLength="67.87" lengthAdjust="spacingAndGlyphs">Inter-accession SV</text>
<rect x="66.4" y="514.4" width="10.2" height="6.0" fill="#d3eef5" stroke="#5f8c96" stroke-width="0.6"/>
<text x="78.96" y="520.10" font-size="8.1" fill="#111" textLength="106.97" lengthAdjust="spacingAndGlyphs">Inter-haplotype short variation</text>
<rect x="66.4" y="524.6" width="10.2" height="6.0" fill="#58b7dc" stroke="#2a5f70" stroke-width="0.6"/>
<text x="78.96" y="530.30" font-size="8.1" fill="#111" textLength="107.86" lengthAdjust="spacingAndGlyphs">Inter-accession short variation</text>
<path d="M438.1,642.7L440,639.3L441.9,642.7ZM439.5,642.7L441.4,639.3L443.3,642.7ZM441,642.7L442.9,639.3L444.8,642.7ZM442.5,642.7L444.4,639.3L446.3,642.7ZM443.7,642.7L445.6,639.3L447.5,642.7ZM444.9,642.7L446.8,639.3L448.7,642.7ZM445.8,642.7L447.7,639.3L449.6,642.7ZM446.7,642.7L448.6,639.3L450.5,642.7ZM447.9,642.7L449.8,639.3L451.7,642.7ZM448.8,642.7L450.7,639.3L452.6,642.7ZM450.3,642.7L452.2,639.3L454.1,642.7ZM451.2,642.7L453.1,639.3L455,642.7ZM452,642.7L453.9,639.3L455.8,642.7ZM452.8,642.7L454.7,639.3L456.6,642.7ZM454.3,642.7L456.2,639.3L458.1,642.7ZM455.2,642.7L457.1,639.3L459,642.7ZM456.7,642.7L458.6,639.3L460.5,642.7ZM440.1,635.8L442,632.4L443.9,635.8ZM440.9,635.8L442.8,632.4L444.7,635.8ZM441.6,635.8L443.5,632.4L445.4,635.8ZM443,635.8L444.9,632.4L446.8,635.8ZM444.4,635.8L446.3,632.4L448.2,635.8ZM445.7,635.8L447.6,632.4L449.5,635.8ZM446.4,635.8L448.3,632.4L450.2,635.8ZM448,635.8L449.9,632.4L451.8,635.8ZM449.3,635.8L451.2,632.4L453.1,635.8ZM450.9,635.8L452.8,632.4L454.7,635.8ZM451.9,635.8L453.8,632.4L455.7,635.8ZM453.3,635.8L455.2,632.4L457.1,635.8ZM454.7,635.8L456.6,632.4L458.5,635.8ZM456.2,635.8L458.1,632.4L460,635.8ZM457.7,635.8L459.6,632.4L461.5,635.8ZM458.7,635.8L460.6,632.4L462.5,635.8ZM460.2,635.8L462.1,632.4L464,635.8ZM461.8,635.8L463.7,632.4L465.6,635.8ZM462.8,635.8L464.7,632.4L466.6,635.8ZM463.6,635.8L465.5,632.4L467.4,635.8ZM464.4,635.8L466.3,632.4L468.2,635.8ZM466,635.8L467.9,632.4L469.8,635.8ZM466.8,635.8L468.7,632.4L470.6,635.8ZM468,635.8L469.9,632.4L471.8,635.8ZM468.9,635.8L470.8,632.4L472.7,635.8ZM470.3,635.8L472.2,632.4L474.1,635.8ZM471.4,635.8L473.3,632.4L475.2,635.8ZM472.9,635.8L474.8,632.4L476.7,635.8ZM474.1,635.8L476,632.4L477.9,635.8ZM474.9,635.8L476.8,632.4L478.7,635.8ZM476.4,635.8L478.3,632.4L480.2,635.8ZM477.9,635.8L479.8,632.4L481.7,635.8ZM478.9,635.8L480.8,632.4L482.7,635.8ZM480.4,635.8L482.3,632.4L484.2,635.8ZM481.5,635.8L483.4,632.4L485.3,635.8ZM437.1,628.8L439,625.4L440.9,628.8ZM438.4,628.8L440.3,625.4L442.2,628.8ZM439.4,628.8L441.3,625.4L443.2,628.8ZM440.4,628.8L442.3,625.4L444.2,628.8ZM441.8,628.8L443.7,625.4L445.6,628.8ZM442.7,628.8L444.6,625.4L446.5,628.8ZM444,628.8L445.9,625.4L447.8,628.8ZM444.7,628.8L446.6,625.4L448.5,628.8ZM445.7,628.8L447.6,625.4L449.5,628.8ZM446.8,628.8L448.7,625.4L450.6,628.8ZM448.1,628.8L450,625.4L451.9,628.8ZM449.1,628.8L451,625.4L452.9,628.8ZM450.4,628.8L452.3,625.4L454.2,628.8ZM451.4,628.8L453.3,625.4L455.2,628.8ZM452.9,628.8L454.8,625.4L456.7,628.8ZM454.5,628.8L456.4,625.4L458.3,628.8ZM455.7,628.8L457.6,625.4L459.5,628.8ZM456.5,628.8L458.4,625.4L460.3,628.8ZM458.1,628.8L460,625.4L461.9,628.8ZM459.4,628.8L461.3,625.4L463.2,628.8ZM460.7,628.8L462.6,625.4L464.5,628.8ZM462.1,628.8L464,625.4L465.9,628.8ZM463.4,628.8L465.3,625.4L467.2,628.8ZM464.7,628.8L466.6,625.4L468.5,628.8ZM466,628.8L467.9,625.4L469.8,628.8ZM466.7,628.8L468.6,625.4L470.5,628.8ZM467.8,628.8L469.7,625.4L471.6,628.8ZM468.7,628.8L470.6,625.4L472.5,628.8ZM470,628.8L471.9,625.4L473.8,628.8ZM471.1,628.8L473,625.4L474.9,628.8ZM471.8,628.8L473.7,625.4L475.6,628.8ZM472.8,628.8L474.7,625.4L476.6,628.8ZM473.7,628.8L475.6,625.4L477.5,628.8ZM474.8,628.8L476.7,625.4L478.6,628.8ZM476.1,628.8L478,625.4L479.9,628.8ZM477,628.8L478.9,625.4L480.8,628.8ZM477.7,628.8L479.6,625.4L481.5,628.8ZM478.6,628.8L480.5,625.4L482.4,628.8ZM479.4,628.8L481.3,625.4L483.2,628.8ZM480.5,628.8L482.4,625.4L484.3,628.8ZM481.7,628.8L483.6,625.4L485.5,628.8ZM482.9,628.8L484.8,625.4L486.7,628.8ZM484.1,628.8L486,625.4L487.9,628.8ZM485.6,628.8L487.5,625.4L489.4,628.8ZM487,628.8L488.9,625.4L490.8,628.8ZM488,628.8L489.9,625.4L491.8,628.8ZM432.1,621.9L434,618.5L435.9,621.9ZM433.1,621.9L435,618.5L436.9,621.9ZM434.7,621.9L436.6,618.5L438.5,621.9ZM435.6,621.9L437.5,618.5L439.4,621.9ZM436.7,621.9L438.6,618.5L440.5,621.9ZM437.7,621.9L439.6,618.5L441.5,621.9ZM438.9,621.9L440.8,618.5L442.7,621.9ZM440,621.9L441.9,618.5L443.8,621.9ZM441.3,621.9L443.2,618.5L445.1,621.9ZM442.2,621.9L444.1,618.5L446,621.9ZM443.7,621.9L445.6,618.5L447.5,621.9ZM444.9,621.9L446.8,618.5L448.7,621.9ZM446.4,621.9L448.3,618.5L450.2,621.9ZM447.3,621.9L449.2,618.5L451.1,621.9ZM448.2,621.9L450.1,618.5L452,621.9ZM449.1,621.9L451,618.5L452.9,621.9ZM450.2,621.9L452.1,618.5L454,621.9ZM451.5,621.9L453.4,618.5L455.3,621.9ZM452.3,621.9L454.2,618.5L456.1,621.9ZM453.3,621.9L455.2,618.5L457.1,621.9ZM454.3,621.9L456.2,618.5L458.1,621.9ZM455.4,621.9L457.3,618.5L459.2,621.9ZM456.5,621.9L458.4,618.5L460.3,621.9ZM457.7,621.9L459.6,618.5L461.5,621.9ZM458.6,621.9L460.5,618.5L462.4,621.9ZM460.2,621.9L462.1,618.5L464,621.9ZM461.3,621.9L463.2,618.5L465.1,621.9ZM462.7,621.9L464.6,618.5L466.5,621.9ZM464,621.9L465.9,618.5L467.8,621.9ZM465.2,621.9L467.1,618.5L469,621.9ZM466.8,621.9L468.7,618.5L470.6,621.9ZM467.8,621.9L469.7,618.5L471.6,621.9ZM468.7,621.9L470.6,618.5L472.5,621.9ZM470.1,621.9L472,618.5L473.9,621.9ZM471.6,621.9L473.5,618.5L475.4,621.9ZM472.7,621.9L474.6,618.5L476.5,621.9ZM474.1,621.9L476,618.5L477.9,621.9ZM474.9,621.9L476.8,618.5L478.7,621.9ZM476.1,621.9L478,618.5L479.9,621.9ZM477.1,621.9L479,618.5L480.9,621.9ZM478.3,621.9L480.2,618.5L482.1,621.9ZM479.1,621.9L481,618.5L482.9,621.9ZM480.5,621.9L482.4,618.5L484.3,621.9ZM481.8,621.9L483.7,618.5L485.6,621.9ZM483.2,621.9L485.1,618.5L487,621.9ZM428.1,615L430,611.6L431.9,615ZM429.2,615L431.1,611.6L433,615ZM430.4,615L432.3,611.6L434.2,615ZM432,615L433.9,611.6L435.8,615ZM432.7,615L434.6,611.6L436.5,615ZM433.6,615L435.5,611.6L437.4,615ZM434.7,615L436.6,611.6L438.5,615ZM435.9,615L437.8,611.6L439.7,615ZM436.9,615L438.8,611.6L440.7,615ZM437.8,615L439.7,611.6L441.6,615ZM438.9,615L440.8,611.6L442.7,615ZM439.9,615L441.8,611.6L443.7,615ZM441.2,615L443.1,611.6L445,615ZM442.6,615L444.5,611.6L446.4,615ZM443.3,615L445.2,611.6L447.1,615ZM444.1,615L446,611.6L447.9,615ZM445.4,615L447.3,611.6L449.2,615ZM446.8,615L448.7,611.6L450.6,615ZM447.8,615L449.7,611.6L451.6,615ZM448.6,615L450.5,611.6L452.4,615ZM449.3,615L451.2,611.6L453.1,615ZM450.9,615L452.8,611.6L454.7,615ZM451.8,615L453.7,611.6L455.6,615ZM453.3,615L455.2,611.6L457.1,615ZM454.8,615L456.7,611.6L458.6,615ZM456,615L457.9,611.6L459.8,615ZM457,615L458.9,611.6L460.8,615ZM458.2,615L460.1,611.6L462,615ZM459.3,615L461.2,611.6L463.1,615ZM460.7,615L462.6,611.6L464.5,615ZM462.1,615L464,611.6L465.9,615ZM463.6,615L465.5,611.6L467.4,615ZM464.8,615L466.7,611.6L468.6,615ZM466.2,615L468.1,611.6L470,615ZM467,615L468.9,611.6L470.8,615ZM467.9,615L469.8,611.6L471.7,615ZM469.4,615L471.3,611.6L473.2,615ZM470.7,615L472.6,611.6L474.5,615ZM471.9,615L473.8,611.6L475.7,615ZM473.1,615L475,611.6L476.9,615ZM474.2,615L476.1,611.6L478,615ZM475.1,615L477,611.6L478.9,615ZM476.1,615L478,611.6L479.9,615ZM477.6,615L479.5,611.6L481.4,615ZM478.5,615L480.4,611.6L482.3,615ZM479.4,615L481.3,611.6L483.2,615ZM480.3,615L482.2,611.6L484.1,615ZM481,615L482.9,611.6L484.8,615ZM482.1,615L484,611.6L485.9,615ZM483.4,615L485.3,611.6L487.2,615ZM484.5,615L486.4,611.6L488.3,615ZM485.3,615L487.2,611.6L489.1,615ZM486.3,615L488.2,611.6L490.1,615ZM487.6,615L489.5,611.6L491.4,615ZM488.5,615L490.4,611.6L492.3,615ZM489.4,615L491.3,611.6L493.2,615ZM491.5,615L493.4,611.6L495.3,615ZM492.6,615L494.5,611.6L496.4,615ZM494,615L495.9,611.6L497.8,615ZM494.8,615L496.7,611.6L498.6,615ZM496.1,615L498,611.6L499.9,615ZM497.4,615L499.3,611.6L501.2,615ZM499,615L500.9,611.6L502.8,615ZM499.8,615L501.7,611.6L503.6,615ZM500.8,615L502.7,611.6L504.6,615ZM426.1,608.1L428,604.7L429.9,608.1ZM426.9,608.1L428.8,604.7L430.7,608.1ZM428.4,608.1L430.3,604.7L432.2,608.1ZM429.9,608.1L431.8,604.7L433.7,608.1ZM430.6,608.1L432.5,604.7L434.4,608.1ZM431.8,608.1L433.7,604.7L435.6,608.1ZM432.8,608.1L434.7,604.7L436.6,608.1ZM434.1,608.1L436,604.7L437.9,608.1ZM435.1,608.1L437,604.7L438.9,608.1ZM436.6,608.1L438.5,604.7L440.4,608.1ZM437.4,608.1L439.3,604.7L441.2,608.1ZM438.1,608.1L440,604.7L441.9,608.1ZM439.6,608.1L441.5,604.7L443.4,608.1ZM440.4,608.1L442.3,604.7L444.2,608.1ZM441.3,608.1L443.2,604.7L445.1,608.1ZM442.4,608.1L444.3,604.7L446.2,608.1ZM443.3,608.1L445.2,604.7L447.1,608.1ZM444.7,608.1L446.6,604.7L448.5,608.1ZM445.5,608.1L447.4,604.7L449.3,608.1ZM446.6,608.1L448.5,604.7L450.4,608.1ZM447.7,608.1L449.6,604.7L451.5,608.1ZM449,608.1L450.9,604.7L452.8,608.1ZM450.5,608.1L452.4,604.7L454.3,608.1ZM451.9,608.1L453.8,604.7L455.7,608.1ZM453,608.1L454.9,604.7L456.8,608.1ZM454.3,608.1L456.2,604.7L458.1,608.1ZM455.7,608.1L457.6,604.7L459.5,608.1ZM456.6,608.1L458.5,604.7L460.4,608.1ZM457.6,608.1L459.5,604.7L461.4,608.1ZM458.4,608.1L460.3,604.7L462.2,608.1ZM459.3,608.1L461.2,604.7L463.1,608.1ZM460.3,608.1L462.2,604.7L464.1,608.1ZM461.7,608.1L463.6,604.7L465.5,608.1ZM462.4,608.1L464.3,604.7L466.2,608.1ZM463.2,608.1L465.1,604.7L467,608.1ZM464.7,608.1L466.6,604.7L468.5,608.1ZM466,608.1L467.9,604.7L469.8,608.1ZM467,608.1L468.9,604.7L470.8,608.1ZM468,608.1L469.9,604.7L471.8,608.1ZM469.3,608.1L471.2,604.7L473.1,608.1ZM470.6,608.1L472.5,604.7L474.4,608.1ZM471.8,608.1L473.7,604.7L475.6,608.1ZM473.1,608.1L475,604.7L476.9,608.1ZM474.7,608.1L476.6,604.7L478.5,608.1ZM475.5,608.1L477.4,604.7L479.3,608.1ZM477,608.1L478.9,604.7L480.8,608.1ZM478.1,608.1L480,604.7L481.9,608.1ZM479.5,608.1L481.4,604.7L483.3,608.1ZM480.7,608.1L482.6,604.7L484.5,608.1ZM481.9,608.1L483.8,604.7L485.7,608.1ZM483.3,608.1L485.2,604.7L487.1,608.1ZM484.8,608.1L486.7,604.7L488.6,608.1ZM485.9,608.1L487.8,604.7L489.7,608.1ZM487,608.1L488.9,604.7L490.8,608.1ZM488,608.1L489.9,604.7L491.8,608.1ZM489.2,608.1L491.1,604.7L493,608.1ZM490.5,608.1L492.4,604.7L494.3,608.1ZM491.6,608.1L493.5,604.7L495.4,608.1ZM493.1,608.1L495,604.7L496.9,608.1ZM426.1,601.1L428,597.7L429.9,601.1ZM427.1,601.1L429,597.7L430.9,601.1ZM428.3,601.1L430.2,597.7L432.1,601.1ZM429.2,601.1L431.1,597.7L433,601.1ZM430.2,601.1L432.1,597.7L434,601.1ZM431.1,601.1L433,597.7L434.9,601.1ZM432.3,601.1L434.2,597.7L436.1,601.1ZM434.8,601.1L436.7,597.7L438.6,601.1ZM436.1,601.1L438,597.7L439.9,601.1ZM437.3,601.1L439.2,597.7L441.1,601.1ZM438.3,601.1L440.2,597.7L442.1,601.1ZM439.6,601.1L441.5,597.7L443.4,601.1ZM440.6,601.1L442.5,597.7L444.4,601.1ZM441.3,601.1L443.2,597.7L445.1,601.1ZM442.6,601.1L444.5,597.7L446.4,601.1ZM443.9,601.1L445.8,597.7L447.7,601.1ZM445.4,601.1L447.3,597.7L449.2,601.1ZM446.8,601.1L448.7,597.7L450.6,601.1ZM448.2,601.1L450.1,597.7L452,601.1ZM449.7,601.1L451.6,597.7L453.5,601.1ZM451,601.1L452.9,597.7L454.8,601.1ZM452.4,601.1L454.3,597.7L456.2,601.1ZM453.3,601.1L455.2,597.7L457.1,601.1ZM454.8,601.1L456.7,597.7L458.6,601.1ZM456.4,601.1L458.3,597.7L460.2,601.1ZM457.4,601.1L459.3,597.7L461.2,601.1ZM458.5,601.1L460.4,597.7L462.3,601.1ZM459.8,601.1L461.7,597.7L463.6,601.1ZM461.3,601.1L463.2,597.7L465.1,601.1ZM462.3,601.1L464.2,597.7L466.1,601.1ZM463.7,601.1L465.6,597.7L467.5,601.1ZM465,601.1L466.9,597.7L468.8,601.1ZM466.5,601.1L468.4,597.7L470.3,601.1ZM467.5,601.1L469.4,597.7L471.3,601.1ZM468.7,601.1L470.6,597.7L472.5,601.1ZM469.6,601.1L471.5,597.7L473.4,601.1ZM471,601.1L472.9,597.7L474.8,601.1ZM471.7,601.1L473.6,597.7L475.5,601.1ZM473.2,601.1L475.1,597.7L477,601.1ZM474.5,601.1L476.4,597.7L478.3,601.1ZM475.6,601.1L477.5,597.7L479.4,601.1ZM477.1,601.1L479,597.7L480.9,601.1ZM478.1,601.1L480,597.7L481.9,601.1ZM479.6,601.1L481.5,597.7L483.4,601.1ZM480.4,601.1L482.3,597.7L484.2,601.1ZM481.6,601.1L483.5,597.7L485.4,601.1ZM482.4,601.1L484.3,597.7L486.2,601.1ZM483.7,601.1L485.6,597.7L487.5,601.1ZM485,601.1L486.9,597.7L488.8,601.1ZM485.8,601.1L487.7,597.7L489.6,601.1ZM487.2,601.1L489.1,597.7L491,601.1ZM488.2,601.1L490.1,597.7L492,601.1ZM489.5,601.1L491.4,597.7L493.3,601.1ZM490.4,601.1L492.3,597.7L494.2,601.1ZM491.8,601.1L493.7,597.7L495.6,601.1ZM492.6,601.1L494.5,597.7L496.4,601.1ZM493.5,601.1L495.4,597.7L497.3,601.1ZM494.3,601.1L496.2,597.7L498.1,601.1ZM495.1,601.1L497,597.7L498.9,601.1ZM496.5,601.1L498.4,597.7L500.3,601.1ZM497.9,601.1L499.8,597.7L501.7,601.1ZM499.4,601.1L501.3,597.7L503.2,601.1ZM500.7,601.1L502.6,597.7L504.5,601.1ZM501.5,601.1L503.4,597.7L505.3,601.1ZM502.2,601.1L504.1,597.7L506,601.1ZM503.3,601.1L505.2,597.7L507.1,601.1ZM504.6,601.1L506.5,597.7L508.4,601.1ZM505.4,601.1L507.3,597.7L509.2,601.1ZM506.5,601.1L508.4,597.7L510.3,601.1ZM426.1,594.2L428,590.8L429.9,594.2ZM427.2,594.2L429.1,590.8L431,594.2ZM428.6,594.2L430.5,590.8L432.4,594.2ZM429.6,594.2L431.5,590.8L433.4,594.2ZM430.8,594.2L432.7,590.8L434.6,594.2ZM432.2,594.2L434.1,590.8L436,594.2ZM433.2,594.2L435.1,590.8L437,594.2ZM434.6,594.2L436.5,590.8L438.4,594.2ZM435.4,594.2L437.3,590.8L439.2,594.2ZM436.3,594.2L438.2,590.8L440.1,594.2ZM437.1,594.2L439,590.8L440.9,594.2ZM437.8,594.2L439.7,590.8L441.6,594.2ZM439.4,594.2L441.3,590.8L443.2,594.2ZM440.5,594.2L442.4,590.8L444.3,594.2ZM441.3,594.2L443.2,590.8L445.1,594.2ZM442.7,594.2L444.6,590.8L446.5,594.2ZM444.1,594.2L446,590.8L447.9,594.2ZM444.8,594.2L446.7,590.8L448.6,594.2ZM445.9,594.2L447.8,590.8L449.7,594.2ZM447.1,594.2L449,590.8L450.9,594.2ZM449.1,594.2L451,590.8L452.9,594.2ZM449.8,594.2L451.7,590.8L453.6,594.2ZM451.4,594.2L453.3,590.8L455.2,594.2ZM452.6,594.2L454.5,590.8L456.4,594.2ZM453.6,594.2L455.5,590.8L457.4,594.2ZM454.7,594.2L456.6,590.8L458.5,594.2ZM456.2,594.2L458.1,590.8L460,594.2ZM457.5,594.2L459.4,590.8L461.3,594.2ZM458.2,594.2L460.1,590.8L462,594.2ZM459.3,594.2L461.2,590.8L463.1,594.2ZM460.7,594.2L462.6,590.8L464.5,594.2ZM463.1,594.2L465,590.8L466.9,594.2ZM464,594.2L465.9,590.8L467.8,594.2ZM466.6,594.2L468.5,590.8L470.4,594.2ZM467.7,594.2L469.6,590.8L471.5,594.2ZM468.9,594.2L470.8,590.8L472.7,594.2ZM470.2,594.2L472.1,590.8L474,594.2ZM471,594.2L472.9,590.8L474.8,594.2ZM471.8,594.2L473.7,590.8L475.6,594.2ZM473.3,594.2L475.2,590.8L477.1,594.2ZM474.2,594.2L476.1,590.8L478,594.2ZM475.6,594.2L477.5,590.8L479.4,594.2ZM476.8,594.2L478.7,590.8L480.6,594.2ZM477.8,594.2L479.7,590.8L481.6,594.2ZM479.3,594.2L481.2,590.8L483.1,594.2ZM480.2,594.2L482.1,590.8L484,594.2ZM481.1,594.2L483,590.8L484.9,594.2ZM482.1,594.2L484,590.8L485.9,594.2ZM483,594.2L484.9,590.8L486.8,594.2ZM484.6,594.2L486.5,590.8L488.4,594.2ZM485.3,594.2L487.2,590.8L489.1,594.2ZM486.6,594.2L488.5,590.8L490.4,594.2ZM487.6,594.2L489.5,590.8L491.4,594.2ZM488.9,594.2L490.8,590.8L492.7,594.2ZM489.8,594.2L491.7,590.8L493.6,594.2ZM490.7,594.2L492.6,590.8L494.5,594.2ZM492.1,594.2L494,590.8L495.9,594.2ZM493.2,594.2L495.1,590.8L497,594.2ZM493.9,594.2L495.8,590.8L497.7,594.2ZM495,594.2L496.9,590.8L498.8,594.2ZM496.2,594.2L498.1,590.8L500,594.2ZM497,594.2L498.9,590.8L500.8,594.2ZM497.7,594.2L499.6,590.8L501.5,594.2ZM498.7,594.2L500.6,590.8L502.5,594.2ZM499.7,594.2L501.6,590.8L503.5,594.2ZM501,594.2L502.9,590.8L504.8,594.2ZM502,594.2L503.9,590.8L505.8,594.2ZM503.4,594.2L505.3,590.8L507.2,594.2ZM505.9,594.2L507.8,590.8L509.7,594.2ZM507.4,594.2L509.3,590.8L511.2,594.2ZM508.5,594.2L510.4,590.8L512.3,594.2ZM509.7,594.2L511.6,590.8L513.5,594.2ZM511.3,594.2L513.2,590.8L515.1,594.2ZM512.4,594.2L514.3,590.8L516.2,594.2ZM513.3,594.2L515.2,590.8L517.1,594.2ZM426.1,587.3L428,583.9L429.9,587.3ZM427.4,587.3L429.3,583.9L431.2,587.3ZM428.6,587.3L430.5,583.9L432.4,587.3ZM429.6,587.3L431.5,583.9L433.4,587.3ZM430.7,587.3L432.6,583.9L434.5,587.3ZM431.5,587.3L433.4,583.9L435.3,587.3ZM432.3,587.3L434.2,583.9L436.1,587.3ZM433.5,587.3L435.4,583.9L437.3,587.3ZM434.2,587.3L436.1,583.9L438,587.3ZM435.4,587.3L437.3,583.9L439.2,587.3ZM436.1,587.3L438,583.9L439.9,587.3ZM436.9,587.3L438.8,583.9L440.7,587.3ZM438.1,587.3L440,583.9L441.9,587.3ZM439,587.3L440.9,583.9L442.8,587.3ZM439.8,587.3L441.7,583.9L443.6,587.3ZM441.2,587.3L443.1,583.9L445,587.3ZM441.9,587.3L443.8,583.9L445.7,587.3ZM443.2,587.3L445.1,583.9L447,587.3ZM444.6,587.3L446.5,583.9L448.4,587.3ZM445.8,587.3L447.7,583.9L449.6,587.3ZM446.6,587.3L448.5,583.9L450.4,587.3ZM447.6,587.3L449.5,583.9L451.4,587.3ZM448.3,587.3L450.2,583.9L452.1,587.3ZM449.4,587.3L451.3,583.9L453.2,587.3ZM450.6,587.3L452.5,583.9L454.4,587.3ZM451.5,587.3L453.4,583.9L455.3,587.3ZM453,587.3L454.9,583.9L456.8,587.3ZM453.8,587.3L455.7,583.9L457.6,587.3ZM454.6,587.3L456.5,583.9L458.4,587.3ZM455.8,587.3L457.7,583.9L459.6,587.3ZM456.7,587.3L458.6,583.9L460.5,587.3ZM457.8,587.3L459.7,583.9L461.6,587.3ZM458.9,587.3L460.8,583.9L462.7,587.3ZM460.4,587.3L462.3,583.9L464.2,587.3ZM461.4,587.3L463.3,583.9L465.2,587.3ZM462.6,587.3L464.5,583.9L466.4,587.3ZM463.8,587.3L465.7,583.9L467.6,587.3ZM464.8,587.3L466.7,583.9L468.6,587.3ZM466.3,587.3L468.2,583.9L470.1,587.3ZM467.1,587.3L469,583.9L470.9,587.3ZM468.1,587.3L470,583.9L471.9,587.3ZM469,587.3L470.9,583.9L472.8,587.3ZM471.1,587.3L473,583.9L474.9,587.3ZM472.1,587.3L474,583.9L475.9,587.3ZM473.4,587.3L475.3,583.9L477.2,587.3ZM474.6,587.3L476.5,583.9L478.4,587.3ZM476.2,587.3L478.1,583.9L480,587.3ZM477.5,587.3L479.4,583.9L481.3,587.3ZM478.4,587.3L480.3,583.9L482.2,587.3ZM479.4,587.3L481.3,583.9L483.2,587.3ZM480.2,587.3L482.1,583.9L484,587.3ZM481.2,587.3L483.1,583.9L485,587.3ZM482,587.3L483.9,583.9L485.8,587.3ZM482.9,587.3L484.8,583.9L486.7,587.3ZM484.3,587.3L486.2,583.9L488.1,587.3ZM485.4,587.3L487.3,583.9L489.2,587.3ZM486.5,587.3L488.4,583.9L490.3,587.3ZM487.2,587.3L489.1,583.9L491,587.3ZM488.2,587.3L490.1,583.9L492,587.3ZM489.3,587.3L491.2,583.9L493.1,587.3ZM490.9,587.3L492.8,583.9L494.7,587.3ZM491.7,587.3L493.6,583.9L495.5,587.3ZM492.5,587.3L494.4,583.9L496.3,587.3ZM494.5,587.3L496.4,583.9L498.3,587.3ZM495.4,587.3L497.3,583.9L499.2,587.3ZM497,587.3L498.9,583.9L500.8,587.3ZM497.9,587.3L499.8,583.9L501.7,587.3ZM499.4,587.3L501.3,583.9L503.2,587.3ZM500.7,587.3L502.6,583.9L504.5,587.3ZM501.6,587.3L503.5,583.9L505.4,587.3ZM502.8,587.3L504.7,583.9L506.6,587.3ZM503.6,587.3L505.5,583.9L507.4,587.3ZM504.7,587.3L506.6,583.9L508.5,587.3ZM506.2,587.3L508.1,583.9L510,587.3ZM507.4,587.3L509.3,583.9L511.2,587.3ZM508.7,587.3L510.6,583.9L512.5,587.3ZM509.9,587.3L511.8,583.9L513.7,587.3ZM511.1,587.3L513,583.9L514.9,587.3ZM512,587.3L513.9,583.9L515.8,587.3ZM513.3,587.3L515.2,583.9L517.1,587.3ZM427.1,580.3L429,576.9L430.9,580.3ZM428.1,580.3L430,576.9L431.9,580.3ZM429.5,580.3L431.4,576.9L433.3,580.3ZM430.9,580.3L432.8,576.9L434.7,580.3ZM432.1,580.3L434,576.9L435.9,580.3ZM433.2,580.3L435.1,576.9L437,580.3ZM434.8,580.3L436.7,576.9L438.6,580.3ZM435.8,580.3L437.7,576.9L439.6,580.3ZM436.6,580.3L438.5,576.9L440.4,580.3ZM438.5,580.3L440.4,576.9L442.3,580.3ZM439.8,580.3L441.7,576.9L443.6,580.3ZM441.5,580.3L443.4,576.9L445.3,580.3ZM442.8,580.3L444.7,576.9L446.6,580.3ZM444.3,580.3L446.2,576.9L448.1,580.3ZM445.3,580.3L447.2,576.9L449.1,580.3ZM446.4,580.3L448.3,576.9L450.2,580.3ZM447.7,580.3L449.6,576.9L451.5,580.3ZM448.5,580.3L450.4,576.9L452.3,580.3ZM449.2,580.3L451.1,576.9L453,580.3ZM450.6,580.3L452.5,576.9L454.4,580.3ZM451.4,580.3L453.3,576.9L455.2,580.3ZM452.5,580.3L454.4,576.9L456.3,580.3ZM454.8,580.3L456.7,576.9L458.6,580.3ZM456.3,580.3L458.2,576.9L460.1,580.3ZM457.3,580.3L459.2,576.9L461.1,580.3ZM458.2,580.3L460.1,576.9L462,580.3ZM459,580.3L460.9,576.9L462.8,580.3ZM460.2,580.3L462.1,576.9L464,580.3ZM461.3,580.3L463.2,576.9L465.1,580.3ZM462.3,580.3L464.2,576.9L466.1,580.3ZM463.3,580.3L465.2,576.9L467.1,580.3ZM464.7,580.3L466.6,576.9L468.5,580.3ZM466,580.3L467.9,576.9L469.8,580.3ZM467,580.3L468.9,576.9L470.8,580.3ZM467.8,580.3L469.7,576.9L471.6,580.3ZM468.5,580.3L470.4,576.9L472.3,580.3ZM469.3,580.3L471.2,576.9L473.1,580.3ZM470.4,580.3L472.3,576.9L474.2,580.3ZM471.5,580.3L473.4,576.9L475.3,580.3ZM472.3,580.3L474.2,576.9L476.1,580.3ZM473.7,580.3L475.6,576.9L477.5,580.3ZM475.1,580.3L477,576.9L478.9,580.3ZM476.5,580.3L478.4,576.9L480.3,580.3ZM477.7,580.3L479.6,576.9L481.5,580.3ZM480.1,580.3L482,576.9L483.9,580.3ZM481.1,580.3L483,576.9L484.9,580.3ZM482.1,580.3L484,576.9L485.9,580.3ZM483,580.3L484.9,576.9L486.8,580.3ZM484.1,580.3L486,576.9L487.9,580.3ZM485.5,580.3L487.4,576.9L489.3,580.3ZM487.8,580.3L489.7,576.9L491.6,580.3ZM488.7,580.3L490.6,576.9L492.5,580.3ZM489.8,580.3L491.7,576.9L493.6,580.3ZM490.5,580.3L492.4,576.9L494.3,580.3ZM491.9,580.3L493.8,576.9L495.7,580.3ZM493.4,580.3L495.3,576.9L497.2,580.3ZM494.8,580.3L496.7,576.9L498.6,580.3ZM496.3,580.3L498.2,576.9L500.1,580.3ZM497.4,580.3L499.3,576.9L501.2,580.3ZM498.7,580.3L500.6,576.9L502.5,580.3ZM500,580.3L501.9,576.9L503.8,580.3ZM500.9,580.3L502.8,576.9L504.7,580.3ZM501.8,580.3L503.7,576.9L505.6,580.3ZM503.2,580.3L505.1,576.9L507,580.3ZM504.4,580.3L506.3,576.9L508.2,580.3ZM505.4,580.3L507.3,576.9L509.2,580.3ZM506.7,580.3L508.6,576.9L510.5,580.3ZM507.5,580.3L509.4,576.9L511.3,580.3ZM508.2,580.3L510.1,576.9L512,580.3ZM509.3,580.3L511.2,576.9L513.1,580.3ZM510,580.3L511.9,576.9L513.8,580.3ZM511.6,580.3L513.5,576.9L515.4,580.3ZM513.3,580.3L515.2,576.9L517.1,580.3ZM514,580.3L515.9,576.9L517.8,580.3ZM515.3,580.3L517.2,576.9L519.1,580.3ZM516.4,580.3L518.3,576.9L520.2,580.3ZM518.8,580.3L520.7,576.9L522.6,580.3ZM519.6,580.3L521.5,576.9L523.4,580.3ZM520.7,580.3L522.6,576.9L524.5,580.3ZM521.6,580.3L523.5,576.9L525.4,580.3ZM523,580.3L524.9,576.9L526.8,580.3ZM524.2,580.3L526.1,576.9L528,580.3ZM525.5,580.3L527.4,576.9L529.3,580.3ZM526.3,580.3L528.2,576.9L530.1,580.3ZM428.1,573.4L430,570L431.9,573.4ZM430.6,573.4L432.5,570L434.4,573.4ZM431.8,573.4L433.7,570L435.6,573.4ZM432.9,573.4L434.8,570L436.7,573.4ZM433.9,573.4L435.8,570L437.7,573.4ZM434.6,573.4L436.5,570L438.4,573.4ZM435.5,573.4L437.4,570L439.3,573.4ZM436.3,573.4L438.2,570L440.1,573.4ZM437.9,573.4L439.8,570L441.7,573.4ZM438.6,573.4L440.5,570L442.4,573.4ZM440.2,573.4L442.1,570L444,573.4ZM441.2,573.4L443.1,570L445,573.4ZM442.5,573.4L444.4,570L446.3,573.4ZM444.3,573.4L446.2,570L448.1,573.4ZM446.2,573.4L448.1,570L450,573.4ZM447.1,573.4L449,570L450.9,573.4ZM448.6,573.4L450.5,570L452.4,573.4ZM449.6,573.4L451.5,570L453.4,573.4ZM451,573.4L452.9,570L454.8,573.4ZM452.1,573.4L454,570L455.9,573.4ZM453.4,573.4L455.3,570L457.2,573.4ZM454.5,573.4L456.4,570L458.3,573.4ZM456.6,573.4L458.5,570L460.4,573.4ZM457.8,573.4L459.7,570L461.6,573.4ZM458.7,573.4L460.6,570L462.5,573.4ZM460,573.4L461.9,570L463.8,573.4ZM460.8,573.4L462.7,570L464.6,573.4ZM462.3,573.4L464.2,570L466.1,573.4ZM463.1,573.4L465,570L466.9,573.4ZM464.1,573.4L466,570L467.9,573.4ZM464.8,573.4L466.7,570L468.6,573.4ZM465.6,573.4L467.5,570L469.4,573.4ZM467,573.4L468.9,570L470.8,573.4ZM468.4,573.4L470.3,570L472.2,573.4ZM469.7,573.4L471.6,570L473.5,573.4ZM470.5,573.4L472.4,570L474.3,573.4ZM471.5,573.4L473.4,570L475.3,573.4ZM473.4,573.4L475.3,570L477.2,573.4ZM477.6,573.4L479.5,570L481.4,573.4ZM478.9,573.4L480.8,570L482.7,573.4ZM480,573.4L481.9,570L483.8,573.4ZM480.9,573.4L482.8,570L484.7,573.4ZM482.4,573.4L484.3,570L486.2,573.4ZM483.4,573.4L485.3,570L487.2,573.4ZM484.5,573.4L486.4,570L488.3,573.4ZM485.6,573.4L487.5,570L489.4,573.4ZM486.3,573.4L488.2,570L490.1,573.4ZM487.6,573.4L489.5,570L491.4,573.4ZM488.7,573.4L490.6,570L492.5,573.4ZM491.3,573.4L493.2,570L495.1,573.4ZM492.3,573.4L494.2,570L496.1,573.4ZM493.9,573.4L495.8,570L497.7,573.4ZM494.8,573.4L496.7,570L498.6,573.4ZM495.6,573.4L497.5,570L499.4,573.4ZM497.2,573.4L499.1,570L501,573.4ZM498.1,573.4L500,570L501.9,573.4ZM498.8,573.4L500.7,570L502.6,573.4ZM500.6,573.4L502.5,570L504.4,573.4ZM501.4,573.4L503.3,570L505.2,573.4ZM503,573.4L504.9,570L506.8,573.4ZM504.5,573.4L506.4,570L508.3,573.4ZM505.9,573.4L507.8,570L509.7,573.4ZM506.8,573.4L508.7,570L510.6,573.4ZM507.5,573.4L509.4,570L511.3,573.4ZM508.9,573.4L510.8,570L512.7,573.4ZM509.6,573.4L511.5,570L513.4,573.4ZM512.4,573.4L514.3,570L516.2,573.4ZM513.9,573.4L515.8,570L517.7,573.4ZM515,573.4L516.9,570L518.8,573.4ZM515.9,573.4L517.8,570L519.7,573.4ZM516.9,573.4L518.8,570L520.7,573.4ZM517.7,573.4L519.6,570L521.5,573.4ZM518.6,573.4L520.5,570L522.4,573.4ZM520.2,573.4L522.1,570L524,573.4ZM521.6,573.4L523.5,570L525.4,573.4ZM522.9,573.4L524.8,570L526.7,573.4ZM523.9,573.4L525.8,570L527.7,573.4ZM526.6,573.4L528.5,570L530.4,573.4ZM527.4,573.4L529.3,570L531.2,573.4ZM528.7,573.4L530.6,570L532.5,573.4ZM529.4,573.4L531.3,570L533.2,573.4ZM428.1,566.5L430,563.1L431.9,566.5ZM429.5,566.5L431.4,563.1L433.3,566.5ZM431,566.5L432.9,563.1L434.8,566.5ZM433.6,566.5L435.5,563.1L437.4,566.5ZM435.1,566.5L437,563.1L438.9,566.5ZM436.4,566.5L438.3,563.1L440.2,566.5ZM437.3,566.5L439.2,563.1L441.1,566.5ZM438.4,566.5L440.3,563.1L442.2,566.5ZM439.8,566.5L441.7,563.1L443.6,566.5ZM440.9,566.5L442.8,563.1L444.7,566.5ZM442.4,566.5L444.3,563.1L446.2,566.5ZM443.6,566.5L445.5,563.1L447.4,566.5ZM444.9,566.5L446.8,563.1L448.7,566.5ZM445.8,566.5L447.7,563.1L449.6,566.5ZM447.1,566.5L449,563.1L450.9,566.5ZM447.9,566.5L449.8,563.1L451.7,566.5ZM449.1,566.5L451,563.1L452.9,566.5ZM450.6,566.5L452.5,563.1L454.4,566.5ZM451.6,566.5L453.5,563.1L455.4,566.5ZM452.5,566.5L454.4,563.1L456.3,566.5ZM454.4,566.5L456.3,563.1L458.2,566.5ZM455.7,566.5L457.6,563.1L459.5,566.5ZM456.4,566.5L458.3,563.1L460.2,566.5ZM458.4,566.5L460.3,563.1L462.2,566.5ZM459.6,566.5L461.5,563.1L463.4,566.5ZM460.4,566.5L462.3,563.1L464.2,566.5ZM461.8,566.5L463.7,563.1L465.6,566.5ZM464.5,566.5L466.4,563.1L468.3,566.5ZM465.2,566.5L467.1,563.1L469,566.5ZM466.5,566.5L468.4,563.1L470.3,566.5ZM467.9,566.5L469.8,563.1L471.7,566.5ZM469.1,566.5L471,563.1L472.9,566.5ZM473.1,566.5L475,563.1L476.9,566.5ZM474.3,566.5L476.2,563.1L478.1,566.5ZM476,566.5L477.9,563.1L479.8,566.5ZM478.6,566.5L480.5,563.1L482.4,566.5ZM480.1,566.5L482,563.1L483.9,566.5ZM483.9,566.5L485.8,563.1L487.7,566.5ZM485.3,566.5L487.2,563.1L489.1,566.5ZM487.9,566.5L489.8,563.1L491.7,566.5ZM489.1,566.5L491,563.1L492.9,566.5ZM492.6,566.5L494.5,563.1L496.4,566.5ZM495.5,566.5L497.4,563.1L499.3,566.5ZM496.9,566.5L498.8,563.1L500.7,566.5ZM498.2,566.5L500.1,563.1L502,566.5ZM501.2,566.5L503.1,563.1L505,566.5ZM502.4,566.5L504.3,563.1L506.2,566.5ZM503.6,566.5L505.5,563.1L507.4,566.5ZM505.1,566.5L507,563.1L508.9,566.5ZM506.3,566.5L508.2,563.1L510.1,566.5ZM508.1,566.5L510,563.1L511.9,566.5ZM509.5,566.5L511.4,563.1L513.3,566.5ZM510.8,566.5L512.7,563.1L514.6,566.5ZM512.3,566.5L514.2,563.1L516.1,566.5ZM513.3,566.5L515.2,563.1L517.1,566.5ZM514.4,566.5L516.3,563.1L518.2,566.5ZM515.2,566.5L517.1,563.1L519,566.5ZM431.2,559.5L433.1,556.1L435,559.5ZM432.4,559.5L434.3,556.1L436.2,559.5ZM434,559.5L435.9,556.1L437.8,559.5ZM435.4,559.5L437.3,556.1L439.2,559.5ZM436.9,559.5L438.8,556.1L440.7,559.5ZM438.5,559.5L440.4,556.1L442.3,559.5ZM440,559.5L441.9,556.1L443.8,559.5ZM440.7,559.5L442.6,556.1L444.5,559.5ZM444.3,559.5L446.2,556.1L448.1,559.5ZM447,559.5L448.9,556.1L450.8,559.5ZM449.5,559.5L451.4,556.1L453.3,559.5ZM450.6,559.5L452.5,556.1L454.4,559.5ZM451.7,559.5L453.6,556.1L455.5,559.5ZM453.3,559.5L455.2,556.1L457.1,559.5ZM455.2,559.5L457.1,556.1L459,559.5ZM456,559.5L457.9,556.1L459.8,559.5ZM460,559.5L461.9,556.1L463.8,559.5ZM461.1,559.5L463,556.1L464.9,559.5ZM461.8,559.5L463.7,556.1L465.6,559.5ZM462.9,559.5L464.8,556.1L466.7,559.5ZM464.2,559.5L466.1,556.1L468,559.5ZM465.1,559.5L467,556.1L468.9,559.5ZM466.2,559.5L468.1,556.1L470,559.5ZM467.7,559.5L469.6,556.1L471.5,559.5ZM468.4,559.5L470.3,556.1L472.2,559.5ZM473.9,559.5L475.8,556.1L477.7,559.5ZM476.3,559.5L478.2,556.1L480.1,559.5ZM477,559.5L478.9,556.1L480.8,559.5ZM477.9,559.5L479.8,556.1L481.7,559.5ZM482.8,559.5L484.7,556.1L486.6,559.5ZM484.3,559.5L486.2,556.1L488.1,559.5ZM485.9,559.5L487.8,556.1L489.7,559.5ZM489.8,559.5L491.7,556.1L493.6,559.5ZM492.4,559.5L494.3,556.1L496.2,559.5ZM493.4,559.5L495.3,556.1L497.2,559.5ZM494.2,559.5L496.1,556.1L498,559.5ZM495.4,559.5L497.3,556.1L499.2,559.5ZM496.3,559.5L498.2,556.1L500.1,559.5ZM500.8,559.5L502.7,556.1L504.6,559.5ZM439.2,552.6L441.1,549.2L443,552.6ZM440.1,552.6L442,549.2L443.9,552.6ZM447.2,552.6L449.1,549.2L451,552.6ZM448.3,552.6L450.2,549.2L452.1,552.6ZM459.3,552.6L461.2,549.2L463.1,552.6ZM460.4,552.6L462.3,549.2L464.2,552.6ZM462.8,552.6L464.7,549.2L466.6,552.6ZM463.1,642.7L465,639.3L466.9,642.7ZM498.1,635.8L500,632.4L501.9,635.8ZM503.1,635.8L505,632.4L506.9,635.8ZM510.1,635.8L512,632.4L513.9,635.8ZM518.1,635.8L520,632.4L521.9,635.8ZM503.1,628.8L505,625.4L506.9,628.8ZM510.1,628.8L512,625.4L513.9,628.8ZM518.1,628.8L520,625.4L521.9,628.8ZM487.1,621.9L489,618.5L490.9,621.9ZM490.1,621.9L492,618.5L493.9,621.9ZM494.1,621.9L496,618.5L497.9,621.9ZM514.1,621.9L516,618.5L517.9,621.9ZM520.1,621.9L522,618.5L523.9,621.9ZM520.1,615L522,611.6L523.9,615ZM530.1,615L532,611.6L533.9,615ZM503.1,608.1L505,604.7L506.9,608.1ZM508.1,608.1L510,604.7L511.9,608.1ZM513.1,608.1L515,604.7L516.9,608.1ZM544.1,608.1L546,604.7L547.9,608.1ZM519.1,601.1L521,597.7L522.9,601.1ZM524.1,601.1L526,597.7L527.9,601.1ZM544.1,601.1L546,597.7L547.9,601.1ZM530.1,594.2L532,590.8L533.9,594.2ZM546.1,594.2L548,590.8L549.9,594.2ZM525.1,587.3L527,583.9L528.9,587.3ZM552.1,587.3L554,583.9L555.9,587.3ZM538.1,580.3L540,576.9L541.9,580.3ZM543.1,580.3L545,576.9L546.9,580.3ZM536.1,573.4L538,570L539.9,573.4ZM543.1,573.4L545,570L546.9,573.4ZM553.1,573.4L555,570L556.9,573.4ZM533.1,566.5L535,563.1L536.9,566.5ZM541.1,566.5L543,563.1L544.9,566.5ZM516.1,559.5L518,556.1L519.9,559.5ZM522.1,559.5L524,556.1L525.9,559.5ZM541.1,559.5L543,556.1L544.9,559.5ZM449.1,552.6L451,549.2L452.9,552.6ZM453.1,552.6L455,549.2L456.9,552.6ZM488.1,552.6L490,549.2L491.9,552.6ZM492.1,552.6L494,549.2L495.9,552.6ZM496.1,552.6L498,549.2L499.9,552.6ZM502.1,552.6L504,549.2L505.9,552.6ZM506.1,552.6L508,549.2L509.9,552.6ZM549.1,552.6L551,549.2L552.9,552.6ZM445.1,545.7L447,542.3L448.9,545.7ZM467.1,545.7L469,542.3L470.9,545.7ZM470.1,545.7L472,542.3L473.9,545.7ZM485.1,545.7L487,542.3L488.9,545.7ZM488.1,545.7L490,542.3L491.9,545.7ZM492.1,545.7L494,542.3L495.9,545.7ZM438.1,538.8L440,535.4L441.9,538.8ZM445.1,538.8L447,535.4L448.9,538.8ZM483.1,538.8L485,535.4L486.9,538.8ZM489.1,538.8L491,535.4L492.9,538.8ZM454.1,531.8L456,528.4L457.9,531.8ZM483.1,531.8L485,528.4L486.9,531.8ZM490.1,531.8L492,528.4L493.9,531.8ZM501.1,524.9L503,521.5L504.9,524.9ZM523.1,524.9L525,521.5L526.9,524.9ZM468.1,518L470,514.6L471.9,518ZM500.1,518L502,514.6L503.9,518ZM475.1,511L477,507.6L478.9,511ZM477.1,504.1L479,500.7L480.9,504.1ZM465.1,490.2L467,486.8L468.9,490.2Z" fill="#4bb9d9"/>
<g fill="#e5432f"><circle cx="413.8" cy="641.1" r="1.45"/><circle cx="414.7" cy="641.1" r="1.45"/><circle cx="415.7" cy="641.1" r="1.45"/><circle cx="416.5" cy="641.1" r="1.45"/><circle cx="417.6" cy="641.1" r="1.45"/><circle cx="418.6" cy="641.1" r="1.45"/><circle cx="419.8" cy="641.1" r="1.45"/><circle cx="420.9" cy="641.1" r="1.45"/><circle cx="421.7" cy="641.1" r="1.45"/><circle cx="422.5" cy="641.1" r="1.45"/><circle cx="423.2" cy="641.1" r="1.45"/><circle cx="423.9" cy="641.1" r="1.45"/><circle cx="424.6" cy="641.1" r="1.45"/><circle cx="425.4" cy="641.1" r="1.45"/><circle cx="426.3" cy="641.1" r="1.45"/><circle cx="426.9" cy="641.1" r="1.45"/><circle cx="427.9" cy="641.1" r="1.45"/><circle cx="428.7" cy="641.1" r="1.45"/><circle cx="429.5" cy="641.1" r="1.45"/><circle cx="430.6" cy="641.1" r="1.45"/><circle cx="431.5" cy="641.1" r="1.45"/><circle cx="432.3" cy="641.1" r="1.45"/><circle cx="413.8" cy="634.2" r="1.45"/><circle cx="415" cy="634.2" r="1.45"/><circle cx="415.9" cy="634.2" r="1.45"/><circle cx="416.8" cy="634.2" r="1.45"/><circle cx="417.8" cy="634.2" r="1.45"/><circle cx="418.7" cy="634.2" r="1.45"/><circle cx="419.5" cy="634.2" r="1.45"/><circle cx="420.3" cy="634.2" r="1.45"/><circle cx="421" cy="634.2" r="1.45"/><circle cx="421.8" cy="634.2" r="1.45"/><circle cx="423" cy="634.2" r="1.45"/><circle cx="424.2" cy="634.2" r="1.45"/><circle cx="425.2" cy="634.2" r="1.45"/><circle cx="426.1" cy="634.2" r="1.45"/><circle cx="426.9" cy="634.2" r="1.45"/><circle cx="427.5" cy="634.2" r="1.45"/><circle cx="428.3" cy="634.2" r="1.45"/><circle cx="429.3" cy="634.2" r="1.45"/><circle cx="430.5" cy="634.2" r="1.45"/><circle cx="431.3" cy="634.2" r="1.45"/><circle cx="432.3" cy="634.2" r="1.45"/><circle cx="413.8" cy="627.2" r="1.45"/><circle cx="414.7" cy="627.2" r="1.45"/><circle cx="415.9" cy="627.2" r="1.45"/><circle cx="417.1" cy="627.2" r="1.45"/><circle cx="418.1" cy="627.2" r="1.45"/><circle cx="418.9" cy="627.2" r="1.45"/><circle cx="420" cy="627.2" r="1.45"/><circle cx="420.6" cy="627.2" r="1.45"/><circle cx="421.3" cy="627.2" r="1.45"/><circle cx="422.2" cy="627.2" r="1.45"/><circle cx="423.2" cy="627.2" r="1.45"/><circle cx="423.9" cy="627.2" r="1.45"/><circle cx="424.8" cy="627.2" r="1.45"/><circle cx="426" cy="627.2" r="1.45"/><circle cx="426.8" cy="627.2" r="1.45"/><circle cx="427.7" cy="627.2" r="1.45"/><circle cx="428.4" cy="627.2" r="1.45"/><circle cx="413.8" cy="620.3" r="1.45"/><circle cx="414.8" cy="620.3" r="1.45"/><circle cx="415.5" cy="620.3" r="1.45"/><circle cx="416.6" cy="620.3" r="1.45"/><circle cx="417.3" cy="620.3" r="1.45"/><circle cx="418.3" cy="620.3" r="1.45"/><circle cx="419.4" cy="620.3" r="1.45"/><circle cx="420.5" cy="620.3" r="1.45"/><circle cx="421.2" cy="620.3" r="1.45"/><circle cx="421.9" cy="620.3" r="1.45"/><circle cx="423.1" cy="620.3" r="1.45"/><circle cx="423.8" cy="620.3" r="1.45"/><circle cx="424.7" cy="620.3" r="1.45"/><circle cx="425.6" cy="620.3" r="1.45"/><circle cx="426.3" cy="620.3" r="1.45"/><circle cx="427.3" cy="620.3" r="1.45"/><circle cx="427.9" cy="620.3" r="1.45"/><circle cx="428.5" cy="620.3" r="1.45"/><circle cx="429.4" cy="620.3" r="1.45"/><circle cx="430" cy="620.3" r="1.45"/><circle cx="430.7" cy="620.3" r="1.45"/><circle cx="431.6" cy="620.3" r="1.45"/><circle cx="432.6" cy="620.3" r="1.45"/><circle cx="413.8" cy="613.4" r="1.45"/><circle cx="414.6" cy="613.4" r="1.45"/><circle cx="415.3" cy="613.4" r="1.45"/><circle cx="415.9" cy="613.4" r="1.45"/><circle cx="417" cy="613.4" r="1.45"/><circle cx="417.9" cy="613.4" r="1.45"/><circle cx="419.1" cy="613.4" r="1.45"/><circle cx="419.7" cy="613.4" r="1.45"/><circle cx="420.5" cy="613.4" r="1.45"/><circle cx="421.1" cy="613.4" r="1.45"/><circle cx="422" cy="613.4" r="1.45"/><circle cx="422.6" cy="613.4" r="1.45"/><circle cx="423.3" cy="613.4" r="1.45"/><circle cx="424.2" cy="613.4" r="1.45"/><circle cx="425" cy="613.4" r="1.45"/><circle cx="425.6" cy="613.4" r="1.45"/><circle cx="426.2" cy="613.4" r="1.45"/><circle cx="427.4" cy="613.4" r="1.45"/><circle cx="428.1" cy="613.4" r="1.45"/><circle cx="429" cy="613.4" r="1.45"/><circle cx="429.9" cy="613.4" r="1.45"/><circle cx="430.8" cy="613.4" r="1.45"/><circle cx="413.8" cy="606.5" r="1.45"/><circle cx="414.8" cy="606.5" r="1.45"/><circle cx="415.6" cy="606.5" r="1.45"/><circle cx="416.3" cy="606.5" r="1.45"/><circle cx="417.4" cy="606.5" r="1.45"/><circle cx="418.3" cy="606.5" r="1.45"/><circle cx="418.9" cy="606.5" r="1.45"/><circle cx="419.6" cy="606.5" r="1.45"/><circle cx="420.3" cy="606.5" r="1.45"/><circle cx="421.3" cy="606.5" r="1.45"/><circle cx="422.4" cy="606.5" r="1.45"/><circle cx="423.2" cy="606.5" r="1.45"/><circle cx="424.2" cy="606.5" r="1.45"/><circle cx="425" cy="606.5" r="1.45"/><circle cx="426" cy="606.5" r="1.45"/><circle cx="427.2" cy="606.5" r="1.45"/><circle cx="413.8" cy="599.5" r="1.45"/><circle cx="414.8" cy="599.5" r="1.45"/><circle cx="415.6" cy="599.5" r="1.45"/><circle cx="416.6" cy="599.5" r="1.45"/><circle cx="417.5" cy="599.5" r="1.45"/><circle cx="418.7" cy="599.5" r="1.45"/><circle cx="419.8" cy="599.5" r="1.45"/><circle cx="420.5" cy="599.5" r="1.45"/><circle cx="421.5" cy="599.5" r="1.45"/><circle cx="422.6" cy="599.5" r="1.45"/><circle cx="413.8" cy="592.6" r="1.45"/><circle cx="414.7" cy="592.6" r="1.45"/><circle cx="415.5" cy="592.6" r="1.45"/><circle cx="416.3" cy="592.6" r="1.45"/><circle cx="417" cy="592.6" r="1.45"/><circle cx="417.6" cy="592.6" r="1.45"/><circle cx="418.4" cy="592.6" r="1.45"/><circle cx="419.1" cy="592.6" r="1.45"/><circle cx="420.3" cy="592.6" r="1.45"/><circle cx="421.1" cy="592.6" r="1.45"/><circle cx="421.8" cy="592.6" r="1.45"/><circle cx="422.9" cy="592.6" r="1.45"/><circle cx="423.9" cy="592.6" r="1.45"/><circle cx="413.8" cy="585.7" r="1.45"/><circle cx="414.5" cy="585.7" r="1.45"/><circle cx="415.2" cy="585.7" r="1.45"/><circle cx="415.8" cy="585.7" r="1.45"/><circle cx="416.7" cy="585.7" r="1.45"/><circle cx="417.7" cy="585.7" r="1.45"/><circle cx="418.8" cy="585.7" r="1.45"/><circle cx="419.5" cy="585.7" r="1.45"/><circle cx="420.5" cy="585.7" r="1.45"/><circle cx="421.2" cy="585.7" r="1.45"/><circle cx="413.8" cy="578.7" r="1.45"/><circle cx="414.6" cy="578.7" r="1.45"/><circle cx="415.7" cy="578.7" r="1.45"/><circle cx="416.8" cy="578.7" r="1.45"/><circle cx="417.6" cy="578.7" r="1.45"/><circle cx="418.6" cy="578.7" r="1.45"/><circle cx="419.2" cy="578.7" r="1.45"/><circle cx="413.8" cy="571.8" r="1.45"/><circle cx="414.5" cy="571.8" r="1.45"/><circle cx="415.5" cy="571.8" r="1.45"/><circle cx="413.8" cy="564.9" r="1.45"/><circle cx="414.6" cy="564.9" r="1.45"/><circle cx="415.4" cy="564.9" r="1.45"/><circle cx="413.8" cy="557.9" r="1.45"/><circle cx="413.8" cy="551" r="1.45"/><circle cx="413.8" cy="544.1" r="1.45"/><circle cx="437" cy="641.1" r="1.45"/><circle cx="439" cy="641.1" r="1.45"/><circle cx="435.4" cy="634.2" r="1.45"/><circle cx="441.2" cy="634.2" r="1.45"/><circle cx="434" cy="627.2" r="1.45"/><circle cx="436" cy="627.2" r="1.45"/><circle cx="438.9" cy="627.2" r="1.45"/><circle cx="451" cy="627.2" r="1.45"/><circle cx="437.7" cy="620.3" r="1.45"/><circle cx="439.5" cy="620.3" r="1.45"/><circle cx="434" cy="613.4" r="1.45"/><circle cx="437" cy="613.4" r="1.45"/><circle cx="433" cy="606.5" r="1.45"/><circle cx="442.5" cy="606.5" r="1.45"/><circle cx="428.4" cy="599.5" r="1.45"/><circle cx="433" cy="599.5" r="1.45"/><circle cx="442.3" cy="599.5" r="1.45"/><circle cx="427.8" cy="592.6" r="1.45"/><circle cx="433" cy="592.6" r="1.45"/><circle cx="443" cy="592.6" r="1.45"/><circle cx="425" cy="585.7" r="1.45"/><circle cx="430" cy="585.7" r="1.45"/><circle cx="424" cy="578.7" r="1.45"/><circle cx="419" cy="571.8" r="1.45"/><circle cx="423.5" cy="571.8" r="1.45"/><circle cx="414" cy="564.9" r="1.45"/><circle cx="417" cy="564.9" r="1.45"/><circle cx="420" cy="564.9" r="1.45"/><circle cx="414" cy="557.9" r="1.45"/><circle cx="422" cy="557.9" r="1.45"/><circle cx="425" cy="557.9" r="1.45"/><circle cx="415" cy="551" r="1.45"/><circle cx="418.4" cy="551" r="1.45"/><circle cx="415" cy="544.1" r="1.45"/><circle cx="414.9" cy="488.6" r="1.45"/><circle cx="414.7" cy="447.1" r="1.45"/><circle cx="422" cy="447.1" r="1.45"/><circle cx="415.3" cy="433.2" r="1.45"/><circle cx="414.7" cy="426.3" r="1.45"/></g>
<path d="M414.2,641.1L485.8,541.7" stroke="#e5432f" stroke-width="1.5"/>
<path d="M414.2,641.1L553.9,533.4" stroke="#4bb9d9" stroke-width="1.5"/>
<path d="M404.6,416.2V652.1H640.6" stroke="#111" stroke-width="1" fill="none"/>
<text x="401.4" y="644.4" font-size="9.3" fill="#222" text-anchor="end">0</text>
<text x="401.4" y="575.1" font-size="9.3" fill="#222" text-anchor="end">10</text>
<text x="401.4" y="505.8" font-size="9.3" fill="#222" text-anchor="end">20</text>
<text x="401.4" y="436.5" font-size="9.3" fill="#222" text-anchor="end">30</text>
<text x="414.2" y="661.9" font-size="9.3" fill="#222" text-anchor="middle">0</text>
<text x="477.6" y="661.9" font-size="9.3" fill="#222" text-anchor="middle">1</text>
<text x="541" y="661.9" font-size="9.3" fill="#222" text-anchor="middle">2</text>
<text x="604.4" y="661.9" font-size="9.3" fill="#222" text-anchor="middle">3</text>
<path d="M401.4,641.1H404.6M401.4,571.8H404.6M401.4,502.5H404.6M401.4,433.2H404.6M414.2,652.1V655M477.6,652.1V655M541,652.1V655M604.4,652.1V655" stroke="#111" stroke-width="0.9"/>
<text transform="translate(522.9 678.2) rotate(0) scale(0.9844 1)" x="-81.01" y="0" font-size="12.4" fill="#111">Short variation number (×10<tspan font-size="7.69" dy="-4.46">3</tspan><tspan dy="4.46">)</tspan></text>
<text transform="translate(386.2 534.0) rotate(-90) scale(0.9823 1)" x="-30.94" y="0" font-size="12.3" fill="#111">SV number</text>
<path d="M564.6,430.2H576.7" stroke="#e5432f" stroke-width="1.3"/><circle cx="570.6" cy="430.2" r="1.45" fill="#e5432f"/>
<path d="M564.6,444.2H576.7" stroke="#4bb9d9" stroke-width="1.3"/><path d="M568.9,445.6L570.6,442.6L572.3,445.6Z" fill="#4bb9d9"/>
<text x="581.71" y="433.10" font-size="8.6" fill="#222" textLength="58.34" lengthAdjust="spacingAndGlyphs">Inter-accession</text>
<text x="581.71" y="447.10" font-size="8.6" fill="#222" textLength="57.37" lengthAdjust="spacingAndGlyphs">Inter-haplotype</text>
<text x="486.4" y="511.2" font-size="8.5" fill="#e5432f" textLength="93.2" lengthAdjust="spacingAndGlyphs"><tspan font-style="italic">r</tspan> = 0.28, <tspan font-style="italic">P</tspan>-value &lt; 0.001</text>
<text x="557.8" y="528.2" font-size="8.5" fill="#4bb9d9" textLength="93.2" lengthAdjust="spacingAndGlyphs"><tspan font-style="italic">r</tspan> = 0.79, <tspan font-style="italic">P</tspan>-value &lt; 0.001</text>
</svg>
</body></html>
